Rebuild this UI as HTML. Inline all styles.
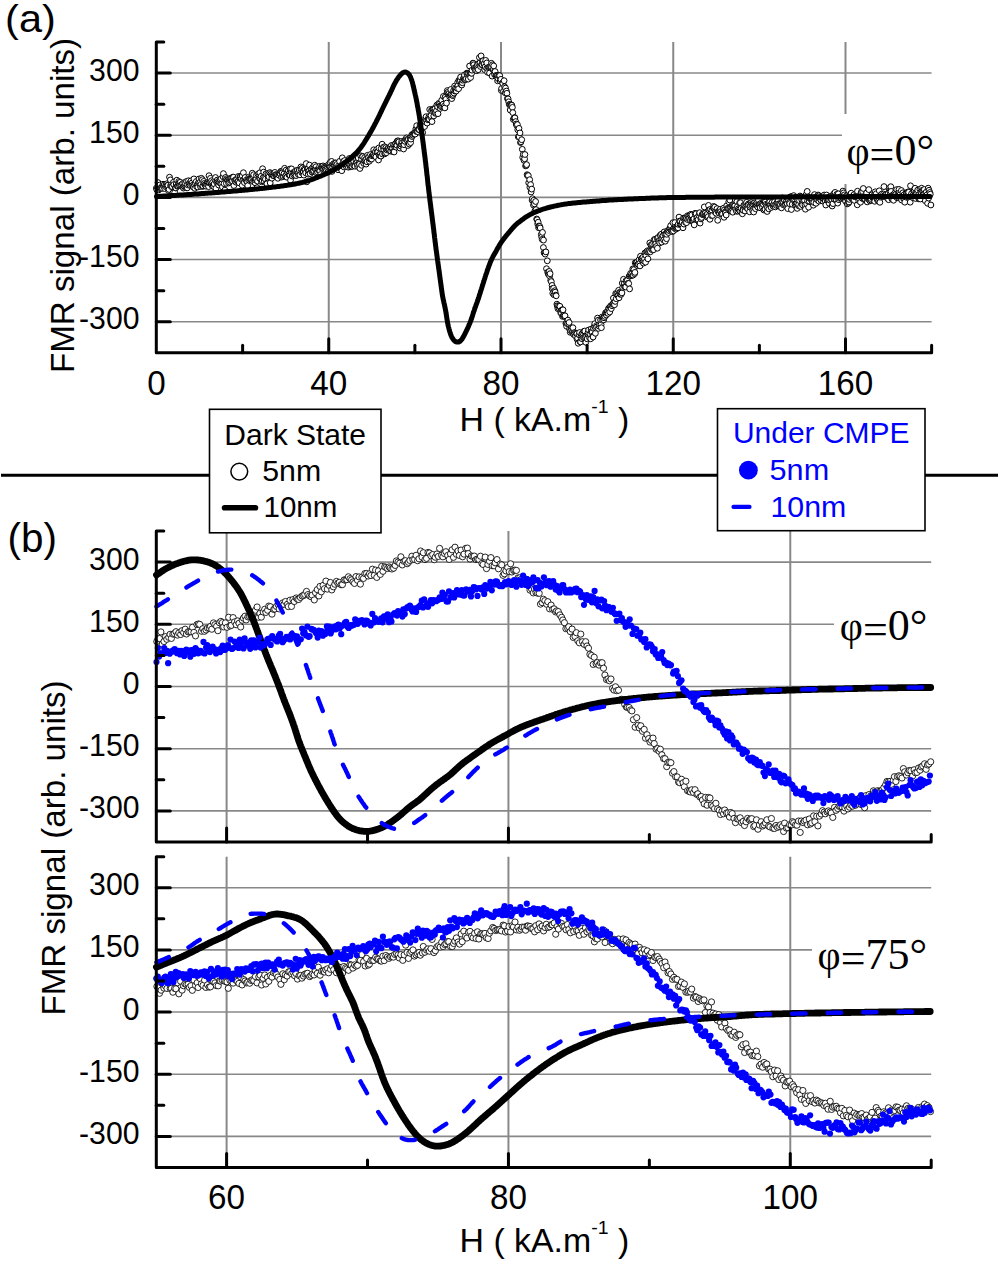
<!DOCTYPE html><html><head><meta charset="utf-8"><style>html,body{margin:0;padding:0;background:#fff;}svg{display:block;}</style></head><body>
<svg width="1000" height="1261" viewBox="0 0 1000 1261">
<rect width="1000" height="1261" fill="#fff"/>
<g stroke="#888888"><line x1="328.75" y1="42.0" x2="328.75" y2="352.8" stroke-width="2"/><line x1="501.00" y1="42.0" x2="501.00" y2="352.8" stroke-width="2"/><line x1="673.25" y1="42.0" x2="673.25" y2="352.8" stroke-width="2"/><line x1="845.50" y1="42.0" x2="845.50" y2="352.8" stroke-width="2"/><line x1="156.3" y1="73.05" x2="931.6" y2="73.05" stroke-width="1.6"/><line x1="156.3" y1="135.23" x2="931.6" y2="135.23" stroke-width="1.6"/><line x1="156.3" y1="197.40" x2="931.6" y2="197.40" stroke-width="1.6"/><line x1="156.3" y1="259.57" x2="931.6" y2="259.57" stroke-width="1.6"/><line x1="156.3" y1="321.75" x2="931.6" y2="321.75" stroke-width="1.6"/></g>
<rect x="842" y="114" width="92" height="70" fill="#fff"/>
<g fill="#fff" stroke="#000" stroke-width="1.0"><circle cx="156.4" cy="188.1" r="2.9"/><circle cx="156.8" cy="189.7" r="2.9"/><circle cx="157.8" cy="188.0" r="2.9"/><circle cx="158.0" cy="182.6" r="2.9"/><circle cx="158.7" cy="189.9" r="2.9"/><circle cx="159.2" cy="188.3" r="2.9"/><circle cx="159.8" cy="185.0" r="2.9"/><circle cx="160.3" cy="188.7" r="2.9"/><circle cx="160.9" cy="187.9" r="2.9"/><circle cx="161.5" cy="187.7" r="2.9"/><circle cx="162.1" cy="186.8" r="2.9"/><circle cx="162.5" cy="188.4" r="2.9"/><circle cx="163.0" cy="184.2" r="2.9"/><circle cx="163.5" cy="186.0" r="2.9"/><circle cx="164.3" cy="184.9" r="2.9"/><circle cx="164.7" cy="188.5" r="2.9"/><circle cx="165.4" cy="186.6" r="2.9"/><circle cx="165.9" cy="185.4" r="2.9"/><circle cx="166.7" cy="183.8" r="2.9"/><circle cx="167.0" cy="185.5" r="2.9"/><circle cx="167.6" cy="186.3" r="2.9"/><circle cx="167.9" cy="185.3" r="2.9"/><circle cx="168.4" cy="190.5" r="2.9"/><circle cx="169.1" cy="189.5" r="2.9"/><circle cx="169.5" cy="177.2" r="2.9"/><circle cx="170.4" cy="179.9" r="2.9"/><circle cx="170.6" cy="185.5" r="2.9"/><circle cx="171.4" cy="184.6" r="2.9"/><circle cx="171.5" cy="186.7" r="2.9"/><circle cx="172.3" cy="186.7" r="2.9"/><circle cx="172.9" cy="192.9" r="2.9"/><circle cx="173.5" cy="182.2" r="2.9"/><circle cx="173.8" cy="184.6" r="2.9"/><circle cx="174.7" cy="192.5" r="2.9"/><circle cx="175.3" cy="187.9" r="2.9"/><circle cx="175.8" cy="187.9" r="2.9"/><circle cx="176.2" cy="184.0" r="2.9"/><circle cx="176.8" cy="180.2" r="2.9"/><circle cx="177.2" cy="186.2" r="2.9"/><circle cx="178.0" cy="185.9" r="2.9"/><circle cx="178.7" cy="181.5" r="2.9"/><circle cx="179.0" cy="183.2" r="2.9"/><circle cx="179.3" cy="185.2" r="2.9"/><circle cx="180.2" cy="182.3" r="2.9"/><circle cx="180.8" cy="185.0" r="2.9"/><circle cx="180.8" cy="185.6" r="2.9"/><circle cx="181.8" cy="185.4" r="2.9"/><circle cx="182.7" cy="183.6" r="2.9"/><circle cx="183.0" cy="187.2" r="2.9"/><circle cx="183.5" cy="188.1" r="2.9"/><circle cx="184.1" cy="186.2" r="2.9"/><circle cx="184.7" cy="182.4" r="2.9"/><circle cx="185.0" cy="187.4" r="2.9"/><circle cx="185.5" cy="183.3" r="2.9"/><circle cx="186.3" cy="187.8" r="2.9"/><circle cx="186.6" cy="181.4" r="2.9"/><circle cx="187.3" cy="187.9" r="2.9"/><circle cx="187.6" cy="184.8" r="2.9"/><circle cx="188.5" cy="180.7" r="2.9"/><circle cx="189.1" cy="183.7" r="2.9"/><circle cx="189.5" cy="184.9" r="2.9"/><circle cx="190.1" cy="185.5" r="2.9"/><circle cx="190.8" cy="181.4" r="2.9"/><circle cx="191.0" cy="180.9" r="2.9"/><circle cx="191.6" cy="185.2" r="2.9"/><circle cx="192.1" cy="182.9" r="2.9"/><circle cx="192.7" cy="185.2" r="2.9"/><circle cx="193.2" cy="186.9" r="2.9"/><circle cx="193.9" cy="178.9" r="2.9"/><circle cx="194.4" cy="185.1" r="2.9"/><circle cx="194.8" cy="188.3" r="2.9"/><circle cx="195.3" cy="183.2" r="2.9"/><circle cx="196.3" cy="181.5" r="2.9"/><circle cx="196.6" cy="186.6" r="2.9"/><circle cx="197.2" cy="184.9" r="2.9"/><circle cx="197.8" cy="187.0" r="2.9"/><circle cx="198.3" cy="182.8" r="2.9"/><circle cx="199.0" cy="179.0" r="2.9"/><circle cx="199.5" cy="183.5" r="2.9"/><circle cx="199.9" cy="182.4" r="2.9"/><circle cx="200.4" cy="186.4" r="2.9"/><circle cx="200.9" cy="184.4" r="2.9"/><circle cx="201.4" cy="178.3" r="2.9"/><circle cx="202.4" cy="179.7" r="2.9"/><circle cx="202.6" cy="186.5" r="2.9"/><circle cx="202.9" cy="185.8" r="2.9"/><circle cx="203.7" cy="181.4" r="2.9"/><circle cx="204.2" cy="183.5" r="2.9"/><circle cx="204.9" cy="184.9" r="2.9"/><circle cx="205.3" cy="184.9" r="2.9"/><circle cx="206.1" cy="186.2" r="2.9"/><circle cx="206.6" cy="184.1" r="2.9"/><circle cx="207.3" cy="182.9" r="2.9"/><circle cx="208.0" cy="182.3" r="2.9"/><circle cx="208.6" cy="186.6" r="2.9"/><circle cx="209.0" cy="175.7" r="2.9"/><circle cx="209.1" cy="182.6" r="2.9"/><circle cx="209.8" cy="183.1" r="2.9"/><circle cx="210.4" cy="178.3" r="2.9"/><circle cx="211.3" cy="184.0" r="2.9"/><circle cx="211.6" cy="180.7" r="2.9"/><circle cx="212.2" cy="185.7" r="2.9"/><circle cx="212.6" cy="182.4" r="2.9"/><circle cx="213.2" cy="184.9" r="2.9"/><circle cx="213.8" cy="186.7" r="2.9"/><circle cx="214.2" cy="183.9" r="2.9"/><circle cx="214.9" cy="179.7" r="2.9"/><circle cx="215.5" cy="177.5" r="2.9"/><circle cx="215.9" cy="188.3" r="2.9"/><circle cx="216.6" cy="182.1" r="2.9"/><circle cx="217.2" cy="180.1" r="2.9"/><circle cx="217.6" cy="182.8" r="2.9"/><circle cx="218.1" cy="181.6" r="2.9"/><circle cx="218.6" cy="185.0" r="2.9"/><circle cx="219.1" cy="182.3" r="2.9"/><circle cx="219.8" cy="182.2" r="2.9"/><circle cx="220.2" cy="179.7" r="2.9"/><circle cx="220.8" cy="183.6" r="2.9"/><circle cx="221.3" cy="178.6" r="2.9"/><circle cx="221.7" cy="184.1" r="2.9"/><circle cx="222.4" cy="186.9" r="2.9"/><circle cx="223.1" cy="176.8" r="2.9"/><circle cx="223.4" cy="173.6" r="2.9"/><circle cx="224.1" cy="183.7" r="2.9"/><circle cx="224.9" cy="190.1" r="2.9"/><circle cx="225.4" cy="178.3" r="2.9"/><circle cx="225.7" cy="177.4" r="2.9"/><circle cx="226.4" cy="183.4" r="2.9"/><circle cx="226.8" cy="178.7" r="2.9"/><circle cx="227.7" cy="179.7" r="2.9"/><circle cx="227.9" cy="180.2" r="2.9"/><circle cx="228.6" cy="183.0" r="2.9"/><circle cx="229.3" cy="179.9" r="2.9"/><circle cx="229.5" cy="182.1" r="2.9"/><circle cx="230.4" cy="180.5" r="2.9"/><circle cx="230.6" cy="178.3" r="2.9"/><circle cx="231.3" cy="179.9" r="2.9"/><circle cx="231.8" cy="177.8" r="2.9"/><circle cx="232.4" cy="180.9" r="2.9"/><circle cx="233.0" cy="177.1" r="2.9"/><circle cx="233.5" cy="177.2" r="2.9"/><circle cx="233.9" cy="185.5" r="2.9"/><circle cx="234.7" cy="180.5" r="2.9"/><circle cx="235.3" cy="180.4" r="2.9"/><circle cx="235.9" cy="182.2" r="2.9"/><circle cx="236.5" cy="179.1" r="2.9"/><circle cx="236.6" cy="179.7" r="2.9"/><circle cx="237.5" cy="181.8" r="2.9"/><circle cx="238.1" cy="181.2" r="2.9"/><circle cx="238.4" cy="176.4" r="2.9"/><circle cx="239.2" cy="182.9" r="2.9"/><circle cx="239.8" cy="178.2" r="2.9"/><circle cx="240.0" cy="176.6" r="2.9"/><circle cx="240.4" cy="177.0" r="2.9"/><circle cx="241.1" cy="178.7" r="2.9"/><circle cx="242.2" cy="185.3" r="2.9"/><circle cx="242.3" cy="176.0" r="2.9"/><circle cx="242.7" cy="180.3" r="2.9"/><circle cx="243.4" cy="172.7" r="2.9"/><circle cx="243.8" cy="179.7" r="2.9"/><circle cx="244.4" cy="182.6" r="2.9"/><circle cx="245.1" cy="178.8" r="2.9"/><circle cx="245.2" cy="177.4" r="2.9"/><circle cx="246.2" cy="180.2" r="2.9"/><circle cx="246.9" cy="181.7" r="2.9"/><circle cx="247.2" cy="181.5" r="2.9"/><circle cx="247.7" cy="185.7" r="2.9"/><circle cx="248.5" cy="179.9" r="2.9"/><circle cx="248.7" cy="177.2" r="2.9"/><circle cx="249.3" cy="178.6" r="2.9"/><circle cx="249.8" cy="178.8" r="2.9"/><circle cx="250.5" cy="179.3" r="2.9"/><circle cx="251.2" cy="178.8" r="2.9"/><circle cx="251.6" cy="179.4" r="2.9"/><circle cx="252.3" cy="173.2" r="2.9"/><circle cx="252.9" cy="181.4" r="2.9"/><circle cx="253.4" cy="176.7" r="2.9"/><circle cx="253.7" cy="174.7" r="2.9"/><circle cx="254.4" cy="180.6" r="2.9"/><circle cx="255.1" cy="182.8" r="2.9"/><circle cx="255.3" cy="180.0" r="2.9"/><circle cx="256.0" cy="178.9" r="2.9"/><circle cx="256.5" cy="175.2" r="2.9"/><circle cx="257.1" cy="187.7" r="2.9"/><circle cx="257.5" cy="181.1" r="2.9"/><circle cx="258.0" cy="174.3" r="2.9"/><circle cx="259.2" cy="175.5" r="2.9"/><circle cx="259.5" cy="178.3" r="2.9"/><circle cx="259.8" cy="172.8" r="2.9"/><circle cx="260.4" cy="178.4" r="2.9"/><circle cx="261.1" cy="176.3" r="2.9"/><circle cx="261.5" cy="181.8" r="2.9"/><circle cx="262.2" cy="180.8" r="2.9"/><circle cx="262.6" cy="168.7" r="2.9"/><circle cx="263.1" cy="177.7" r="2.9"/><circle cx="263.7" cy="172.1" r="2.9"/><circle cx="264.2" cy="181.1" r="2.9"/><circle cx="264.5" cy="177.9" r="2.9"/><circle cx="265.4" cy="179.1" r="2.9"/><circle cx="266.0" cy="173.7" r="2.9"/><circle cx="266.6" cy="183.2" r="2.9"/><circle cx="266.9" cy="183.8" r="2.9"/><circle cx="267.7" cy="173.5" r="2.9"/><circle cx="268.2" cy="178.2" r="2.9"/><circle cx="268.4" cy="174.7" r="2.9"/><circle cx="268.9" cy="176.8" r="2.9"/><circle cx="269.9" cy="172.6" r="2.9"/><circle cx="270.2" cy="182.9" r="2.9"/><circle cx="271.1" cy="173.5" r="2.9"/><circle cx="271.8" cy="175.6" r="2.9"/><circle cx="271.9" cy="178.2" r="2.9"/><circle cx="272.4" cy="174.3" r="2.9"/><circle cx="273.1" cy="175.6" r="2.9"/><circle cx="273.8" cy="174.5" r="2.9"/><circle cx="274.0" cy="175.8" r="2.9"/><circle cx="274.9" cy="172.4" r="2.9"/><circle cx="275.4" cy="174.7" r="2.9"/><circle cx="275.9" cy="175.4" r="2.9"/><circle cx="276.3" cy="174.9" r="2.9"/><circle cx="277.1" cy="176.1" r="2.9"/><circle cx="277.6" cy="174.9" r="2.9"/><circle cx="277.9" cy="178.3" r="2.9"/><circle cx="278.9" cy="174.7" r="2.9"/><circle cx="279.1" cy="175.2" r="2.9"/><circle cx="279.8" cy="173.4" r="2.9"/><circle cx="280.2" cy="173.8" r="2.9"/><circle cx="280.9" cy="171.3" r="2.9"/><circle cx="281.5" cy="177.1" r="2.9"/><circle cx="281.8" cy="171.6" r="2.9"/><circle cx="282.2" cy="172.8" r="2.9"/><circle cx="282.9" cy="176.4" r="2.9"/><circle cx="283.4" cy="176.5" r="2.9"/><circle cx="284.0" cy="173.7" r="2.9"/><circle cx="284.6" cy="168.3" r="2.9"/><circle cx="285.2" cy="176.3" r="2.9"/><circle cx="285.9" cy="175.7" r="2.9"/><circle cx="286.1" cy="170.1" r="2.9"/><circle cx="286.9" cy="177.2" r="2.9"/><circle cx="287.3" cy="172.3" r="2.9"/><circle cx="288.2" cy="170.8" r="2.9"/><circle cx="288.9" cy="174.8" r="2.9"/><circle cx="289.1" cy="173.8" r="2.9"/><circle cx="289.9" cy="175.0" r="2.9"/><circle cx="290.1" cy="169.0" r="2.9"/><circle cx="290.5" cy="180.2" r="2.9"/><circle cx="291.1" cy="172.1" r="2.9"/><circle cx="291.6" cy="168.9" r="2.9"/><circle cx="292.2" cy="176.0" r="2.9"/><circle cx="292.9" cy="172.7" r="2.9"/><circle cx="293.6" cy="174.9" r="2.9"/><circle cx="294.1" cy="172.6" r="2.9"/><circle cx="294.6" cy="173.4" r="2.9"/><circle cx="295.0" cy="174.4" r="2.9"/><circle cx="295.5" cy="171.0" r="2.9"/><circle cx="296.2" cy="175.6" r="2.9"/><circle cx="296.8" cy="171.7" r="2.9"/><circle cx="297.3" cy="170.3" r="2.9"/><circle cx="297.9" cy="173.4" r="2.9"/><circle cx="298.4" cy="174.5" r="2.9"/><circle cx="298.7" cy="172.2" r="2.9"/><circle cx="299.3" cy="170.0" r="2.9"/><circle cx="299.9" cy="174.8" r="2.9"/><circle cx="300.9" cy="166.9" r="2.9"/><circle cx="301.1" cy="169.2" r="2.9"/><circle cx="301.8" cy="172.6" r="2.9"/><circle cx="302.5" cy="167.9" r="2.9"/><circle cx="302.9" cy="172.4" r="2.9"/><circle cx="303.3" cy="172.0" r="2.9"/><circle cx="303.9" cy="175.1" r="2.9"/><circle cx="304.3" cy="169.0" r="2.9"/><circle cx="305.0" cy="169.8" r="2.9"/><circle cx="305.7" cy="172.9" r="2.9"/><circle cx="306.2" cy="163.6" r="2.9"/><circle cx="306.8" cy="181.8" r="2.9"/><circle cx="307.3" cy="169.1" r="2.9"/><circle cx="308.1" cy="168.9" r="2.9"/><circle cx="308.2" cy="174.1" r="2.9"/><circle cx="308.9" cy="171.0" r="2.9"/><circle cx="309.5" cy="165.1" r="2.9"/><circle cx="310.1" cy="172.9" r="2.9"/><circle cx="310.1" cy="173.6" r="2.9"/><circle cx="311.0" cy="169.2" r="2.9"/><circle cx="311.6" cy="169.6" r="2.9"/><circle cx="312.0" cy="172.0" r="2.9"/><circle cx="312.8" cy="167.3" r="2.9"/><circle cx="313.3" cy="171.6" r="2.9"/><circle cx="313.7" cy="170.7" r="2.9"/><circle cx="314.1" cy="167.7" r="2.9"/><circle cx="314.7" cy="165.2" r="2.9"/><circle cx="315.3" cy="169.0" r="2.9"/><circle cx="316.1" cy="166.7" r="2.9"/><circle cx="316.4" cy="172.8" r="2.9"/><circle cx="316.8" cy="169.8" r="2.9"/><circle cx="317.4" cy="171.8" r="2.9"/><circle cx="318.1" cy="169.6" r="2.9"/><circle cx="319.0" cy="169.9" r="2.9"/><circle cx="319.7" cy="166.3" r="2.9"/><circle cx="319.8" cy="171.0" r="2.9"/><circle cx="320.5" cy="174.6" r="2.9"/><circle cx="321.2" cy="167.6" r="2.9"/><circle cx="321.7" cy="166.5" r="2.9"/><circle cx="322.0" cy="167.8" r="2.9"/><circle cx="322.4" cy="166.7" r="2.9"/><circle cx="323.1" cy="165.9" r="2.9"/><circle cx="323.4" cy="168.5" r="2.9"/><circle cx="324.3" cy="167.0" r="2.9"/><circle cx="324.9" cy="172.6" r="2.9"/><circle cx="325.1" cy="167.8" r="2.9"/><circle cx="325.9" cy="168.8" r="2.9"/><circle cx="326.5" cy="170.8" r="2.9"/><circle cx="327.2" cy="166.5" r="2.9"/><circle cx="327.8" cy="172.2" r="2.9"/><circle cx="328.2" cy="165.3" r="2.9"/><circle cx="328.5" cy="164.6" r="2.9"/><circle cx="329.1" cy="166.0" r="2.9"/><circle cx="329.9" cy="166.7" r="2.9"/><circle cx="330.2" cy="162.4" r="2.9"/><circle cx="330.8" cy="166.8" r="2.9"/><circle cx="331.6" cy="161.4" r="2.9"/><circle cx="332.0" cy="171.4" r="2.9"/><circle cx="332.3" cy="166.5" r="2.9"/><circle cx="333.0" cy="164.5" r="2.9"/><circle cx="333.7" cy="163.6" r="2.9"/><circle cx="334.1" cy="165.2" r="2.9"/><circle cx="334.9" cy="165.7" r="2.9"/><circle cx="335.4" cy="162.9" r="2.9"/><circle cx="335.7" cy="163.2" r="2.9"/><circle cx="336.3" cy="165.6" r="2.9"/><circle cx="336.9" cy="164.4" r="2.9"/><circle cx="337.3" cy="169.1" r="2.9"/><circle cx="338.1" cy="169.7" r="2.9"/><circle cx="338.5" cy="165.9" r="2.9"/><circle cx="339.2" cy="167.4" r="2.9"/><circle cx="339.6" cy="161.3" r="2.9"/><circle cx="340.1" cy="167.8" r="2.9"/><circle cx="341.0" cy="165.5" r="2.9"/><circle cx="341.2" cy="167.1" r="2.9"/><circle cx="341.8" cy="170.7" r="2.9"/><circle cx="342.3" cy="157.8" r="2.9"/><circle cx="342.9" cy="166.1" r="2.9"/><circle cx="343.4" cy="161.5" r="2.9"/><circle cx="344.0" cy="167.0" r="2.9"/><circle cx="344.5" cy="160.6" r="2.9"/><circle cx="345.1" cy="163.3" r="2.9"/><circle cx="345.8" cy="165.5" r="2.9"/><circle cx="346.4" cy="166.7" r="2.9"/><circle cx="346.9" cy="164.8" r="2.9"/><circle cx="347.2" cy="161.9" r="2.9"/><circle cx="348.0" cy="162.6" r="2.9"/><circle cx="348.4" cy="167.2" r="2.9"/><circle cx="349.0" cy="164.2" r="2.9"/><circle cx="349.3" cy="158.5" r="2.9"/><circle cx="350.2" cy="166.8" r="2.9"/><circle cx="350.6" cy="165.2" r="2.9"/><circle cx="351.5" cy="166.6" r="2.9"/><circle cx="351.8" cy="162.5" r="2.9"/><circle cx="352.1" cy="166.3" r="2.9"/><circle cx="352.6" cy="159.9" r="2.9"/><circle cx="353.6" cy="165.2" r="2.9"/><circle cx="353.8" cy="161.5" r="2.9"/><circle cx="354.6" cy="165.3" r="2.9"/><circle cx="355.0" cy="166.2" r="2.9"/><circle cx="355.9" cy="160.3" r="2.9"/><circle cx="356.2" cy="162.5" r="2.9"/><circle cx="356.9" cy="162.6" r="2.9"/><circle cx="357.5" cy="166.3" r="2.9"/><circle cx="357.7" cy="164.5" r="2.9"/><circle cx="358.3" cy="158.0" r="2.9"/><circle cx="359.1" cy="163.4" r="2.9"/><circle cx="359.5" cy="164.2" r="2.9"/><circle cx="359.9" cy="168.5" r="2.9"/><circle cx="360.7" cy="155.8" r="2.9"/><circle cx="361.5" cy="159.4" r="2.9"/><circle cx="361.6" cy="165.3" r="2.9"/><circle cx="362.4" cy="156.3" r="2.9"/><circle cx="362.7" cy="156.6" r="2.9"/><circle cx="363.5" cy="162.0" r="2.9"/><circle cx="363.8" cy="163.4" r="2.9"/><circle cx="364.6" cy="157.6" r="2.9"/><circle cx="365.0" cy="161.4" r="2.9"/><circle cx="365.5" cy="159.7" r="2.9"/><circle cx="366.1" cy="164.1" r="2.9"/><circle cx="366.5" cy="158.8" r="2.9"/><circle cx="367.0" cy="161.8" r="2.9"/><circle cx="367.5" cy="155.3" r="2.9"/><circle cx="368.2" cy="157.4" r="2.9"/><circle cx="368.6" cy="157.4" r="2.9"/><circle cx="369.4" cy="161.2" r="2.9"/><circle cx="370.0" cy="159.1" r="2.9"/><circle cx="370.5" cy="154.5" r="2.9"/><circle cx="370.9" cy="158.9" r="2.9"/><circle cx="371.6" cy="159.0" r="2.9"/><circle cx="372.1" cy="155.8" r="2.9"/><circle cx="372.9" cy="155.1" r="2.9"/><circle cx="373.1" cy="155.0" r="2.9"/><circle cx="373.7" cy="149.8" r="2.9"/><circle cx="374.3" cy="155.8" r="2.9"/><circle cx="374.8" cy="155.7" r="2.9"/><circle cx="375.3" cy="151.8" r="2.9"/><circle cx="375.9" cy="156.9" r="2.9"/><circle cx="376.7" cy="149.6" r="2.9"/><circle cx="377.0" cy="152.1" r="2.9"/><circle cx="377.7" cy="152.1" r="2.9"/><circle cx="378.5" cy="160.0" r="2.9"/><circle cx="378.9" cy="147.9" r="2.9"/><circle cx="379.0" cy="154.8" r="2.9"/><circle cx="379.9" cy="155.8" r="2.9"/><circle cx="380.4" cy="153.7" r="2.9"/><circle cx="381.0" cy="156.1" r="2.9"/><circle cx="381.2" cy="148.6" r="2.9"/><circle cx="382.1" cy="144.2" r="2.9"/><circle cx="382.4" cy="154.0" r="2.9"/><circle cx="383.3" cy="147.3" r="2.9"/><circle cx="383.8" cy="149.9" r="2.9"/><circle cx="384.6" cy="146.8" r="2.9"/><circle cx="384.7" cy="153.9" r="2.9"/><circle cx="385.1" cy="153.1" r="2.9"/><circle cx="386.0" cy="147.6" r="2.9"/><circle cx="386.5" cy="152.7" r="2.9"/><circle cx="386.9" cy="149.9" r="2.9"/><circle cx="387.7" cy="148.8" r="2.9"/><circle cx="388.2" cy="149.2" r="2.9"/><circle cx="388.4" cy="148.1" r="2.9"/><circle cx="389.1" cy="150.5" r="2.9"/><circle cx="389.6" cy="149.3" r="2.9"/><circle cx="390.2" cy="146.9" r="2.9"/><circle cx="390.8" cy="151.1" r="2.9"/><circle cx="391.3" cy="145.5" r="2.9"/><circle cx="391.9" cy="148.2" r="2.9"/><circle cx="392.5" cy="148.4" r="2.9"/><circle cx="393.0" cy="151.7" r="2.9"/><circle cx="393.5" cy="144.9" r="2.9"/><circle cx="394.1" cy="152.0" r="2.9"/><circle cx="394.6" cy="146.6" r="2.9"/><circle cx="394.9" cy="145.1" r="2.9"/><circle cx="395.8" cy="143.3" r="2.9"/><circle cx="396.2" cy="147.2" r="2.9"/><circle cx="396.9" cy="145.2" r="2.9"/><circle cx="397.2" cy="141.1" r="2.9"/><circle cx="398.1" cy="140.8" r="2.9"/><circle cx="398.5" cy="142.5" r="2.9"/><circle cx="398.9" cy="141.8" r="2.9"/><circle cx="399.6" cy="147.4" r="2.9"/><circle cx="400.0" cy="148.1" r="2.9"/><circle cx="401.0" cy="146.2" r="2.9"/><circle cx="401.3" cy="144.2" r="2.9"/><circle cx="401.7" cy="141.4" r="2.9"/><circle cx="402.4" cy="142.7" r="2.9"/><circle cx="402.9" cy="145.2" r="2.9"/><circle cx="403.6" cy="149.0" r="2.9"/><circle cx="404.1" cy="144.7" r="2.9"/><circle cx="404.6" cy="140.5" r="2.9"/><circle cx="404.9" cy="141.3" r="2.9"/><circle cx="405.8" cy="139.2" r="2.9"/><circle cx="406.5" cy="137.9" r="2.9"/><circle cx="406.9" cy="139.6" r="2.9"/><circle cx="407.3" cy="140.5" r="2.9"/><circle cx="407.9" cy="145.5" r="2.9"/><circle cx="408.3" cy="139.2" r="2.9"/><circle cx="409.0" cy="143.1" r="2.9"/><circle cx="409.3" cy="144.0" r="2.9"/><circle cx="410.1" cy="138.0" r="2.9"/><circle cx="410.6" cy="142.6" r="2.9"/><circle cx="411.0" cy="139.1" r="2.9"/><circle cx="411.8" cy="134.8" r="2.9"/><circle cx="412.0" cy="136.5" r="2.9"/><circle cx="412.8" cy="135.2" r="2.9"/><circle cx="413.2" cy="133.7" r="2.9"/><circle cx="414.2" cy="133.2" r="2.9"/><circle cx="414.8" cy="133.8" r="2.9"/><circle cx="415.1" cy="134.1" r="2.9"/><circle cx="415.8" cy="129.1" r="2.9"/><circle cx="416.2" cy="131.4" r="2.9"/><circle cx="416.7" cy="125.7" r="2.9"/><circle cx="417.1" cy="131.0" r="2.9"/><circle cx="417.6" cy="131.6" r="2.9"/><circle cx="418.3" cy="129.4" r="2.9"/><circle cx="418.8" cy="129.2" r="2.9"/><circle cx="419.3" cy="129.6" r="2.9"/><circle cx="420.1" cy="124.9" r="2.9"/><circle cx="420.5" cy="125.7" r="2.9"/><circle cx="420.8" cy="127.6" r="2.9"/><circle cx="421.6" cy="128.6" r="2.9"/><circle cx="422.0" cy="126.0" r="2.9"/><circle cx="422.7" cy="132.6" r="2.9"/><circle cx="423.1" cy="123.2" r="2.9"/><circle cx="424.0" cy="126.3" r="2.9"/><circle cx="424.6" cy="126.5" r="2.9"/><circle cx="424.7" cy="121.3" r="2.9"/><circle cx="425.6" cy="118.5" r="2.9"/><circle cx="426.1" cy="116.7" r="2.9"/><circle cx="426.4" cy="120.6" r="2.9"/><circle cx="427.1" cy="123.1" r="2.9"/><circle cx="427.9" cy="119.8" r="2.9"/><circle cx="428.3" cy="118.9" r="2.9"/><circle cx="429.0" cy="116.5" r="2.9"/><circle cx="429.1" cy="119.0" r="2.9"/><circle cx="429.7" cy="109.5" r="2.9"/><circle cx="430.5" cy="116.8" r="2.9"/><circle cx="431.0" cy="115.6" r="2.9"/><circle cx="431.5" cy="110.4" r="2.9"/><circle cx="432.0" cy="121.6" r="2.9"/><circle cx="432.5" cy="109.3" r="2.9"/><circle cx="433.1" cy="109.7" r="2.9"/><circle cx="433.8" cy="108.8" r="2.9"/><circle cx="433.8" cy="115.9" r="2.9"/><circle cx="435.0" cy="108.7" r="2.9"/><circle cx="435.3" cy="113.3" r="2.9"/><circle cx="435.7" cy="112.5" r="2.9"/><circle cx="436.5" cy="110.8" r="2.9"/><circle cx="436.8" cy="105.1" r="2.9"/><circle cx="437.6" cy="106.8" r="2.9"/><circle cx="438.0" cy="113.7" r="2.9"/><circle cx="438.7" cy="103.4" r="2.9"/><circle cx="439.3" cy="104.2" r="2.9"/><circle cx="440.0" cy="105.8" r="2.9"/><circle cx="440.2" cy="108.4" r="2.9"/><circle cx="440.8" cy="105.9" r="2.9"/><circle cx="441.4" cy="106.8" r="2.9"/><circle cx="441.7" cy="100.2" r="2.9"/><circle cx="442.6" cy="106.2" r="2.9"/><circle cx="443.1" cy="104.2" r="2.9"/><circle cx="443.4" cy="96.4" r="2.9"/><circle cx="444.3" cy="106.1" r="2.9"/><circle cx="444.9" cy="107.9" r="2.9"/><circle cx="445.1" cy="97.2" r="2.9"/><circle cx="445.9" cy="99.3" r="2.9"/><circle cx="446.5" cy="103.1" r="2.9"/><circle cx="447.0" cy="92.9" r="2.9"/><circle cx="447.3" cy="90.6" r="2.9"/><circle cx="447.8" cy="92.3" r="2.9"/><circle cx="448.5" cy="94.1" r="2.9"/><circle cx="449.0" cy="93.5" r="2.9"/><circle cx="449.7" cy="96.8" r="2.9"/><circle cx="450.2" cy="95.1" r="2.9"/><circle cx="450.8" cy="89.5" r="2.9"/><circle cx="451.2" cy="94.9" r="2.9"/><circle cx="451.8" cy="98.6" r="2.9"/><circle cx="452.8" cy="95.7" r="2.9"/><circle cx="452.9" cy="94.4" r="2.9"/><circle cx="453.6" cy="90.6" r="2.9"/><circle cx="454.1" cy="93.1" r="2.9"/><circle cx="454.6" cy="86.1" r="2.9"/><circle cx="455.0" cy="91.1" r="2.9"/><circle cx="455.8" cy="87.7" r="2.9"/><circle cx="456.2" cy="91.0" r="2.9"/><circle cx="456.9" cy="88.2" r="2.9"/><circle cx="457.7" cy="82.4" r="2.9"/><circle cx="457.9" cy="85.7" r="2.9"/><circle cx="458.6" cy="88.7" r="2.9"/><circle cx="458.9" cy="80.3" r="2.9"/><circle cx="459.6" cy="81.5" r="2.9"/><circle cx="460.3" cy="80.1" r="2.9"/><circle cx="460.6" cy="77.1" r="2.9"/><circle cx="461.1" cy="84.5" r="2.9"/><circle cx="461.8" cy="85.0" r="2.9"/><circle cx="462.3" cy="82.7" r="2.9"/><circle cx="462.8" cy="80.2" r="2.9"/><circle cx="463.3" cy="78.6" r="2.9"/><circle cx="464.3" cy="78.9" r="2.9"/><circle cx="464.4" cy="75.0" r="2.9"/><circle cx="465.0" cy="79.7" r="2.9"/><circle cx="465.5" cy="79.6" r="2.9"/><circle cx="466.3" cy="78.6" r="2.9"/><circle cx="466.7" cy="73.2" r="2.9"/><circle cx="467.4" cy="74.6" r="2.9"/><circle cx="467.8" cy="73.2" r="2.9"/><circle cx="468.3" cy="79.1" r="2.9"/><circle cx="468.7" cy="73.3" r="2.9"/><circle cx="469.6" cy="66.0" r="2.9"/><circle cx="470.1" cy="73.0" r="2.9"/><circle cx="470.6" cy="77.5" r="2.9"/><circle cx="471.1" cy="73.1" r="2.9"/><circle cx="471.6" cy="73.3" r="2.9"/><circle cx="472.0" cy="70.2" r="2.9"/><circle cx="472.9" cy="63.2" r="2.9"/><circle cx="473.3" cy="63.3" r="2.9"/><circle cx="473.8" cy="64.8" r="2.9"/><circle cx="474.3" cy="68.2" r="2.9"/><circle cx="475.0" cy="69.3" r="2.9"/><circle cx="475.5" cy="70.3" r="2.9"/><circle cx="476.3" cy="66.6" r="2.9"/><circle cx="476.7" cy="70.7" r="2.9"/><circle cx="477.1" cy="66.3" r="2.9"/><circle cx="477.5" cy="64.7" r="2.9"/><circle cx="478.2" cy="69.7" r="2.9"/><circle cx="478.7" cy="63.6" r="2.9"/><circle cx="479.4" cy="57.5" r="2.9"/><circle cx="480.0" cy="62.8" r="2.9"/><circle cx="480.5" cy="66.5" r="2.9"/><circle cx="481.1" cy="55.9" r="2.9"/><circle cx="481.5" cy="64.7" r="2.9"/><circle cx="482.2" cy="64.7" r="2.9"/><circle cx="482.5" cy="61.0" r="2.9"/><circle cx="483.2" cy="60.7" r="2.9"/><circle cx="483.9" cy="64.0" r="2.9"/><circle cx="484.3" cy="63.7" r="2.9"/><circle cx="484.7" cy="69.7" r="2.9"/><circle cx="485.2" cy="66.8" r="2.9"/><circle cx="485.7" cy="60.4" r="2.9"/><circle cx="486.8" cy="62.9" r="2.9"/><circle cx="486.8" cy="68.2" r="2.9"/><circle cx="487.6" cy="72.3" r="2.9"/><circle cx="488.4" cy="67.5" r="2.9"/><circle cx="488.9" cy="67.5" r="2.9"/><circle cx="489.5" cy="73.0" r="2.9"/><circle cx="489.7" cy="67.1" r="2.9"/><circle cx="490.5" cy="66.5" r="2.9"/><circle cx="491.4" cy="63.3" r="2.9"/><circle cx="491.4" cy="66.8" r="2.9"/><circle cx="492.1" cy="76.1" r="2.9"/><circle cx="492.5" cy="64.8" r="2.9"/><circle cx="493.1" cy="70.0" r="2.9"/><circle cx="493.7" cy="65.9" r="2.9"/><circle cx="494.4" cy="71.5" r="2.9"/><circle cx="494.6" cy="74.6" r="2.9"/><circle cx="495.1" cy="71.5" r="2.9"/><circle cx="495.9" cy="75.4" r="2.9"/><circle cx="496.4" cy="76.0" r="2.9"/><circle cx="497.2" cy="75.9" r="2.9"/><circle cx="497.6" cy="80.8" r="2.9"/><circle cx="498.0" cy="78.5" r="2.9"/><circle cx="498.7" cy="75.8" r="2.9"/><circle cx="499.3" cy="75.4" r="2.9"/><circle cx="499.7" cy="75.7" r="2.9"/><circle cx="500.2" cy="81.0" r="2.9"/><circle cx="500.9" cy="79.3" r="2.9"/><circle cx="501.3" cy="90.4" r="2.9"/><circle cx="501.6" cy="88.5" r="2.9"/><circle cx="502.7" cy="82.7" r="2.9"/><circle cx="502.8" cy="83.5" r="2.9"/><circle cx="503.5" cy="91.3" r="2.9"/><circle cx="504.1" cy="80.7" r="2.9"/><circle cx="504.6" cy="86.8" r="2.9"/><circle cx="505.2" cy="92.8" r="2.9"/><circle cx="505.5" cy="88.1" r="2.9"/><circle cx="506.4" cy="91.1" r="2.9"/><circle cx="506.9" cy="93.3" r="2.9"/><circle cx="507.4" cy="98.5" r="2.9"/><circle cx="508.1" cy="98.9" r="2.9"/><circle cx="508.7" cy="101.8" r="2.9"/><circle cx="509.3" cy="104.5" r="2.9"/><circle cx="509.9" cy="104.6" r="2.9"/><circle cx="510.2" cy="110.0" r="2.9"/><circle cx="510.5" cy="105.6" r="2.9"/><circle cx="511.3" cy="104.9" r="2.9"/><circle cx="511.8" cy="105.3" r="2.9"/><circle cx="512.4" cy="107.4" r="2.9"/><circle cx="512.8" cy="112.6" r="2.9"/><circle cx="513.3" cy="119.4" r="2.9"/><circle cx="514.1" cy="118.3" r="2.9"/><circle cx="514.7" cy="117.6" r="2.9"/><circle cx="514.9" cy="117.9" r="2.9"/><circle cx="515.7" cy="121.6" r="2.9"/><circle cx="516.2" cy="124.0" r="2.9"/><circle cx="516.7" cy="125.5" r="2.9"/><circle cx="517.4" cy="124.6" r="2.9"/><circle cx="517.8" cy="129.8" r="2.9"/><circle cx="518.3" cy="136.8" r="2.9"/><circle cx="519.0" cy="128.4" r="2.9"/><circle cx="519.2" cy="136.9" r="2.9"/><circle cx="520.0" cy="132.9" r="2.9"/><circle cx="520.5" cy="142.6" r="2.9"/><circle cx="520.9" cy="141.8" r="2.9"/><circle cx="521.7" cy="139.7" r="2.9"/><circle cx="522.3" cy="149.3" r="2.9"/><circle cx="522.7" cy="157.4" r="2.9"/><circle cx="523.3" cy="154.3" r="2.9"/><circle cx="524.0" cy="160.3" r="2.9"/><circle cx="524.6" cy="158.8" r="2.9"/><circle cx="524.9" cy="154.5" r="2.9"/><circle cx="525.6" cy="165.9" r="2.9"/><circle cx="526.3" cy="165.5" r="2.9"/><circle cx="526.6" cy="164.6" r="2.9"/><circle cx="527.1" cy="174.7" r="2.9"/><circle cx="527.6" cy="175.7" r="2.9"/><circle cx="528.3" cy="175.6" r="2.9"/><circle cx="528.7" cy="182.8" r="2.9"/><circle cx="529.7" cy="179.7" r="2.9"/><circle cx="529.9" cy="187.3" r="2.9"/><circle cx="530.6" cy="184.6" r="2.9"/><circle cx="531.1" cy="192.0" r="2.9"/><circle cx="531.7" cy="189.1" r="2.9"/><circle cx="532.1" cy="200.2" r="2.9"/><circle cx="532.5" cy="198.7" r="2.9"/><circle cx="533.5" cy="205.1" r="2.9"/><circle cx="533.8" cy="200.2" r="2.9"/><circle cx="534.4" cy="203.9" r="2.9"/><circle cx="534.9" cy="210.8" r="2.9"/><circle cx="535.6" cy="201.5" r="2.9"/><circle cx="536.1" cy="209.6" r="2.9"/><circle cx="536.7" cy="219.0" r="2.9"/><circle cx="537.2" cy="219.7" r="2.9"/><circle cx="537.7" cy="223.9" r="2.9"/><circle cx="538.2" cy="222.2" r="2.9"/><circle cx="538.6" cy="227.7" r="2.9"/><circle cx="539.0" cy="226.0" r="2.9"/><circle cx="539.8" cy="226.4" r="2.9"/><circle cx="540.2" cy="228.0" r="2.9"/><circle cx="541.3" cy="234.4" r="2.9"/><circle cx="541.7" cy="237.0" r="2.9"/><circle cx="542.2" cy="239.4" r="2.9"/><circle cx="542.5" cy="232.4" r="2.9"/><circle cx="543.5" cy="240.1" r="2.9"/><circle cx="543.4" cy="247.5" r="2.9"/><circle cx="544.1" cy="252.8" r="2.9"/><circle cx="544.7" cy="252.6" r="2.9"/><circle cx="545.2" cy="254.1" r="2.9"/><circle cx="545.9" cy="251.9" r="2.9"/><circle cx="546.5" cy="268.7" r="2.9"/><circle cx="547.3" cy="260.8" r="2.9"/><circle cx="547.7" cy="272.3" r="2.9"/><circle cx="548.3" cy="274.1" r="2.9"/><circle cx="548.7" cy="272.1" r="2.9"/><circle cx="549.2" cy="271.4" r="2.9"/><circle cx="549.6" cy="275.9" r="2.9"/><circle cx="550.1" cy="273.7" r="2.9"/><circle cx="550.7" cy="280.4" r="2.9"/><circle cx="551.3" cy="281.6" r="2.9"/><circle cx="552.1" cy="285.4" r="2.9"/><circle cx="552.2" cy="288.7" r="2.9"/><circle cx="552.8" cy="293.3" r="2.9"/><circle cx="553.6" cy="288.2" r="2.9"/><circle cx="554.0" cy="294.8" r="2.9"/><circle cx="554.8" cy="290.7" r="2.9"/><circle cx="555.2" cy="292.2" r="2.9"/><circle cx="555.7" cy="295.1" r="2.9"/><circle cx="556.2" cy="295.8" r="2.9"/><circle cx="556.9" cy="304.2" r="2.9"/><circle cx="557.3" cy="305.8" r="2.9"/><circle cx="557.9" cy="308.7" r="2.9"/><circle cx="558.5" cy="306.0" r="2.9"/><circle cx="559.1" cy="308.4" r="2.9"/><circle cx="559.7" cy="306.9" r="2.9"/><circle cx="559.9" cy="306.3" r="2.9"/><circle cx="560.7" cy="312.7" r="2.9"/><circle cx="561.4" cy="313.3" r="2.9"/><circle cx="562.0" cy="309.8" r="2.9"/><circle cx="562.5" cy="316.4" r="2.9"/><circle cx="563.0" cy="309.8" r="2.9"/><circle cx="563.3" cy="315.9" r="2.9"/><circle cx="563.9" cy="315.4" r="2.9"/><circle cx="564.7" cy="316.7" r="2.9"/><circle cx="565.0" cy="315.8" r="2.9"/><circle cx="565.9" cy="323.5" r="2.9"/><circle cx="566.4" cy="323.2" r="2.9"/><circle cx="566.6" cy="326.3" r="2.9"/><circle cx="567.4" cy="323.8" r="2.9"/><circle cx="567.9" cy="320.1" r="2.9"/><circle cx="568.8" cy="324.2" r="2.9"/><circle cx="569.1" cy="322.5" r="2.9"/><circle cx="569.5" cy="328.9" r="2.9"/><circle cx="570.2" cy="332.3" r="2.9"/><circle cx="570.5" cy="330.4" r="2.9"/><circle cx="571.2" cy="328.2" r="2.9"/><circle cx="571.8" cy="329.8" r="2.9"/><circle cx="572.3" cy="332.4" r="2.9"/><circle cx="572.9" cy="327.7" r="2.9"/><circle cx="573.3" cy="333.6" r="2.9"/><circle cx="573.7" cy="334.4" r="2.9"/><circle cx="574.4" cy="332.6" r="2.9"/><circle cx="574.9" cy="333.6" r="2.9"/><circle cx="575.5" cy="336.0" r="2.9"/><circle cx="576.5" cy="333.3" r="2.9"/><circle cx="576.9" cy="333.8" r="2.9"/><circle cx="577.2" cy="339.5" r="2.9"/><circle cx="577.6" cy="338.1" r="2.9"/><circle cx="578.2" cy="343.3" r="2.9"/><circle cx="579.0" cy="334.8" r="2.9"/><circle cx="579.6" cy="332.5" r="2.9"/><circle cx="580.0" cy="341.7" r="2.9"/><circle cx="580.6" cy="341.9" r="2.9"/><circle cx="581.1" cy="336.4" r="2.9"/><circle cx="581.8" cy="334.0" r="2.9"/><circle cx="581.9" cy="338.7" r="2.9"/><circle cx="582.8" cy="333.0" r="2.9"/><circle cx="583.4" cy="337.6" r="2.9"/><circle cx="584.0" cy="331.3" r="2.9"/><circle cx="584.5" cy="337.5" r="2.9"/><circle cx="584.8" cy="331.0" r="2.9"/><circle cx="585.4" cy="336.9" r="2.9"/><circle cx="585.8" cy="342.3" r="2.9"/><circle cx="586.6" cy="336.0" r="2.9"/><circle cx="587.2" cy="338.9" r="2.9"/><circle cx="587.8" cy="333.8" r="2.9"/><circle cx="588.1" cy="332.5" r="2.9"/><circle cx="588.6" cy="330.0" r="2.9"/><circle cx="589.6" cy="337.9" r="2.9"/><circle cx="589.9" cy="333.8" r="2.9"/><circle cx="590.7" cy="338.8" r="2.9"/><circle cx="591.1" cy="329.1" r="2.9"/><circle cx="591.3" cy="331.7" r="2.9"/><circle cx="592.2" cy="332.2" r="2.9"/><circle cx="592.8" cy="336.1" r="2.9"/><circle cx="593.1" cy="337.0" r="2.9"/><circle cx="593.5" cy="328.3" r="2.9"/><circle cx="594.4" cy="326.2" r="2.9"/><circle cx="594.8" cy="323.7" r="2.9"/><circle cx="595.4" cy="333.3" r="2.9"/><circle cx="595.5" cy="328.0" r="2.9"/><circle cx="596.6" cy="325.6" r="2.9"/><circle cx="596.6" cy="327.0" r="2.9"/><circle cx="597.5" cy="318.1" r="2.9"/><circle cx="598.3" cy="320.2" r="2.9"/><circle cx="598.4" cy="328.4" r="2.9"/><circle cx="599.0" cy="326.0" r="2.9"/><circle cx="599.7" cy="324.5" r="2.9"/><circle cx="600.6" cy="320.0" r="2.9"/><circle cx="601.1" cy="324.5" r="2.9"/><circle cx="601.4" cy="327.7" r="2.9"/><circle cx="602.1" cy="317.0" r="2.9"/><circle cx="602.6" cy="320.3" r="2.9"/><circle cx="603.1" cy="318.0" r="2.9"/><circle cx="603.7" cy="319.8" r="2.9"/><circle cx="604.1" cy="317.8" r="2.9"/><circle cx="604.9" cy="316.4" r="2.9"/><circle cx="605.5" cy="313.0" r="2.9"/><circle cx="606.3" cy="315.0" r="2.9"/><circle cx="606.5" cy="312.1" r="2.9"/><circle cx="606.6" cy="312.7" r="2.9"/><circle cx="607.3" cy="312.0" r="2.9"/><circle cx="608.1" cy="313.4" r="2.9"/><circle cx="608.6" cy="308.4" r="2.9"/><circle cx="608.9" cy="308.3" r="2.9"/><circle cx="609.7" cy="312.0" r="2.9"/><circle cx="610.2" cy="306.8" r="2.9"/><circle cx="610.8" cy="305.8" r="2.9"/><circle cx="611.3" cy="308.6" r="2.9"/><circle cx="612.0" cy="305.7" r="2.9"/><circle cx="612.7" cy="304.2" r="2.9"/><circle cx="613.1" cy="303.8" r="2.9"/><circle cx="613.4" cy="298.1" r="2.9"/><circle cx="614.0" cy="302.8" r="2.9"/><circle cx="614.5" cy="304.8" r="2.9"/><circle cx="615.2" cy="301.4" r="2.9"/><circle cx="615.7" cy="293.5" r="2.9"/><circle cx="616.2" cy="298.7" r="2.9"/><circle cx="616.7" cy="293.9" r="2.9"/><circle cx="617.5" cy="295.3" r="2.9"/><circle cx="618.1" cy="295.6" r="2.9"/><circle cx="618.6" cy="290.3" r="2.9"/><circle cx="619.0" cy="297.8" r="2.9"/><circle cx="619.7" cy="292.3" r="2.9"/><circle cx="620.0" cy="294.2" r="2.9"/><circle cx="620.5" cy="292.8" r="2.9"/><circle cx="621.2" cy="294.3" r="2.9"/><circle cx="621.9" cy="292.9" r="2.9"/><circle cx="622.3" cy="283.2" r="2.9"/><circle cx="622.7" cy="287.4" r="2.9"/><circle cx="623.5" cy="279.3" r="2.9"/><circle cx="624.1" cy="284.0" r="2.9"/><circle cx="624.6" cy="286.9" r="2.9"/><circle cx="625.0" cy="286.7" r="2.9"/><circle cx="625.7" cy="287.0" r="2.9"/><circle cx="626.1" cy="280.6" r="2.9"/><circle cx="626.7" cy="282.0" r="2.9"/><circle cx="627.3" cy="280.4" r="2.9"/><circle cx="628.0" cy="283.3" r="2.9"/><circle cx="628.7" cy="283.5" r="2.9"/><circle cx="629.2" cy="276.1" r="2.9"/><circle cx="629.6" cy="288.9" r="2.9"/><circle cx="630.0" cy="275.5" r="2.9"/><circle cx="630.6" cy="273.4" r="2.9"/><circle cx="631.1" cy="275.7" r="2.9"/><circle cx="631.9" cy="275.3" r="2.9"/><circle cx="631.8" cy="273.7" r="2.9"/><circle cx="632.8" cy="268.9" r="2.9"/><circle cx="633.1" cy="275.1" r="2.9"/><circle cx="633.9" cy="269.6" r="2.9"/><circle cx="634.6" cy="273.7" r="2.9"/><circle cx="634.9" cy="272.4" r="2.9"/><circle cx="635.2" cy="262.8" r="2.9"/><circle cx="636.3" cy="263.0" r="2.9"/><circle cx="636.9" cy="262.2" r="2.9"/><circle cx="637.3" cy="265.6" r="2.9"/><circle cx="637.9" cy="264.2" r="2.9"/><circle cx="638.2" cy="264.2" r="2.9"/><circle cx="639.0" cy="259.9" r="2.9"/><circle cx="639.7" cy="263.3" r="2.9"/><circle cx="640.0" cy="265.9" r="2.9"/><circle cx="640.5" cy="256.2" r="2.9"/><circle cx="641.2" cy="259.2" r="2.9"/><circle cx="641.8" cy="260.0" r="2.9"/><circle cx="642.0" cy="258.1" r="2.9"/><circle cx="642.9" cy="257.3" r="2.9"/><circle cx="643.4" cy="263.1" r="2.9"/><circle cx="643.8" cy="260.9" r="2.9"/><circle cx="644.5" cy="258.8" r="2.9"/><circle cx="645.0" cy="252.9" r="2.9"/><circle cx="645.6" cy="262.2" r="2.9"/><circle cx="645.9" cy="255.4" r="2.9"/><circle cx="646.7" cy="251.7" r="2.9"/><circle cx="646.9" cy="251.8" r="2.9"/><circle cx="647.6" cy="250.7" r="2.9"/><circle cx="647.9" cy="258.8" r="2.9"/><circle cx="648.5" cy="251.8" r="2.9"/><circle cx="649.4" cy="250.8" r="2.9"/><circle cx="649.8" cy="242.9" r="2.9"/><circle cx="650.4" cy="251.8" r="2.9"/><circle cx="651.0" cy="245.3" r="2.9"/><circle cx="651.6" cy="244.5" r="2.9"/><circle cx="651.9" cy="249.7" r="2.9"/><circle cx="652.6" cy="244.3" r="2.9"/><circle cx="653.1" cy="249.4" r="2.9"/><circle cx="653.6" cy="249.7" r="2.9"/><circle cx="654.2" cy="239.6" r="2.9"/><circle cx="654.7" cy="244.5" r="2.9"/><circle cx="655.3" cy="239.2" r="2.9"/><circle cx="655.8" cy="243.7" r="2.9"/><circle cx="656.5" cy="246.4" r="2.9"/><circle cx="657.3" cy="238.3" r="2.9"/><circle cx="657.4" cy="248.2" r="2.9"/><circle cx="658.2" cy="240.7" r="2.9"/><circle cx="658.4" cy="237.3" r="2.9"/><circle cx="659.4" cy="240.3" r="2.9"/><circle cx="659.7" cy="242.8" r="2.9"/><circle cx="660.3" cy="235.1" r="2.9"/><circle cx="661.0" cy="239.2" r="2.9"/><circle cx="661.5" cy="234.1" r="2.9"/><circle cx="661.7" cy="242.1" r="2.9"/><circle cx="662.6" cy="238.2" r="2.9"/><circle cx="663.0" cy="235.7" r="2.9"/><circle cx="663.7" cy="240.1" r="2.9"/><circle cx="664.2" cy="231.9" r="2.9"/><circle cx="664.8" cy="234.3" r="2.9"/><circle cx="665.3" cy="241.2" r="2.9"/><circle cx="665.8" cy="234.3" r="2.9"/><circle cx="666.5" cy="238.7" r="2.9"/><circle cx="666.7" cy="234.3" r="2.9"/><circle cx="667.4" cy="230.9" r="2.9"/><circle cx="667.9" cy="231.9" r="2.9"/><circle cx="668.5" cy="232.5" r="2.9"/><circle cx="669.0" cy="230.5" r="2.9"/><circle cx="669.6" cy="228.6" r="2.9"/><circle cx="670.1" cy="228.3" r="2.9"/><circle cx="670.7" cy="225.6" r="2.9"/><circle cx="671.1" cy="230.4" r="2.9"/><circle cx="671.8" cy="230.9" r="2.9"/><circle cx="672.4" cy="231.6" r="2.9"/><circle cx="672.9" cy="222.7" r="2.9"/><circle cx="673.4" cy="230.9" r="2.9"/><circle cx="674.0" cy="227.7" r="2.9"/><circle cx="674.9" cy="222.6" r="2.9"/><circle cx="675.2" cy="227.2" r="2.9"/><circle cx="675.8" cy="229.2" r="2.9"/><circle cx="676.2" cy="227.8" r="2.9"/><circle cx="676.7" cy="228.0" r="2.9"/><circle cx="677.2" cy="228.3" r="2.9"/><circle cx="678.1" cy="227.8" r="2.9"/><circle cx="678.2" cy="224.3" r="2.9"/><circle cx="679.0" cy="217.1" r="2.9"/><circle cx="679.5" cy="221.1" r="2.9"/><circle cx="680.1" cy="224.4" r="2.9"/><circle cx="680.4" cy="221.3" r="2.9"/><circle cx="681.0" cy="224.8" r="2.9"/><circle cx="681.9" cy="224.9" r="2.9"/><circle cx="682.2" cy="222.1" r="2.9"/><circle cx="683.0" cy="227.8" r="2.9"/><circle cx="683.5" cy="218.1" r="2.9"/><circle cx="684.0" cy="224.1" r="2.9"/><circle cx="684.6" cy="219.3" r="2.9"/><circle cx="684.9" cy="218.0" r="2.9"/><circle cx="685.5" cy="222.3" r="2.9"/><circle cx="686.3" cy="218.1" r="2.9"/><circle cx="686.5" cy="222.7" r="2.9"/><circle cx="687.5" cy="215.8" r="2.9"/><circle cx="687.7" cy="219.6" r="2.9"/><circle cx="688.3" cy="216.5" r="2.9"/><circle cx="688.7" cy="218.3" r="2.9"/><circle cx="689.5" cy="217.7" r="2.9"/><circle cx="689.9" cy="215.0" r="2.9"/><circle cx="690.5" cy="220.7" r="2.9"/><circle cx="690.9" cy="214.3" r="2.9"/><circle cx="691.8" cy="215.0" r="2.9"/><circle cx="692.0" cy="221.0" r="2.9"/><circle cx="692.8" cy="221.1" r="2.9"/><circle cx="693.3" cy="219.9" r="2.9"/><circle cx="693.9" cy="218.7" r="2.9"/><circle cx="694.2" cy="224.9" r="2.9"/><circle cx="695.1" cy="213.3" r="2.9"/><circle cx="695.6" cy="214.7" r="2.9"/><circle cx="696.1" cy="213.7" r="2.9"/><circle cx="696.6" cy="219.8" r="2.9"/><circle cx="697.1" cy="217.6" r="2.9"/><circle cx="697.8" cy="220.2" r="2.9"/><circle cx="698.1" cy="219.6" r="2.9"/><circle cx="698.9" cy="215.5" r="2.9"/><circle cx="699.4" cy="213.4" r="2.9"/><circle cx="699.7" cy="212.7" r="2.9"/><circle cx="700.1" cy="223.1" r="2.9"/><circle cx="701.0" cy="218.9" r="2.9"/><circle cx="701.5" cy="217.5" r="2.9"/><circle cx="702.3" cy="214.3" r="2.9"/><circle cx="702.7" cy="214.6" r="2.9"/><circle cx="703.1" cy="214.0" r="2.9"/><circle cx="703.5" cy="213.9" r="2.9"/><circle cx="704.3" cy="206.9" r="2.9"/><circle cx="704.8" cy="214.5" r="2.9"/><circle cx="705.2" cy="213.3" r="2.9"/><circle cx="705.9" cy="215.4" r="2.9"/><circle cx="706.7" cy="215.0" r="2.9"/><circle cx="707.1" cy="217.0" r="2.9"/><circle cx="707.4" cy="214.0" r="2.9"/><circle cx="708.2" cy="216.6" r="2.9"/><circle cx="708.5" cy="205.4" r="2.9"/><circle cx="709.0" cy="210.1" r="2.9"/><circle cx="709.9" cy="219.3" r="2.9"/><circle cx="710.3" cy="209.4" r="2.9"/><circle cx="711.1" cy="212.4" r="2.9"/><circle cx="711.5" cy="215.6" r="2.9"/><circle cx="711.9" cy="210.2" r="2.9"/><circle cx="712.6" cy="215.4" r="2.9"/><circle cx="713.3" cy="208.1" r="2.9"/><circle cx="713.6" cy="206.4" r="2.9"/><circle cx="714.0" cy="208.2" r="2.9"/><circle cx="714.7" cy="207.1" r="2.9"/><circle cx="715.2" cy="212.3" r="2.9"/><circle cx="715.7" cy="211.2" r="2.9"/><circle cx="716.2" cy="213.3" r="2.9"/><circle cx="717.0" cy="208.6" r="2.9"/><circle cx="717.7" cy="220.3" r="2.9"/><circle cx="718.0" cy="211.5" r="2.9"/><circle cx="718.7" cy="211.6" r="2.9"/><circle cx="719.3" cy="213.1" r="2.9"/><circle cx="720.0" cy="210.7" r="2.9"/><circle cx="720.2" cy="209.3" r="2.9"/><circle cx="720.7" cy="211.6" r="2.9"/><circle cx="721.4" cy="214.2" r="2.9"/><circle cx="721.9" cy="213.3" r="2.9"/><circle cx="722.5" cy="214.1" r="2.9"/><circle cx="723.2" cy="209.0" r="2.9"/><circle cx="723.5" cy="208.2" r="2.9"/><circle cx="724.1" cy="217.3" r="2.9"/><circle cx="724.5" cy="209.8" r="2.9"/><circle cx="725.2" cy="212.0" r="2.9"/><circle cx="725.6" cy="212.8" r="2.9"/><circle cx="726.2" cy="215.0" r="2.9"/><circle cx="726.8" cy="205.7" r="2.9"/><circle cx="727.3" cy="208.5" r="2.9"/><circle cx="728.0" cy="208.5" r="2.9"/><circle cx="728.6" cy="208.9" r="2.9"/><circle cx="728.8" cy="201.8" r="2.9"/><circle cx="729.8" cy="209.3" r="2.9"/><circle cx="729.8" cy="200.0" r="2.9"/><circle cx="730.7" cy="210.4" r="2.9"/><circle cx="731.4" cy="211.1" r="2.9"/><circle cx="731.7" cy="211.2" r="2.9"/><circle cx="732.3" cy="205.2" r="2.9"/><circle cx="732.8" cy="212.2" r="2.9"/><circle cx="733.6" cy="206.1" r="2.9"/><circle cx="733.5" cy="204.8" r="2.9"/><circle cx="734.4" cy="205.6" r="2.9"/><circle cx="734.8" cy="205.9" r="2.9"/><circle cx="735.7" cy="209.2" r="2.9"/><circle cx="736.4" cy="211.2" r="2.9"/><circle cx="736.9" cy="201.5" r="2.9"/><circle cx="737.4" cy="206.6" r="2.9"/><circle cx="737.9" cy="211.2" r="2.9"/><circle cx="738.3" cy="208.8" r="2.9"/><circle cx="739.1" cy="209.8" r="2.9"/><circle cx="739.6" cy="203.0" r="2.9"/><circle cx="739.9" cy="211.1" r="2.9"/><circle cx="740.4" cy="202.7" r="2.9"/><circle cx="741.1" cy="208.4" r="2.9"/><circle cx="741.9" cy="212.2" r="2.9"/><circle cx="742.4" cy="213.8" r="2.9"/><circle cx="743.0" cy="209.2" r="2.9"/><circle cx="743.2" cy="210.3" r="2.9"/><circle cx="743.8" cy="205.3" r="2.9"/><circle cx="744.7" cy="205.7" r="2.9"/><circle cx="745.0" cy="211.0" r="2.9"/><circle cx="745.7" cy="207.1" r="2.9"/><circle cx="745.9" cy="206.6" r="2.9"/><circle cx="746.6" cy="202.3" r="2.9"/><circle cx="747.2" cy="207.4" r="2.9"/><circle cx="747.7" cy="208.9" r="2.9"/><circle cx="748.2" cy="204.1" r="2.9"/><circle cx="748.6" cy="205.0" r="2.9"/><circle cx="749.6" cy="211.8" r="2.9"/><circle cx="750.0" cy="207.1" r="2.9"/><circle cx="750.3" cy="205.5" r="2.9"/><circle cx="751.2" cy="202.6" r="2.9"/><circle cx="751.6" cy="204.3" r="2.9"/><circle cx="752.3" cy="205.4" r="2.9"/><circle cx="752.7" cy="210.7" r="2.9"/><circle cx="753.1" cy="204.1" r="2.9"/><circle cx="753.7" cy="212.0" r="2.9"/><circle cx="754.4" cy="202.9" r="2.9"/><circle cx="755.0" cy="204.8" r="2.9"/><circle cx="755.5" cy="208.7" r="2.9"/><circle cx="756.1" cy="205.0" r="2.9"/><circle cx="756.7" cy="203.0" r="2.9"/><circle cx="757.1" cy="205.3" r="2.9"/><circle cx="757.8" cy="207.1" r="2.9"/><circle cx="758.4" cy="199.9" r="2.9"/><circle cx="758.8" cy="204.7" r="2.9"/><circle cx="759.3" cy="205.1" r="2.9"/><circle cx="759.8" cy="204.1" r="2.9"/><circle cx="760.2" cy="207.8" r="2.9"/><circle cx="760.7" cy="203.4" r="2.9"/><circle cx="761.7" cy="204.0" r="2.9"/><circle cx="762.1" cy="205.3" r="2.9"/><circle cx="762.5" cy="207.5" r="2.9"/><circle cx="763.4" cy="204.4" r="2.9"/><circle cx="763.9" cy="210.0" r="2.9"/><circle cx="764.3" cy="202.0" r="2.9"/><circle cx="765.0" cy="209.2" r="2.9"/><circle cx="765.3" cy="202.0" r="2.9"/><circle cx="766.0" cy="204.3" r="2.9"/><circle cx="766.7" cy="206.0" r="2.9"/><circle cx="767.2" cy="211.5" r="2.9"/><circle cx="767.5" cy="207.6" r="2.9"/><circle cx="768.2" cy="203.3" r="2.9"/><circle cx="768.8" cy="208.9" r="2.9"/><circle cx="769.2" cy="203.8" r="2.9"/><circle cx="769.7" cy="201.9" r="2.9"/><circle cx="770.6" cy="205.9" r="2.9"/><circle cx="770.8" cy="204.7" r="2.9"/><circle cx="771.2" cy="207.5" r="2.9"/><circle cx="772.0" cy="202.5" r="2.9"/><circle cx="772.9" cy="205.5" r="2.9"/><circle cx="773.2" cy="206.3" r="2.9"/><circle cx="773.8" cy="205.0" r="2.9"/><circle cx="773.8" cy="204.0" r="2.9"/><circle cx="774.6" cy="201.7" r="2.9"/><circle cx="775.4" cy="206.9" r="2.9"/><circle cx="775.8" cy="204.4" r="2.9"/><circle cx="776.6" cy="205.5" r="2.9"/><circle cx="777.0" cy="202.6" r="2.9"/><circle cx="777.5" cy="203.8" r="2.9"/><circle cx="778.3" cy="200.3" r="2.9"/><circle cx="778.5" cy="203.9" r="2.9"/><circle cx="779.0" cy="206.1" r="2.9"/><circle cx="779.7" cy="203.8" r="2.9"/><circle cx="780.3" cy="206.3" r="2.9"/><circle cx="780.5" cy="204.5" r="2.9"/><circle cx="781.5" cy="207.9" r="2.9"/><circle cx="781.9" cy="202.7" r="2.9"/><circle cx="782.4" cy="197.9" r="2.9"/><circle cx="783.1" cy="204.6" r="2.9"/><circle cx="783.5" cy="202.6" r="2.9"/><circle cx="784.3" cy="199.9" r="2.9"/><circle cx="784.6" cy="205.2" r="2.9"/><circle cx="785.3" cy="203.9" r="2.9"/><circle cx="785.6" cy="204.4" r="2.9"/><circle cx="786.2" cy="201.8" r="2.9"/><circle cx="786.9" cy="203.5" r="2.9"/><circle cx="787.2" cy="203.6" r="2.9"/><circle cx="787.8" cy="208.6" r="2.9"/><circle cx="788.5" cy="200.4" r="2.9"/><circle cx="789.2" cy="202.6" r="2.9"/><circle cx="789.7" cy="203.7" r="2.9"/><circle cx="790.3" cy="196.8" r="2.9"/><circle cx="790.7" cy="197.1" r="2.9"/><circle cx="791.4" cy="209.5" r="2.9"/><circle cx="792.0" cy="196.5" r="2.9"/><circle cx="792.3" cy="204.2" r="2.9"/><circle cx="792.9" cy="199.4" r="2.9"/><circle cx="793.5" cy="199.6" r="2.9"/><circle cx="793.7" cy="195.6" r="2.9"/><circle cx="794.5" cy="199.1" r="2.9"/><circle cx="795.1" cy="204.6" r="2.9"/><circle cx="795.7" cy="197.4" r="2.9"/><circle cx="796.1" cy="203.8" r="2.9"/><circle cx="796.9" cy="202.9" r="2.9"/><circle cx="797.2" cy="208.4" r="2.9"/><circle cx="797.8" cy="200.2" r="2.9"/><circle cx="798.6" cy="205.8" r="2.9"/><circle cx="798.7" cy="204.5" r="2.9"/><circle cx="799.5" cy="200.6" r="2.9"/><circle cx="800.0" cy="196.0" r="2.9"/><circle cx="800.6" cy="206.4" r="2.9"/><circle cx="801.0" cy="196.9" r="2.9"/><circle cx="801.8" cy="199.8" r="2.9"/><circle cx="802.1" cy="204.2" r="2.9"/><circle cx="802.6" cy="204.9" r="2.9"/><circle cx="803.4" cy="198.4" r="2.9"/><circle cx="803.7" cy="201.0" r="2.9"/><circle cx="804.5" cy="200.2" r="2.9"/><circle cx="805.0" cy="204.9" r="2.9"/><circle cx="805.4" cy="209.2" r="2.9"/><circle cx="806.0" cy="194.9" r="2.9"/><circle cx="806.6" cy="203.9" r="2.9"/><circle cx="807.2" cy="191.4" r="2.9"/><circle cx="807.6" cy="200.8" r="2.9"/><circle cx="808.2" cy="197.0" r="2.9"/><circle cx="808.6" cy="207.2" r="2.9"/><circle cx="809.3" cy="201.1" r="2.9"/><circle cx="809.6" cy="198.1" r="2.9"/><circle cx="810.5" cy="198.8" r="2.9"/><circle cx="810.9" cy="198.5" r="2.9"/><circle cx="811.9" cy="201.0" r="2.9"/><circle cx="812.3" cy="199.8" r="2.9"/><circle cx="812.6" cy="202.4" r="2.9"/><circle cx="813.4" cy="205.2" r="2.9"/><circle cx="813.8" cy="202.4" r="2.9"/><circle cx="814.1" cy="196.0" r="2.9"/><circle cx="814.5" cy="194.6" r="2.9"/><circle cx="815.6" cy="197.4" r="2.9"/><circle cx="816.0" cy="203.3" r="2.9"/><circle cx="816.2" cy="198.7" r="2.9"/><circle cx="817.2" cy="197.5" r="2.9"/><circle cx="817.7" cy="200.1" r="2.9"/><circle cx="818.1" cy="195.0" r="2.9"/><circle cx="818.8" cy="195.8" r="2.9"/><circle cx="819.0" cy="201.2" r="2.9"/><circle cx="819.8" cy="198.4" r="2.9"/><circle cx="820.4" cy="197.9" r="2.9"/><circle cx="821.0" cy="200.4" r="2.9"/><circle cx="821.5" cy="197.3" r="2.9"/><circle cx="822.0" cy="196.9" r="2.9"/><circle cx="822.6" cy="197.6" r="2.9"/><circle cx="823.0" cy="201.1" r="2.9"/><circle cx="823.9" cy="199.2" r="2.9"/><circle cx="824.2" cy="195.0" r="2.9"/><circle cx="824.9" cy="197.9" r="2.9"/><circle cx="825.3" cy="201.0" r="2.9"/><circle cx="825.8" cy="205.0" r="2.9"/><circle cx="826.5" cy="195.0" r="2.9"/><circle cx="827.0" cy="199.8" r="2.9"/><circle cx="827.7" cy="197.8" r="2.9"/><circle cx="828.2" cy="201.3" r="2.9"/><circle cx="828.5" cy="200.0" r="2.9"/><circle cx="829.2" cy="203.3" r="2.9"/><circle cx="829.7" cy="200.1" r="2.9"/><circle cx="830.1" cy="196.5" r="2.9"/><circle cx="830.6" cy="196.5" r="2.9"/><circle cx="831.4" cy="199.6" r="2.9"/><circle cx="831.8" cy="199.5" r="2.9"/><circle cx="832.2" cy="206.0" r="2.9"/><circle cx="833.0" cy="203.6" r="2.9"/><circle cx="833.6" cy="194.1" r="2.9"/><circle cx="834.1" cy="199.1" r="2.9"/><circle cx="834.5" cy="193.5" r="2.9"/><circle cx="835.1" cy="192.4" r="2.9"/><circle cx="836.0" cy="200.3" r="2.9"/><circle cx="836.2" cy="199.6" r="2.9"/><circle cx="836.8" cy="194.3" r="2.9"/><circle cx="837.7" cy="203.1" r="2.9"/><circle cx="838.0" cy="194.4" r="2.9"/><circle cx="838.4" cy="193.8" r="2.9"/><circle cx="838.8" cy="199.7" r="2.9"/><circle cx="839.6" cy="198.3" r="2.9"/><circle cx="839.9" cy="197.0" r="2.9"/><circle cx="840.7" cy="197.2" r="2.9"/><circle cx="841.1" cy="198.2" r="2.9"/><circle cx="841.6" cy="196.9" r="2.9"/><circle cx="842.6" cy="196.8" r="2.9"/><circle cx="842.9" cy="191.1" r="2.9"/><circle cx="843.6" cy="192.9" r="2.9"/><circle cx="844.1" cy="199.3" r="2.9"/><circle cx="844.4" cy="194.9" r="2.9"/><circle cx="845.1" cy="199.0" r="2.9"/><circle cx="845.6" cy="201.2" r="2.9"/><circle cx="846.3" cy="196.0" r="2.9"/><circle cx="846.8" cy="198.0" r="2.9"/><circle cx="847.2" cy="203.9" r="2.9"/><circle cx="848.1" cy="199.3" r="2.9"/><circle cx="848.5" cy="203.1" r="2.9"/><circle cx="849.0" cy="202.0" r="2.9"/><circle cx="849.4" cy="199.4" r="2.9"/><circle cx="850.1" cy="196.6" r="2.9"/><circle cx="850.4" cy="194.1" r="2.9"/><circle cx="851.2" cy="193.2" r="2.9"/><circle cx="851.6" cy="198.5" r="2.9"/><circle cx="852.3" cy="198.4" r="2.9"/><circle cx="852.8" cy="196.2" r="2.9"/><circle cx="853.4" cy="199.6" r="2.9"/><circle cx="854.0" cy="194.7" r="2.9"/><circle cx="854.4" cy="200.4" r="2.9"/><circle cx="855.0" cy="196.8" r="2.9"/><circle cx="855.3" cy="196.5" r="2.9"/><circle cx="855.8" cy="196.6" r="2.9"/><circle cx="856.8" cy="196.3" r="2.9"/><circle cx="857.3" cy="204.8" r="2.9"/><circle cx="857.5" cy="191.2" r="2.9"/><circle cx="858.6" cy="197.1" r="2.9"/><circle cx="858.7" cy="200.6" r="2.9"/><circle cx="859.5" cy="198.9" r="2.9"/><circle cx="860.0" cy="195.5" r="2.9"/><circle cx="860.5" cy="202.2" r="2.9"/><circle cx="861.1" cy="192.9" r="2.9"/><circle cx="861.4" cy="192.1" r="2.9"/><circle cx="862.1" cy="198.2" r="2.9"/><circle cx="862.7" cy="191.5" r="2.9"/><circle cx="863.3" cy="188.5" r="2.9"/><circle cx="863.8" cy="199.2" r="2.9"/><circle cx="864.3" cy="198.8" r="2.9"/><circle cx="864.8" cy="198.7" r="2.9"/><circle cx="865.6" cy="194.6" r="2.9"/><circle cx="865.9" cy="196.8" r="2.9"/><circle cx="866.6" cy="193.0" r="2.9"/><circle cx="867.2" cy="201.9" r="2.9"/><circle cx="867.6" cy="198.7" r="2.9"/><circle cx="868.3" cy="198.5" r="2.9"/><circle cx="868.8" cy="189.6" r="2.9"/><circle cx="869.2" cy="198.7" r="2.9"/><circle cx="869.9" cy="200.9" r="2.9"/><circle cx="870.7" cy="200.0" r="2.9"/><circle cx="870.8" cy="198.5" r="2.9"/><circle cx="871.5" cy="195.9" r="2.9"/><circle cx="871.9" cy="194.8" r="2.9"/><circle cx="872.9" cy="197.8" r="2.9"/><circle cx="872.9" cy="197.1" r="2.9"/><circle cx="873.7" cy="196.6" r="2.9"/><circle cx="874.4" cy="194.7" r="2.9"/><circle cx="874.7" cy="201.3" r="2.9"/><circle cx="875.3" cy="191.8" r="2.9"/><circle cx="875.8" cy="195.6" r="2.9"/><circle cx="876.2" cy="193.7" r="2.9"/><circle cx="877.0" cy="199.0" r="2.9"/><circle cx="877.6" cy="200.3" r="2.9"/><circle cx="878.0" cy="199.6" r="2.9"/><circle cx="878.7" cy="198.0" r="2.9"/><circle cx="879.3" cy="190.8" r="2.9"/><circle cx="879.9" cy="202.3" r="2.9"/><circle cx="880.1" cy="197.1" r="2.9"/><circle cx="880.9" cy="195.0" r="2.9"/><circle cx="881.3" cy="195.4" r="2.9"/><circle cx="881.7" cy="194.1" r="2.9"/><circle cx="882.4" cy="196.6" r="2.9"/><circle cx="883.1" cy="196.2" r="2.9"/><circle cx="883.6" cy="194.0" r="2.9"/><circle cx="884.0" cy="186.6" r="2.9"/><circle cx="884.9" cy="195.0" r="2.9"/><circle cx="885.3" cy="196.6" r="2.9"/><circle cx="885.8" cy="196.8" r="2.9"/><circle cx="886.3" cy="194.5" r="2.9"/><circle cx="887.0" cy="196.5" r="2.9"/><circle cx="887.4" cy="198.3" r="2.9"/><circle cx="888.2" cy="193.3" r="2.9"/><circle cx="888.6" cy="199.7" r="2.9"/><circle cx="889.2" cy="188.4" r="2.9"/><circle cx="889.6" cy="190.6" r="2.9"/><circle cx="890.0" cy="191.8" r="2.9"/><circle cx="890.8" cy="186.7" r="2.9"/><circle cx="891.1" cy="191.4" r="2.9"/><circle cx="891.8" cy="198.8" r="2.9"/><circle cx="892.4" cy="198.8" r="2.9"/><circle cx="892.8" cy="195.0" r="2.9"/><circle cx="893.6" cy="200.3" r="2.9"/><circle cx="893.8" cy="195.4" r="2.9"/><circle cx="894.8" cy="193.0" r="2.9"/><circle cx="895.1" cy="195.4" r="2.9"/><circle cx="895.8" cy="194.1" r="2.9"/><circle cx="896.4" cy="197.0" r="2.9"/><circle cx="896.7" cy="189.6" r="2.9"/><circle cx="897.2" cy="197.8" r="2.9"/><circle cx="898.0" cy="193.0" r="2.9"/><circle cx="898.5" cy="197.3" r="2.9"/><circle cx="899.0" cy="189.4" r="2.9"/><circle cx="899.3" cy="193.1" r="2.9"/><circle cx="899.9" cy="194.8" r="2.9"/><circle cx="900.7" cy="197.5" r="2.9"/><circle cx="901.4" cy="190.5" r="2.9"/><circle cx="901.6" cy="200.0" r="2.9"/><circle cx="902.2" cy="196.1" r="2.9"/><circle cx="902.9" cy="192.8" r="2.9"/><circle cx="903.5" cy="198.5" r="2.9"/><circle cx="904.0" cy="194.8" r="2.9"/><circle cx="904.4" cy="198.3" r="2.9"/><circle cx="904.8" cy="202.2" r="2.9"/><circle cx="905.8" cy="197.0" r="2.9"/><circle cx="906.1" cy="192.8" r="2.9"/><circle cx="906.9" cy="193.1" r="2.9"/><circle cx="907.0" cy="196.4" r="2.9"/><circle cx="907.9" cy="195.5" r="2.9"/><circle cx="908.3" cy="191.8" r="2.9"/><circle cx="908.7" cy="192.3" r="2.9"/><circle cx="909.6" cy="196.7" r="2.9"/><circle cx="910.2" cy="202.2" r="2.9"/><circle cx="910.5" cy="185.8" r="2.9"/><circle cx="911.2" cy="196.9" r="2.9"/><circle cx="911.5" cy="193.8" r="2.9"/><circle cx="912.1" cy="197.1" r="2.9"/><circle cx="912.7" cy="197.4" r="2.9"/><circle cx="913.2" cy="194.7" r="2.9"/><circle cx="913.9" cy="191.1" r="2.9"/><circle cx="914.2" cy="189.9" r="2.9"/><circle cx="915.1" cy="188.3" r="2.9"/><circle cx="915.6" cy="198.5" r="2.9"/><circle cx="916.0" cy="193.8" r="2.9"/><circle cx="916.4" cy="192.7" r="2.9"/><circle cx="916.8" cy="193.6" r="2.9"/><circle cx="917.7" cy="190.1" r="2.9"/><circle cx="918.1" cy="195.5" r="2.9"/><circle cx="918.8" cy="198.9" r="2.9"/><circle cx="919.2" cy="198.3" r="2.9"/><circle cx="919.9" cy="189.3" r="2.9"/><circle cx="920.4" cy="199.0" r="2.9"/><circle cx="921.0" cy="192.0" r="2.9"/><circle cx="921.6" cy="188.2" r="2.9"/><circle cx="922.1" cy="190.4" r="2.9"/><circle cx="922.8" cy="191.3" r="2.9"/><circle cx="923.1" cy="194.5" r="2.9"/><circle cx="923.9" cy="191.1" r="2.9"/><circle cx="924.3" cy="189.5" r="2.9"/><circle cx="924.8" cy="193.6" r="2.9"/><circle cx="925.3" cy="200.8" r="2.9"/><circle cx="926.2" cy="192.2" r="2.9"/><circle cx="926.5" cy="196.0" r="2.9"/><circle cx="927.0" cy="194.8" r="2.9"/><circle cx="927.6" cy="203.3" r="2.9"/><circle cx="928.2" cy="188.2" r="2.9"/><circle cx="928.6" cy="198.1" r="2.9"/><circle cx="929.0" cy="190.3" r="2.9"/><circle cx="929.8" cy="192.5" r="2.9"/><circle cx="930.3" cy="194.2" r="2.9"/><circle cx="930.9" cy="205.0" r="2.9"/></g>
<path d="M156.5,196.5 L157.5,196.4 L158.5,196.4 L159.5,196.3 L160.5,196.3 L161.5,196.2 L162.5,196.2 L163.5,196.1 L164.5,196.1 L165.5,196.0 L166.5,195.9 L167.5,195.9 L168.5,195.8 L169.5,195.8 L170.5,195.7 L171.5,195.6 L172.5,195.6 L173.5,195.5 L174.5,195.5 L175.5,195.4 L176.5,195.3 L177.5,195.3 L178.5,195.2 L179.5,195.1 L180.5,195.1 L181.5,195.0 L182.5,195.0 L183.5,194.9 L184.4,194.8 L185.4,194.8 L186.4,194.7 L187.4,194.6 L188.4,194.6 L189.4,194.5 L190.4,194.4 L191.4,194.4 L192.4,194.3 L193.4,194.2 L194.4,194.1 L195.4,194.1 L196.4,194.0 L197.4,193.9 L198.4,193.9 L199.4,193.8 L200.4,193.7 L201.4,193.6 L202.4,193.6 L203.4,193.5 L204.4,193.4 L205.4,193.3 L206.4,193.3 L207.4,193.2 L208.4,193.1 L209.4,193.0 L210.4,193.0 L211.4,192.9 L212.4,192.8 L213.4,192.7 L214.4,192.7 L215.4,192.6 L216.4,192.5 L217.4,192.4 L218.4,192.4 L219.4,192.3 L220.4,192.2 L221.4,192.1 L222.3,192.0 L223.3,192.0 L224.3,191.9 L225.3,191.8 L226.3,191.7 L227.3,191.6 L228.3,191.6 L229.3,191.5 L230.3,191.4 L231.3,191.3 L232.3,191.2 L233.3,191.1 L234.3,191.1 L235.3,191.0 L236.3,190.9 L237.3,190.8 L238.3,190.7 L239.3,190.6 L240.3,190.5 L241.3,190.4 L242.3,190.3 L243.3,190.3 L244.3,190.2 L245.3,190.1 L246.3,190.0 L247.3,189.9 L248.2,189.8 L249.2,189.7 L250.2,189.6 L251.2,189.5 L252.2,189.4 L253.2,189.3 L254.2,189.2 L255.2,189.1 L256.2,189.0 L257.2,188.9 L258.2,188.8 L259.2,188.7 L260.2,188.6 L261.2,188.5 L262.2,188.4 L263.2,188.3 L264.2,188.2 L265.2,188.0 L266.2,187.9 L267.1,187.8 L268.1,187.7 L269.1,187.6 L270.1,187.5 L271.1,187.4 L272.1,187.2 L273.1,187.1 L274.1,187.0 L275.1,186.9 L276.1,186.8 L277.1,186.6 L278.1,186.5 L279.1,186.4 L280.1,186.3 L281.0,186.1 L282.0,186.0 L283.0,185.9 L284.0,185.7 L285.0,185.6 L286.0,185.4 L287.0,185.3 L288.0,185.1 L289.0,185.0 L289.9,184.8 L290.9,184.7 L291.9,184.5 L292.9,184.3 L293.9,184.2 L294.9,184.0 L295.9,183.8 L296.8,183.6 L297.8,183.4 L298.8,183.2 L299.8,183.0 L300.8,182.8 L301.7,182.6 L302.7,182.3 L303.7,182.1 L304.6,181.8 L305.6,181.5 L306.5,181.2 L307.5,180.9 L308.4,180.6 L309.4,180.3 L310.3,180.0 L311.3,179.6 L312.2,179.3 L313.2,179.0 L314.1,178.6 L315.0,178.3 L316.0,177.9 L316.9,177.6 L317.8,177.2 L318.8,176.8 L319.7,176.4 L320.6,176.1 L321.5,175.7 L322.5,175.3 L323.4,174.9 L324.3,174.5 L325.2,174.0 L326.1,173.6 L327.0,173.2 L327.9,172.8 L328.8,172.4 L329.7,171.9 L330.6,171.5 L331.5,171.0 L332.4,170.6 L333.3,170.1 L334.2,169.6 L335.0,169.1 L335.9,168.6 L336.7,168.1 L337.6,167.6 L338.5,167.1 L339.3,166.5 L340.1,166.0 L341.0,165.4 L341.8,164.8 L342.6,164.3 L343.4,163.7 L344.2,163.1 L345.0,162.5 L345.8,161.9 L346.6,161.3 L347.4,160.7 L348.2,160.0 L348.9,159.4 L349.7,158.8 L350.5,158.1 L351.2,157.5 L352.0,156.8 L352.7,156.2 L353.5,155.5 L354.2,154.8 L354.9,154.1 L355.7,153.4 L356.4,152.7 L357.1,152.0 L357.7,151.3 L358.4,150.5 L359.1,149.8 L359.7,149.0 L360.3,148.2 L361.0,147.5 L361.5,146.6 L362.1,145.8 L362.7,145.0 L363.2,144.2 L363.8,143.3 L364.3,142.5 L364.8,141.6 L365.4,140.8 L365.9,139.9 L366.4,139.1 L367.0,138.2 L367.5,137.4 L368.0,136.5 L368.5,135.7 L369.0,134.8 L369.5,133.9 L370.0,133.1 L370.5,132.2 L371.0,131.3 L371.5,130.5 L372.0,129.6 L372.5,128.7 L373.0,127.9 L373.4,127.0 L373.9,126.1 L374.4,125.2 L374.8,124.3 L375.3,123.4 L375.8,122.6 L376.2,121.7 L376.7,120.8 L377.1,119.9 L377.6,119.0 L378.0,118.1 L378.5,117.2 L378.9,116.3 L379.4,115.4 L379.8,114.5 L380.2,113.6 L380.6,112.7 L381.1,111.8 L381.5,110.9 L381.9,110.0 L382.3,109.1 L382.8,108.2 L383.2,107.3 L383.6,106.4 L384.1,105.5 L384.5,104.6 L385.0,103.7 L385.4,102.8 L385.9,101.9 L386.3,101.0 L386.7,100.1 L387.2,99.2 L387.6,98.3 L388.1,97.4 L388.5,96.5 L389.0,95.6 L389.4,94.7 L389.9,93.8 L390.3,92.9 L390.7,92.0 L391.1,91.1 L391.6,90.2 L392.0,89.3 L392.4,88.4 L392.8,87.5 L393.2,86.6 L393.6,85.7 L394.1,84.8 L394.5,83.9 L395.0,83.0 L395.5,82.1 L396.0,81.2 L396.5,80.4 L397.0,79.5 L397.6,78.7 L398.1,77.9 L398.7,77.1 L399.3,76.3 L400.0,75.5 L400.6,74.8 L401.3,74.1 L402.0,73.4 L402.7,72.9 L403.5,72.4 L404.3,72.2 L405.2,72.1 L406.0,72.2 L406.9,72.5 L407.6,73.0 L408.3,73.6 L408.9,74.3 L409.5,75.1 L409.9,75.9 L410.4,76.8 L410.8,77.7 L411.1,78.6 L411.5,79.6 L411.8,80.5 L412.1,81.5 L412.4,82.4 L412.6,83.4 L412.9,84.4 L413.1,85.4 L413.3,86.3 L413.6,87.3 L413.8,88.3 L414.0,89.2 L414.2,90.2 L414.5,91.2 L414.7,92.2 L414.9,93.1 L415.1,94.1 L415.3,95.1 L415.6,96.1 L415.8,97.1 L416.0,98.0 L416.2,99.0 L416.4,100.0 L416.6,101.0 L416.8,102.0 L417.0,102.9 L417.2,103.9 L417.3,104.9 L417.5,105.9 L417.7,106.9 L417.9,107.8 L418.1,108.8 L418.2,109.8 L418.4,110.8 L418.6,111.8 L418.8,112.8 L418.9,113.8 L419.1,114.7 L419.3,115.7 L419.4,116.7 L419.6,117.7 L419.7,118.7 L419.9,119.7 L420.0,120.7 L420.2,121.7 L420.3,122.6 L420.5,123.6 L420.6,124.6 L420.8,125.6 L420.9,126.6 L421.0,127.6 L421.2,128.6 L421.3,129.6 L421.5,130.6 L421.6,131.6 L421.7,132.5 L421.9,133.5 L422.0,134.5 L422.1,135.5 L422.3,136.5 L422.4,137.5 L422.5,138.5 L422.7,139.5 L422.8,140.5 L422.9,141.5 L423.1,142.5 L423.2,143.4 L423.3,144.4 L423.5,145.4 L423.6,146.4 L423.7,147.4 L423.8,148.4 L424.0,149.4 L424.1,150.4 L424.2,151.4 L424.3,152.4 L424.5,153.4 L424.6,154.4 L424.7,155.4 L424.8,156.3 L425.0,157.3 L425.1,158.3 L425.2,159.3 L425.3,160.3 L425.4,161.3 L425.6,162.3 L425.7,163.3 L425.8,164.3 L425.9,165.3 L426.0,166.3 L426.1,167.3 L426.3,168.3 L426.4,169.3 L426.5,170.2 L426.6,171.2 L426.7,172.2 L426.8,173.2 L426.9,174.2 L427.0,175.2 L427.2,176.2 L427.3,177.2 L427.4,178.2 L427.5,179.2 L427.6,180.2 L427.7,181.2 L427.8,182.2 L427.9,183.2 L428.0,184.2 L428.1,185.2 L428.3,186.1 L428.4,187.1 L428.5,188.1 L428.6,189.1 L428.7,190.1 L428.8,191.1 L428.9,192.1 L429.1,193.1 L429.2,194.1 L429.3,195.1 L429.4,196.1 L429.6,197.1 L429.7,198.1 L429.8,199.1 L429.9,200.0 L430.0,201.0 L430.2,202.0 L430.3,203.0 L430.4,204.0 L430.6,205.0 L430.7,206.0 L430.8,207.0 L430.9,208.0 L431.1,209.0 L431.2,210.0 L431.3,211.0 L431.4,212.0 L431.6,212.9 L431.7,213.9 L431.8,214.9 L432.0,215.9 L432.1,216.9 L432.2,217.9 L432.3,218.9 L432.5,219.9 L432.6,220.9 L432.7,221.9 L432.8,222.9 L433.0,223.9 L433.1,224.8 L433.2,225.8 L433.3,226.8 L433.4,227.8 L433.6,228.8 L433.7,229.8 L433.8,230.8 L433.9,231.8 L434.0,232.8 L434.2,233.8 L434.3,234.8 L434.4,235.8 L434.5,236.8 L434.6,237.8 L434.8,238.7 L434.9,239.7 L435.0,240.7 L435.1,241.7 L435.3,242.7 L435.4,243.7 L435.5,244.7 L435.6,245.7 L435.8,246.7 L435.9,247.7 L436.0,248.7 L436.1,249.7 L436.3,250.7 L436.4,251.6 L436.5,252.6 L436.7,253.6 L436.8,254.6 L436.9,255.6 L437.1,256.6 L437.2,257.6 L437.3,258.6 L437.5,259.6 L437.6,260.6 L437.8,261.5 L437.9,262.5 L438.0,263.5 L438.2,264.5 L438.3,265.5 L438.5,266.5 L438.6,267.5 L438.7,268.5 L438.9,269.5 L439.0,270.5 L439.2,271.5 L439.3,272.4 L439.4,273.4 L439.6,274.4 L439.7,275.4 L439.8,276.4 L440.0,277.4 L440.1,278.4 L440.2,279.4 L440.4,280.4 L440.5,281.4 L440.6,282.4 L440.8,283.3 L440.9,284.3 L441.0,285.3 L441.2,286.3 L441.3,287.3 L441.4,288.3 L441.6,289.3 L441.7,290.3 L441.8,291.3 L442.0,292.3 L442.1,293.2 L442.3,294.2 L442.4,295.2 L442.6,296.2 L442.8,297.2 L443.0,298.2 L443.2,299.2 L443.4,300.1 L443.6,301.1 L443.8,302.1 L444.0,303.1 L444.3,304.0 L444.5,305.0 L444.7,306.0 L444.9,307.0 L445.1,307.9 L445.3,308.9 L445.5,309.9 L445.7,310.9 L445.9,311.9 L446.0,312.9 L446.2,313.8 L446.3,314.8 L446.5,315.8 L446.6,316.8 L446.8,317.8 L446.9,318.8 L447.1,319.8 L447.3,320.8 L447.4,321.7 L447.6,322.7 L447.8,323.7 L448.0,324.7 L448.2,325.7 L448.4,326.6 L448.7,327.6 L448.9,328.6 L449.2,329.5 L449.4,330.5 L449.7,331.5 L450.0,332.4 L450.3,333.4 L450.6,334.3 L451.0,335.2 L451.4,336.2 L451.8,337.1 L452.3,337.9 L452.8,338.8 L453.4,339.6 L454.0,340.3 L454.7,340.9 L455.4,341.5 L456.2,341.9 L457.0,342.1 L457.9,342.1 L458.7,342.0 L459.5,341.6 L460.2,341.1 L460.9,340.4 L461.5,339.7 L462.1,338.9 L462.6,338.1 L463.1,337.2 L463.6,336.3 L464.1,335.5 L464.5,334.6 L465.0,333.7 L465.4,332.8 L465.9,331.9 L466.3,331.0 L466.7,330.1 L467.2,329.2 L467.6,328.3 L468.0,327.4 L468.4,326.5 L468.8,325.5 L469.2,324.6 L469.6,323.7 L470.0,322.8 L470.3,321.8 L470.7,320.9 L471.0,320.0 L471.4,319.0 L471.7,318.1 L472.0,317.1 L472.3,316.2 L472.6,315.2 L472.9,314.3 L473.2,313.3 L473.5,312.4 L473.8,311.4 L474.2,310.5 L474.5,309.5 L474.8,308.6 L475.1,307.6 L475.5,306.7 L475.8,305.8 L476.1,304.8 L476.5,303.9 L476.8,302.9 L477.2,302.0 L477.5,301.0 L477.8,300.1 L478.1,299.2 L478.5,298.2 L478.8,297.3 L479.1,296.3 L479.4,295.4 L479.7,294.4 L480.0,293.5 L480.3,292.5 L480.6,291.6 L480.9,290.6 L481.2,289.6 L481.5,288.7 L481.8,287.7 L482.1,286.8 L482.4,285.8 L482.7,284.9 L483.0,283.9 L483.3,283.0 L483.6,282.0 L483.9,281.1 L484.2,280.1 L484.5,279.1 L484.8,278.2 L485.1,277.2 L485.4,276.3 L485.7,275.3 L486.0,274.4 L486.4,273.4 L486.7,272.5 L487.0,271.5 L487.3,270.6 L487.6,269.6 L488.0,268.7 L488.3,267.8 L488.6,266.8 L489.0,265.9 L489.3,264.9 L489.7,264.0 L490.0,263.1 L490.4,262.1 L490.8,261.2 L491.2,260.3 L491.6,259.4 L492.0,258.5 L492.5,257.6 L492.9,256.7 L493.4,255.8 L493.9,254.9 L494.4,254.1 L494.9,253.2 L495.4,252.3 L495.9,251.5 L496.4,250.6 L496.8,249.7 L497.3,248.9 L497.8,248.0 L498.3,247.1 L498.8,246.3 L499.3,245.4 L499.8,244.5 L500.4,243.7 L500.9,242.8 L501.4,242.0 L502.0,241.2 L502.6,240.4 L503.2,239.5 L503.8,238.8 L504.4,238.0 L505.0,237.2 L505.6,236.4 L506.3,235.6 L506.9,234.9 L507.6,234.1 L508.2,233.3 L508.8,232.6 L509.5,231.8 L510.1,231.0 L510.8,230.3 L511.4,229.5 L512.1,228.8 L512.7,228.0 L513.4,227.3 L514.1,226.5 L514.8,225.8 L515.5,225.1 L516.2,224.4 L517.0,223.8 L517.7,223.1 L518.5,222.5 L519.3,221.9 L520.1,221.3 L520.9,220.7 L521.7,220.1 L522.5,219.5 L523.3,218.9 L524.1,218.3 L524.9,217.7 L525.7,217.2 L526.6,216.6 L527.4,216.1 L528.3,215.6 L529.1,215.1 L530.0,214.6 L530.9,214.1 L531.8,213.7 L532.7,213.2 L533.6,212.8 L534.5,212.4 L535.4,212.0 L536.4,211.7 L537.3,211.3 L538.2,210.9 L539.2,210.6 L540.1,210.2 L541.0,209.9 L542.0,209.5 L542.9,209.2 L543.9,208.9 L544.8,208.6 L545.8,208.3 L546.7,208.0 L547.7,207.8 L548.7,207.5 L549.6,207.3 L550.6,207.0 L551.6,206.8 L552.6,206.6 L553.5,206.3 L554.5,206.1 L555.5,205.9 L556.5,205.7 L557.4,205.5 L558.4,205.3 L559.4,205.1 L560.4,204.9 L561.4,204.7 L562.3,204.6 L563.3,204.4 L564.3,204.2 L565.3,204.1 L566.3,203.9 L567.3,203.8 L568.3,203.6 L569.3,203.5 L570.3,203.4 L571.3,203.3 L572.2,203.2 L573.2,203.1 L574.2,203.0 L575.2,202.9 L576.2,202.8 L577.2,202.7 L578.2,202.6 L579.2,202.5 L580.2,202.4 L581.2,202.3 L582.2,202.2 L583.2,202.1 L584.2,202.1 L585.2,202.0 L586.2,201.9 L587.2,201.8 L588.2,201.7 L589.2,201.7 L590.2,201.6 L591.2,201.5 L592.2,201.4 L593.2,201.3 L594.2,201.3 L595.2,201.2 L596.2,201.1 L597.2,201.0 L598.2,201.0 L599.1,200.9 L600.1,200.8 L601.1,200.7 L602.1,200.6 L603.1,200.6 L604.1,200.5 L605.1,200.4 L606.1,200.4 L607.1,200.3 L608.1,200.2 L609.1,200.1 L610.1,200.1 L611.1,200.0 L612.1,200.0 L613.1,199.9 L614.1,199.8 L615.1,199.8 L616.1,199.7 L617.1,199.7 L618.1,199.6 L619.1,199.5 L620.1,199.5 L621.1,199.4 L622.1,199.4 L623.1,199.4 L624.1,199.3 L625.1,199.3 L626.1,199.2 L627.1,199.2 L628.1,199.1 L629.1,199.1 L630.1,199.0 L631.1,199.0 L632.1,198.9 L633.1,198.9 L634.1,198.8 L635.1,198.8 L636.1,198.7 L637.1,198.7 L638.1,198.7 L639.1,198.6 L640.1,198.6 L641.1,198.5 L642.1,198.5 L643.1,198.4 L644.1,198.4 L645.1,198.4 L646.1,198.3 L647.1,198.3 L648.1,198.2 L649.1,198.2 L650.1,198.2 L651.1,198.1 L652.1,198.1 L653.1,198.1 L654.1,198.0 L655.1,198.0 L656.1,197.9 L657.1,197.9 L658.1,197.9 L659.1,197.8 L660.1,197.8 L661.1,197.8 L662.1,197.8 L663.1,197.7 L664.1,197.7 L665.1,197.7 L666.1,197.7 L667.1,197.6 L668.1,197.6 L669.1,197.6 L670.1,197.6 L671.1,197.5 L672.1,197.5 L673.1,197.5 L674.1,197.5 L675.1,197.5 L676.1,197.5 L677.1,197.4 L678.1,197.4 L679.1,197.4 L680.1,197.4 L681.1,197.4 L682.1,197.4 L683.1,197.4 L684.1,197.4 L685.1,197.4 L686.1,197.3 L687.1,197.3 L688.1,197.3 L689.1,197.3 L690.1,197.3 L691.1,197.3 L692.1,197.3 L693.1,197.3 L694.1,197.3 L695.1,197.3 L696.1,197.3 L697.1,197.3 L698.1,197.2 L699.1,197.2 L700.1,197.2 L701.1,197.2 L702.1,197.2 L703.1,197.2 L704.1,197.2 L705.1,197.2 L706.1,197.2 L707.1,197.2 L708.1,197.2 L709.1,197.2 L710.1,197.2 L711.1,197.2 L712.1,197.2 L713.1,197.2 L714.1,197.2 L715.1,197.1 L716.1,197.1 L717.1,197.1 L718.1,197.1 L719.1,197.1 L720.1,197.1 L721.1,197.1 L722.1,197.1 L723.1,197.1 L724.1,197.1 L725.1,197.1 L726.1,197.1 L727.1,197.1 L728.1,197.1 L729.1,197.1 L730.1,197.1 L731.1,197.1 L732.1,197.1 L733.1,197.1 L734.1,197.1 L735.1,197.1 L736.1,197.1 L737.1,197.1 L738.1,197.0 L739.1,197.0 L740.1,197.0 L741.1,197.0 L742.1,197.0 L743.1,197.0 L744.1,197.0 L745.1,197.0 L746.1,197.0 L747.1,197.0 L748.1,197.0 L749.1,197.0 L750.1,197.0 L751.1,197.0 L752.1,197.0 L753.1,197.0 L754.1,197.0 L755.1,197.0 L756.1,197.0 L757.1,197.0 L758.1,197.0 L759.1,197.0 L760.1,197.0 L761.1,197.0 L762.1,197.0 L763.1,196.9 L764.1,196.9 L765.1,196.9 L766.1,196.9 L767.1,196.9 L768.1,196.9 L769.1,196.9 L770.1,196.9 L771.1,196.9 L772.1,196.9 L773.1,196.9 L774.1,196.9 L775.1,196.9 L776.1,196.9 L777.1,196.9 L778.1,196.9 L779.1,196.9 L780.1,196.9 L781.1,196.9 L782.1,196.9 L783.1,196.9 L784.1,196.9 L785.1,196.9 L786.1,196.9 L787.1,196.9 L788.1,196.9 L789.1,196.9 L790.1,196.8 L791.1,196.8 L792.1,196.8 L793.1,196.8 L794.1,196.8 L795.1,196.8 L796.1,196.8 L797.1,196.8 L798.1,196.8 L799.1,196.8 L800.1,196.8 L801.1,196.8 L802.1,196.8 L803.1,196.8 L804.1,196.8 L805.1,196.8 L806.1,196.8 L807.1,196.8 L808.1,196.8 L809.1,196.8 L810.1,196.8 L811.1,196.8 L812.1,196.8 L813.1,196.8 L814.1,196.8 L815.1,196.8 L816.1,196.8 L817.1,196.8 L818.1,196.7 L819.1,196.7 L820.1,196.7 L821.1,196.7 L822.1,196.7 L823.1,196.7 L824.1,196.7 L825.1,196.7 L826.1,196.7 L827.1,196.7 L828.1,196.7 L829.1,196.7 L830.1,196.7 L831.1,196.7 L832.1,196.7 L833.1,196.7 L834.1,196.7 L835.1,196.7 L836.1,196.7 L837.1,196.7 L838.1,196.7 L839.1,196.7 L840.1,196.7 L841.1,196.7 L842.1,196.7 L843.1,196.7 L844.1,196.7 L845.1,196.7 L846.1,196.7 L847.1,196.7 L848.1,196.7 L849.1,196.7 L850.1,196.6 L851.1,196.6 L852.1,196.6 L853.1,196.6 L854.1,196.6 L855.1,196.6 L856.1,196.6 L857.1,196.6 L858.1,196.6 L859.1,196.6 L860.1,196.6 L861.1,196.6 L862.1,196.6 L863.1,196.6 L864.1,196.6 L865.1,196.6 L866.1,196.6 L867.1,196.6 L868.1,196.6 L869.1,196.6 L870.1,196.6 L871.1,196.6 L872.1,196.6 L873.1,196.6 L874.1,196.6 L875.1,196.6 L876.1,196.6 L877.1,196.6 L878.1,196.6 L879.1,196.6 L880.1,196.6 L881.1,196.6 L882.1,196.6 L883.1,196.6 L884.1,196.6 L885.1,196.6 L886.1,196.6 L887.1,196.6 L888.1,196.6 L889.1,196.6 L890.1,196.6 L891.1,196.6 L892.1,196.5 L893.1,196.5 L894.1,196.5 L895.1,196.5 L896.1,196.5 L897.1,196.5 L898.1,196.5 L899.1,196.5 L900.1,196.5 L901.1,196.5 L902.1,196.5 L903.1,196.5 L904.1,196.5 L905.1,196.5 L906.1,196.5 L907.1,196.5 L908.1,196.5 L909.1,196.5 L910.1,196.5 L911.1,196.5 L912.1,196.5 L913.1,196.5 L914.1,196.5 L915.1,196.5 L916.1,196.5 L917.1,196.5 L918.1,196.5 L919.1,196.5 L920.1,196.5 L921.1,196.5 L922.1,196.5 L923.1,196.5 L924.1,196.5 L925.1,196.5 L926.1,196.5 L927.1,196.5 L928.1,196.5 L929.1,196.5 L930.1,196.5" fill="none" stroke="#000" stroke-width="5.0" stroke-linejoin="round" stroke-linecap="round" />
<g stroke="#000" stroke-width="3" stroke-linecap="round"><path d="M163.8,41.96 L156.3,41.96 L156.3,352.84 L931.63,352.84 L931.63,345.34" fill="none" stroke-linejoin="round"/><line x1="156.3" y1="73.05" x2="170.3" y2="73.05"/><line x1="156.3" y1="135.23" x2="170.3" y2="135.23"/><line x1="156.3" y1="197.40" x2="170.3" y2="197.40"/><line x1="156.3" y1="259.57" x2="170.3" y2="259.57"/><line x1="156.3" y1="321.75" x2="170.3" y2="321.75"/><line x1="156.3" y1="104.14" x2="163.8" y2="104.14"/><line x1="156.3" y1="166.31" x2="163.8" y2="166.31"/><line x1="156.3" y1="228.49" x2="163.8" y2="228.49"/><line x1="156.3" y1="290.66" x2="163.8" y2="290.66"/><line x1="328.75" y1="352.84" x2="328.75" y2="338.84"/><line x1="501.00" y1="352.84" x2="501.00" y2="338.84"/><line x1="673.25" y1="352.84" x2="673.25" y2="338.84"/><line x1="845.50" y1="352.84" x2="845.50" y2="338.84"/><line x1="242.62" y1="352.84" x2="242.62" y2="345.34"/><line x1="414.88" y1="352.84" x2="414.88" y2="345.34"/><line x1="587.12" y1="352.84" x2="587.12" y2="345.34"/><line x1="759.38" y1="352.84" x2="759.38" y2="345.34"/></g>
<text transform="translate(139.5,80.55000000000001) scale(0.975,1.0)" font-family="'Liberation Sans', sans-serif" font-size="31" text-anchor="end" fill="#000" >300</text>
<text transform="translate(139.5,142.72500000000002) scale(0.975,1.0)" font-family="'Liberation Sans', sans-serif" font-size="31" text-anchor="end" fill="#000" >150</text>
<text transform="translate(139.5,204.9) scale(0.975,1.0)" font-family="'Liberation Sans', sans-serif" font-size="31" text-anchor="end" fill="#000" >0</text>
<text transform="translate(139.5,267.075) scale(0.975,1.0)" font-family="'Liberation Sans', sans-serif" font-size="31" text-anchor="end" fill="#000" >-150</text>
<text transform="translate(139.5,329.25) scale(0.975,1.0)" font-family="'Liberation Sans', sans-serif" font-size="31" text-anchor="end" fill="#000" >-300</text>
<text transform="translate(156.5,394.8) scale(0.95,1.0)" font-family="'Liberation Sans', sans-serif" font-size="35" text-anchor="middle" fill="#000" >0</text>
<text transform="translate(328.8,394.8) scale(0.95,1.0)" font-family="'Liberation Sans', sans-serif" font-size="35" text-anchor="middle" fill="#000" >40</text>
<text transform="translate(501.0,394.8) scale(0.95,1.0)" font-family="'Liberation Sans', sans-serif" font-size="35" text-anchor="middle" fill="#000" >80</text>
<text transform="translate(673.2,394.8) scale(0.95,1.0)" font-family="'Liberation Sans', sans-serif" font-size="35" text-anchor="middle" fill="#000" >120</text>
<text transform="translate(845.5,394.8) scale(0.95,1.0)" font-family="'Liberation Sans', sans-serif" font-size="35" text-anchor="middle" fill="#000" >160</text>
<text x="846.5" y="165.1" font-family="'Liberation Serif', serif" font-size="40">φ<tspan font-size="44" dy="3.8">=</tspan><tspan font-size="44" dy="-3.8">0°</tspan></text>
<g stroke="#888888"><line x1="226.60" y1="531.0" x2="226.60" y2="842.0" stroke-width="2"/><line x1="508.44" y1="531.0" x2="508.44" y2="842.0" stroke-width="2"/><line x1="790.28" y1="531.0" x2="790.28" y2="842.0" stroke-width="2"/><line x1="156.3" y1="562.09" x2="931.2" y2="562.09" stroke-width="1.6"/><line x1="156.3" y1="624.29" x2="931.2" y2="624.29" stroke-width="1.6"/><line x1="156.3" y1="686.50" x2="931.2" y2="686.50" stroke-width="1.6"/><line x1="156.3" y1="748.71" x2="931.2" y2="748.71" stroke-width="1.6"/><line x1="156.3" y1="810.91" x2="931.2" y2="810.91" stroke-width="1.6"/></g>
<g stroke="#888888"><line x1="226.60" y1="856.7" x2="226.60" y2="1167.5" stroke-width="2"/><line x1="508.44" y1="856.7" x2="508.44" y2="1167.5" stroke-width="2"/><line x1="790.28" y1="856.7" x2="790.28" y2="1167.5" stroke-width="2"/><line x1="156.3" y1="887.74" x2="931.2" y2="887.74" stroke-width="1.6"/><line x1="156.3" y1="949.91" x2="931.2" y2="949.91" stroke-width="1.6"/><line x1="156.3" y1="1012.07" x2="931.2" y2="1012.07" stroke-width="1.6"/><line x1="156.3" y1="1074.23" x2="931.2" y2="1074.23" stroke-width="1.6"/><line x1="156.3" y1="1136.40" x2="931.2" y2="1136.40" stroke-width="1.6"/></g>
<rect x="834" y="598" width="100" height="60" fill="#fff"/>
<rect x="812" y="925" width="122" height="60" fill="#fff"/>
<g fill="#fff" stroke="#000" stroke-width="0.85"><circle cx="156.8" cy="641.6" r="3.1"/><circle cx="158.1" cy="638.8" r="3.1"/><circle cx="159.5" cy="638.6" r="3.1"/><circle cx="160.9" cy="631.9" r="3.1"/><circle cx="162.3" cy="644.1" r="3.1"/><circle cx="164.0" cy="641.5" r="3.1"/><circle cx="165.5" cy="636.6" r="3.1"/><circle cx="166.8" cy="639.3" r="3.1"/><circle cx="168.7" cy="637.3" r="3.1"/><circle cx="170.1" cy="634.3" r="3.1"/><circle cx="171.4" cy="638.4" r="3.1"/><circle cx="172.9" cy="634.1" r="3.1"/><circle cx="174.4" cy="633.6" r="3.1"/><circle cx="176.0" cy="631.7" r="3.1"/><circle cx="177.5" cy="635.1" r="3.1"/><circle cx="178.8" cy="633.0" r="3.1"/><circle cx="180.7" cy="634.5" r="3.1"/><circle cx="182.0" cy="630.7" r="3.1"/><circle cx="183.7" cy="632.6" r="3.1"/><circle cx="185.2" cy="629.2" r="3.1"/><circle cx="186.5" cy="634.0" r="3.1"/><circle cx="188.1" cy="631.8" r="3.1"/><circle cx="189.6" cy="631.9" r="3.1"/><circle cx="191.1" cy="631.8" r="3.1"/><circle cx="192.5" cy="627.3" r="3.1"/><circle cx="193.9" cy="632.4" r="3.1"/><circle cx="195.5" cy="635.9" r="3.1"/><circle cx="196.9" cy="624.6" r="3.1"/><circle cx="198.4" cy="624.0" r="3.1"/><circle cx="199.7" cy="624.4" r="3.1"/><circle cx="201.5" cy="631.2" r="3.1"/><circle cx="202.8" cy="628.8" r="3.1"/><circle cx="204.4" cy="631.3" r="3.1"/><circle cx="206.0" cy="630.0" r="3.1"/><circle cx="207.5" cy="628.1" r="3.1"/><circle cx="209.3" cy="628.1" r="3.1"/><circle cx="210.5" cy="626.4" r="3.1"/><circle cx="211.8" cy="629.2" r="3.1"/><circle cx="213.5" cy="622.9" r="3.1"/><circle cx="214.9" cy="624.7" r="3.1"/><circle cx="216.6" cy="626.3" r="3.1"/><circle cx="217.9" cy="630.7" r="3.1"/><circle cx="219.4" cy="622.7" r="3.1"/><circle cx="220.9" cy="621.4" r="3.1"/><circle cx="222.4" cy="622.6" r="3.1"/><circle cx="223.7" cy="626.9" r="3.1"/><circle cx="225.4" cy="622.9" r="3.1"/><circle cx="227.0" cy="627.3" r="3.1"/><circle cx="228.7" cy="617.3" r="3.1"/><circle cx="230.0" cy="626.0" r="3.1"/><circle cx="231.4" cy="625.3" r="3.1"/><circle cx="233.1" cy="617.6" r="3.1"/><circle cx="234.6" cy="621.9" r="3.1"/><circle cx="236.2" cy="624.7" r="3.1"/><circle cx="237.6" cy="620.9" r="3.1"/><circle cx="239.0" cy="623.3" r="3.1"/><circle cx="240.7" cy="627.0" r="3.1"/><circle cx="242.2" cy="620.2" r="3.1"/><circle cx="243.4" cy="618.1" r="3.1"/><circle cx="245.0" cy="616.2" r="3.1"/><circle cx="246.2" cy="619.9" r="3.1"/><circle cx="247.9" cy="616.9" r="3.1"/><circle cx="249.4" cy="616.4" r="3.1"/><circle cx="251.0" cy="616.1" r="3.1"/><circle cx="252.4" cy="617.9" r="3.1"/><circle cx="254.0" cy="612.2" r="3.1"/><circle cx="255.5" cy="610.2" r="3.1"/><circle cx="257.1" cy="607.0" r="3.1"/><circle cx="258.5" cy="617.3" r="3.1"/><circle cx="259.9" cy="613.4" r="3.1"/><circle cx="261.3" cy="617.1" r="3.1"/><circle cx="263.2" cy="612.0" r="3.1"/><circle cx="264.7" cy="609.3" r="3.1"/><circle cx="265.9" cy="612.4" r="3.1"/><circle cx="267.6" cy="610.2" r="3.1"/><circle cx="268.8" cy="606.1" r="3.1"/><circle cx="270.3" cy="606.7" r="3.1"/><circle cx="272.0" cy="614.1" r="3.1"/><circle cx="273.7" cy="609.4" r="3.1"/><circle cx="274.8" cy="609.0" r="3.1"/><circle cx="276.4" cy="606.4" r="3.1"/><circle cx="278.2" cy="604.7" r="3.1"/><circle cx="279.2" cy="608.9" r="3.1"/><circle cx="281.1" cy="605.4" r="3.1"/><circle cx="282.6" cy="603.0" r="3.1"/><circle cx="284.0" cy="604.3" r="3.1"/><circle cx="285.5" cy="601.5" r="3.1"/><circle cx="287.4" cy="604.3" r="3.1"/><circle cx="288.3" cy="606.6" r="3.1"/><circle cx="290.0" cy="600.2" r="3.1"/><circle cx="291.5" cy="606.4" r="3.1"/><circle cx="292.9" cy="599.6" r="3.1"/><circle cx="294.3" cy="601.5" r="3.1"/><circle cx="296.2" cy="598.0" r="3.1"/><circle cx="297.5" cy="599.3" r="3.1"/><circle cx="298.7" cy="599.5" r="3.1"/><circle cx="300.4" cy="597.5" r="3.1"/><circle cx="302.1" cy="596.0" r="3.1"/><circle cx="303.6" cy="595.5" r="3.1"/><circle cx="304.8" cy="594.4" r="3.1"/><circle cx="306.5" cy="591.4" r="3.1"/><circle cx="308.0" cy="594.6" r="3.1"/><circle cx="309.6" cy="595.9" r="3.1"/><circle cx="311.1" cy="596.7" r="3.1"/><circle cx="312.2" cy="595.2" r="3.1"/><circle cx="314.3" cy="599.9" r="3.1"/><circle cx="315.5" cy="592.7" r="3.1"/><circle cx="317.3" cy="589.6" r="3.1"/><circle cx="318.9" cy="595.9" r="3.1"/><circle cx="320.0" cy="586.4" r="3.1"/><circle cx="321.3" cy="591.8" r="3.1"/><circle cx="323.1" cy="585.4" r="3.1"/><circle cx="324.5" cy="588.7" r="3.1"/><circle cx="325.9" cy="581.1" r="3.1"/><circle cx="327.3" cy="589.1" r="3.1"/><circle cx="329.3" cy="585.4" r="3.1"/><circle cx="330.4" cy="582.5" r="3.1"/><circle cx="331.8" cy="589.9" r="3.1"/><circle cx="333.4" cy="586.8" r="3.1"/><circle cx="334.8" cy="584.2" r="3.1"/><circle cx="336.5" cy="581.4" r="3.1"/><circle cx="337.9" cy="583.1" r="3.1"/><circle cx="339.3" cy="582.4" r="3.1"/><circle cx="341.1" cy="584.7" r="3.1"/><circle cx="342.4" cy="584.6" r="3.1"/><circle cx="344.1" cy="579.9" r="3.1"/><circle cx="345.7" cy="579.9" r="3.1"/><circle cx="346.9" cy="579.6" r="3.1"/><circle cx="348.4" cy="576.8" r="3.1"/><circle cx="350.0" cy="578.7" r="3.1"/><circle cx="351.6" cy="579.9" r="3.1"/><circle cx="353.0" cy="581.9" r="3.1"/><circle cx="354.5" cy="583.4" r="3.1"/><circle cx="356.0" cy="576.6" r="3.1"/><circle cx="357.5" cy="580.3" r="3.1"/><circle cx="359.1" cy="576.9" r="3.1"/><circle cx="360.4" cy="584.1" r="3.1"/><circle cx="361.9" cy="577.2" r="3.1"/><circle cx="363.5" cy="578.4" r="3.1"/><circle cx="364.9" cy="573.6" r="3.1"/><circle cx="366.5" cy="573.5" r="3.1"/><circle cx="368.1" cy="576.0" r="3.1"/><circle cx="369.5" cy="573.8" r="3.1"/><circle cx="370.9" cy="575.5" r="3.1"/><circle cx="372.4" cy="569.2" r="3.1"/><circle cx="374.3" cy="575.3" r="3.1"/><circle cx="375.6" cy="570.1" r="3.1"/><circle cx="376.8" cy="577.4" r="3.1"/><circle cx="378.4" cy="570.8" r="3.1"/><circle cx="380.3" cy="574.4" r="3.1"/><circle cx="381.7" cy="566.4" r="3.1"/><circle cx="383.0" cy="571.3" r="3.1"/><circle cx="384.7" cy="566.8" r="3.1"/><circle cx="385.8" cy="567.5" r="3.1"/><circle cx="387.5" cy="568.5" r="3.1"/><circle cx="389.1" cy="566.9" r="3.1"/><circle cx="390.2" cy="568.1" r="3.1"/><circle cx="391.9" cy="569.0" r="3.1"/><circle cx="393.6" cy="568.2" r="3.1"/><circle cx="395.2" cy="565.4" r="3.1"/><circle cx="396.4" cy="560.9" r="3.1"/><circle cx="398.0" cy="562.0" r="3.1"/><circle cx="399.7" cy="563.2" r="3.1"/><circle cx="400.9" cy="556.8" r="3.1"/><circle cx="402.3" cy="564.9" r="3.1"/><circle cx="404.0" cy="561.3" r="3.1"/><circle cx="405.4" cy="560.7" r="3.1"/><circle cx="407.2" cy="563.7" r="3.1"/><circle cx="408.5" cy="562.3" r="3.1"/><circle cx="409.9" cy="560.4" r="3.1"/><circle cx="411.9" cy="556.2" r="3.1"/><circle cx="412.9" cy="559.7" r="3.1"/><circle cx="414.6" cy="559.4" r="3.1"/><circle cx="416.1" cy="555.3" r="3.1"/><circle cx="417.6" cy="560.7" r="3.1"/><circle cx="419.0" cy="558.8" r="3.1"/><circle cx="420.6" cy="551.0" r="3.1"/><circle cx="422.0" cy="557.1" r="3.1"/><circle cx="423.3" cy="552.7" r="3.1"/><circle cx="425.0" cy="559.6" r="3.1"/><circle cx="426.5" cy="558.4" r="3.1"/><circle cx="428.0" cy="552.5" r="3.1"/><circle cx="429.5" cy="553.0" r="3.1"/><circle cx="430.9" cy="555.8" r="3.1"/><circle cx="432.7" cy="554.6" r="3.1"/><circle cx="434.2" cy="559.7" r="3.1"/><circle cx="435.2" cy="557.2" r="3.1"/><circle cx="437.0" cy="554.0" r="3.1"/><circle cx="438.4" cy="556.4" r="3.1"/><circle cx="439.6" cy="548.4" r="3.1"/><circle cx="441.6" cy="555.3" r="3.1"/><circle cx="442.9" cy="556.8" r="3.1"/><circle cx="444.4" cy="553.5" r="3.1"/><circle cx="445.9" cy="551.7" r="3.1"/><circle cx="447.7" cy="555.4" r="3.1"/><circle cx="449.2" cy="559.4" r="3.1"/><circle cx="450.5" cy="553.9" r="3.1"/><circle cx="452.1" cy="549.8" r="3.1"/><circle cx="453.5" cy="557.3" r="3.1"/><circle cx="455.0" cy="547.2" r="3.1"/><circle cx="456.4" cy="554.2" r="3.1"/><circle cx="458.0" cy="550.9" r="3.1"/><circle cx="459.4" cy="555.4" r="3.1"/><circle cx="461.1" cy="550.1" r="3.1"/><circle cx="462.6" cy="556.8" r="3.1"/><circle cx="464.0" cy="554.1" r="3.1"/><circle cx="465.7" cy="548.4" r="3.1"/><circle cx="467.4" cy="548.1" r="3.1"/><circle cx="468.2" cy="553.6" r="3.1"/><circle cx="470.0" cy="559.0" r="3.1"/><circle cx="471.4" cy="556.0" r="3.1"/><circle cx="472.9" cy="556.4" r="3.1"/><circle cx="474.3" cy="556.1" r="3.1"/><circle cx="476.0" cy="559.6" r="3.1"/><circle cx="477.5" cy="559.1" r="3.1"/><circle cx="478.9" cy="559.4" r="3.1"/><circle cx="480.5" cy="556.2" r="3.1"/><circle cx="481.9" cy="563.4" r="3.1"/><circle cx="483.1" cy="564.5" r="3.1"/><circle cx="485.2" cy="557.1" r="3.1"/><circle cx="486.5" cy="568.6" r="3.1"/><circle cx="487.9" cy="564.4" r="3.1"/><circle cx="489.5" cy="561.3" r="3.1"/><circle cx="490.9" cy="557.6" r="3.1"/><circle cx="492.2" cy="565.7" r="3.1"/><circle cx="494.1" cy="565.8" r="3.1"/><circle cx="495.2" cy="562.8" r="3.1"/><circle cx="497.0" cy="559.6" r="3.1"/><circle cx="498.5" cy="568.8" r="3.1"/><circle cx="500.2" cy="564.1" r="3.1"/><circle cx="501.7" cy="564.9" r="3.1"/><circle cx="503.0" cy="575.3" r="3.1"/><circle cx="504.4" cy="573.8" r="3.1"/><circle cx="505.9" cy="570.9" r="3.1"/><circle cx="507.7" cy="567.5" r="3.1"/><circle cx="509.3" cy="571.6" r="3.1"/><circle cx="510.6" cy="563.8" r="3.1"/><circle cx="511.9" cy="572.0" r="3.1"/><circle cx="513.7" cy="570.5" r="3.1"/><circle cx="514.9" cy="570.1" r="3.1"/><circle cx="516.4" cy="570.4" r="3.1"/><circle cx="518.0" cy="577.9" r="3.1"/><circle cx="519.6" cy="577.9" r="3.1"/><circle cx="521.0" cy="579.4" r="3.1"/><circle cx="522.6" cy="582.8" r="3.1"/><circle cx="524.2" cy="579.1" r="3.1"/><circle cx="525.6" cy="579.4" r="3.1"/><circle cx="526.7" cy="579.3" r="3.1"/><circle cx="528.2" cy="585.2" r="3.1"/><circle cx="530.0" cy="590.1" r="3.1"/><circle cx="531.5" cy="588.9" r="3.1"/><circle cx="533.3" cy="592.9" r="3.1"/><circle cx="534.5" cy="588.9" r="3.1"/><circle cx="536.0" cy="592.6" r="3.1"/><circle cx="537.6" cy="593.2" r="3.1"/><circle cx="539.2" cy="593.3" r="3.1"/><circle cx="540.5" cy="604.1" r="3.1"/><circle cx="542.1" cy="602.6" r="3.1"/><circle cx="543.3" cy="599.2" r="3.1"/><circle cx="544.9" cy="600.7" r="3.1"/><circle cx="546.7" cy="604.3" r="3.1"/><circle cx="547.8" cy="601.7" r="3.1"/><circle cx="549.6" cy="608.8" r="3.1"/><circle cx="551.1" cy="605.1" r="3.1"/><circle cx="552.6" cy="609.3" r="3.1"/><circle cx="554.1" cy="608.9" r="3.1"/><circle cx="555.6" cy="611.9" r="3.1"/><circle cx="556.7" cy="610.9" r="3.1"/><circle cx="558.3" cy="611.6" r="3.1"/><circle cx="559.9" cy="614.9" r="3.1"/><circle cx="561.6" cy="617.3" r="3.1"/><circle cx="562.8" cy="620.0" r="3.1"/><circle cx="564.4" cy="622.7" r="3.1"/><circle cx="565.9" cy="628.7" r="3.1"/><circle cx="567.7" cy="628.3" r="3.1"/><circle cx="568.8" cy="626.8" r="3.1"/><circle cx="570.3" cy="631.6" r="3.1"/><circle cx="572.1" cy="629.1" r="3.1"/><circle cx="573.2" cy="637.4" r="3.1"/><circle cx="575.0" cy="636.5" r="3.1"/><circle cx="576.4" cy="632.7" r="3.1"/><circle cx="577.8" cy="640.8" r="3.1"/><circle cx="579.4" cy="642.8" r="3.1"/><circle cx="580.8" cy="634.1" r="3.1"/><circle cx="582.5" cy="641.7" r="3.1"/><circle cx="584.1" cy="644.3" r="3.1"/><circle cx="585.7" cy="641.7" r="3.1"/><circle cx="587.0" cy="646.0" r="3.1"/><circle cx="588.5" cy="648.2" r="3.1"/><circle cx="589.9" cy="654.3" r="3.1"/><circle cx="591.5" cy="655.5" r="3.1"/><circle cx="593.2" cy="664.4" r="3.1"/><circle cx="594.2" cy="657.2" r="3.1"/><circle cx="596.1" cy="663.8" r="3.1"/><circle cx="597.4" cy="662.5" r="3.1"/><circle cx="599.0" cy="665.1" r="3.1"/><circle cx="600.5" cy="662.9" r="3.1"/><circle cx="602.1" cy="662.7" r="3.1"/><circle cx="603.5" cy="668.2" r="3.1"/><circle cx="604.9" cy="675.0" r="3.1"/><circle cx="606.5" cy="679.6" r="3.1"/><circle cx="608.0" cy="678.9" r="3.1"/><circle cx="609.5" cy="680.8" r="3.1"/><circle cx="611.0" cy="679.0" r="3.1"/><circle cx="612.6" cy="688.4" r="3.1"/><circle cx="614.0" cy="690.1" r="3.1"/><circle cx="615.5" cy="686.8" r="3.1"/><circle cx="616.8" cy="690.7" r="3.1"/><circle cx="618.5" cy="690.2" r="3.1"/><circle cx="619.7" cy="700.0" r="3.1"/><circle cx="621.6" cy="699.3" r="3.1"/><circle cx="622.9" cy="700.3" r="3.1"/><circle cx="624.7" cy="704.4" r="3.1"/><circle cx="626.4" cy="707.1" r="3.1"/><circle cx="627.4" cy="707.3" r="3.1"/><circle cx="629.2" cy="707.5" r="3.1"/><circle cx="630.6" cy="709.9" r="3.1"/><circle cx="631.9" cy="710.9" r="3.1"/><circle cx="633.4" cy="719.7" r="3.1"/><circle cx="635.1" cy="727.2" r="3.1"/><circle cx="636.7" cy="717.6" r="3.1"/><circle cx="638.1" cy="725.2" r="3.1"/><circle cx="639.3" cy="728.0" r="3.1"/><circle cx="640.8" cy="725.8" r="3.1"/><circle cx="642.5" cy="731.3" r="3.1"/><circle cx="644.2" cy="729.4" r="3.1"/><circle cx="645.5" cy="738.2" r="3.1"/><circle cx="647.0" cy="734.7" r="3.1"/><circle cx="648.7" cy="738.6" r="3.1"/><circle cx="650.0" cy="742.1" r="3.1"/><circle cx="651.5" cy="740.5" r="3.1"/><circle cx="653.0" cy="738.1" r="3.1"/><circle cx="654.2" cy="743.6" r="3.1"/><circle cx="656.1" cy="749.2" r="3.1"/><circle cx="657.6" cy="748.5" r="3.1"/><circle cx="659.1" cy="751.2" r="3.1"/><circle cx="660.3" cy="749.2" r="3.1"/><circle cx="661.9" cy="754.8" r="3.1"/><circle cx="663.6" cy="758.6" r="3.1"/><circle cx="665.0" cy="758.7" r="3.1"/><circle cx="666.7" cy="766.6" r="3.1"/><circle cx="667.9" cy="762.5" r="3.1"/><circle cx="669.5" cy="762.2" r="3.1"/><circle cx="670.9" cy="762.7" r="3.1"/><circle cx="672.5" cy="773.2" r="3.1"/><circle cx="673.9" cy="771.6" r="3.1"/><circle cx="675.6" cy="776.8" r="3.1"/><circle cx="677.2" cy="776.9" r="3.1"/><circle cx="678.6" cy="782.1" r="3.1"/><circle cx="679.7" cy="782.7" r="3.1"/><circle cx="681.6" cy="779.3" r="3.1"/><circle cx="683.1" cy="782.8" r="3.1"/><circle cx="684.3" cy="786.7" r="3.1"/><circle cx="685.9" cy="781.2" r="3.1"/><circle cx="687.5" cy="790.7" r="3.1"/><circle cx="689.1" cy="791.3" r="3.1"/><circle cx="690.4" cy="792.0" r="3.1"/><circle cx="691.8" cy="789.8" r="3.1"/><circle cx="693.5" cy="792.6" r="3.1"/><circle cx="695.0" cy="789.7" r="3.1"/><circle cx="696.9" cy="794.5" r="3.1"/><circle cx="697.8" cy="793.8" r="3.1"/><circle cx="699.9" cy="797.0" r="3.1"/><circle cx="701.3" cy="796.5" r="3.1"/><circle cx="702.5" cy="800.0" r="3.1"/><circle cx="704.2" cy="803.8" r="3.1"/><circle cx="705.5" cy="797.4" r="3.1"/><circle cx="707.1" cy="805.2" r="3.1"/><circle cx="708.4" cy="797.5" r="3.1"/><circle cx="710.0" cy="798.0" r="3.1"/><circle cx="711.3" cy="805.1" r="3.1"/><circle cx="712.8" cy="806.4" r="3.1"/><circle cx="714.5" cy="808.6" r="3.1"/><circle cx="715.9" cy="803.3" r="3.1"/><circle cx="717.6" cy="808.9" r="3.1"/><circle cx="719.2" cy="810.3" r="3.1"/><circle cx="720.5" cy="814.5" r="3.1"/><circle cx="722.0" cy="811.2" r="3.1"/><circle cx="723.5" cy="813.8" r="3.1"/><circle cx="724.7" cy="810.0" r="3.1"/><circle cx="726.5" cy="813.0" r="3.1"/><circle cx="728.0" cy="812.9" r="3.1"/><circle cx="729.5" cy="817.0" r="3.1"/><circle cx="730.8" cy="812.5" r="3.1"/><circle cx="732.2" cy="813.6" r="3.1"/><circle cx="734.0" cy="818.4" r="3.1"/><circle cx="735.5" cy="822.6" r="3.1"/><circle cx="737.2" cy="818.9" r="3.1"/><circle cx="738.7" cy="819.2" r="3.1"/><circle cx="740.2" cy="817.8" r="3.1"/><circle cx="741.6" cy="822.6" r="3.1"/><circle cx="743.2" cy="821.4" r="3.1"/><circle cx="744.5" cy="825.5" r="3.1"/><circle cx="746.1" cy="821.8" r="3.1"/><circle cx="747.6" cy="818.4" r="3.1"/><circle cx="749.4" cy="820.0" r="3.1"/><circle cx="750.5" cy="819.1" r="3.1"/><circle cx="751.8" cy="818.7" r="3.1"/><circle cx="753.7" cy="826.6" r="3.1"/><circle cx="754.9" cy="825.6" r="3.1"/><circle cx="756.5" cy="819.8" r="3.1"/><circle cx="758.0" cy="829.2" r="3.1"/><circle cx="759.4" cy="825.0" r="3.1"/><circle cx="761.2" cy="821.7" r="3.1"/><circle cx="762.6" cy="826.0" r="3.1"/><circle cx="763.9" cy="824.9" r="3.1"/><circle cx="765.5" cy="823.0" r="3.1"/><circle cx="766.9" cy="819.8" r="3.1"/><circle cx="768.6" cy="826.0" r="3.1"/><circle cx="769.9" cy="826.9" r="3.1"/><circle cx="771.4" cy="818.5" r="3.1"/><circle cx="772.9" cy="828.2" r="3.1"/><circle cx="774.4" cy="828.5" r="3.1"/><circle cx="776.0" cy="825.5" r="3.1"/><circle cx="777.4" cy="827.4" r="3.1"/><circle cx="779.0" cy="826.4" r="3.1"/><circle cx="780.6" cy="824.8" r="3.1"/><circle cx="782.4" cy="826.4" r="3.1"/><circle cx="783.6" cy="831.5" r="3.1"/><circle cx="784.6" cy="823.1" r="3.1"/><circle cx="786.4" cy="828.1" r="3.1"/><circle cx="787.9" cy="827.7" r="3.1"/><circle cx="789.5" cy="824.7" r="3.1"/><circle cx="791.2" cy="825.1" r="3.1"/><circle cx="792.6" cy="821.7" r="3.1"/><circle cx="793.7" cy="822.8" r="3.1"/><circle cx="795.5" cy="824.9" r="3.1"/><circle cx="797.0" cy="825.2" r="3.1"/><circle cx="798.6" cy="821.0" r="3.1"/><circle cx="800.2" cy="832.4" r="3.1"/><circle cx="801.3" cy="821.0" r="3.1"/><circle cx="803.2" cy="822.6" r="3.1"/><circle cx="804.3" cy="821.1" r="3.1"/><circle cx="806.0" cy="820.1" r="3.1"/><circle cx="807.6" cy="824.8" r="3.1"/><circle cx="809.3" cy="819.0" r="3.1"/><circle cx="810.4" cy="824.0" r="3.1"/><circle cx="811.7" cy="822.9" r="3.1"/><circle cx="813.6" cy="815.9" r="3.1"/><circle cx="814.9" cy="821.7" r="3.1"/><circle cx="816.7" cy="816.2" r="3.1"/><circle cx="817.9" cy="825.9" r="3.1"/><circle cx="819.4" cy="816.1" r="3.1"/><circle cx="821.2" cy="814.0" r="3.1"/><circle cx="822.5" cy="810.7" r="3.1"/><circle cx="824.2" cy="812.1" r="3.1"/><circle cx="825.3" cy="813.8" r="3.1"/><circle cx="827.2" cy="812.0" r="3.1"/><circle cx="828.4" cy="810.9" r="3.1"/><circle cx="830.1" cy="812.0" r="3.1"/><circle cx="831.3" cy="813.0" r="3.1"/><circle cx="832.8" cy="817.4" r="3.1"/><circle cx="834.5" cy="807.4" r="3.1"/><circle cx="836.0" cy="810.3" r="3.1"/><circle cx="837.7" cy="808.5" r="3.1"/><circle cx="839.1" cy="806.3" r="3.1"/><circle cx="840.6" cy="806.4" r="3.1"/><circle cx="842.1" cy="806.9" r="3.1"/><circle cx="844.0" cy="811.1" r="3.1"/><circle cx="844.9" cy="807.8" r="3.1"/><circle cx="846.7" cy="806.1" r="3.1"/><circle cx="848.0" cy="808.9" r="3.1"/><circle cx="849.5" cy="807.2" r="3.1"/><circle cx="850.9" cy="805.0" r="3.1"/><circle cx="852.7" cy="806.1" r="3.1"/><circle cx="853.8" cy="801.7" r="3.1"/><circle cx="855.3" cy="805.3" r="3.1"/><circle cx="857.0" cy="804.0" r="3.1"/><circle cx="858.3" cy="800.6" r="3.1"/><circle cx="860.1" cy="797.4" r="3.1"/><circle cx="861.6" cy="804.8" r="3.1"/><circle cx="862.9" cy="799.7" r="3.1"/><circle cx="864.6" cy="807.7" r="3.1"/><circle cx="865.9" cy="795.7" r="3.1"/><circle cx="867.5" cy="799.4" r="3.1"/><circle cx="869.0" cy="794.6" r="3.1"/><circle cx="870.8" cy="795.8" r="3.1"/><circle cx="872.0" cy="796.6" r="3.1"/><circle cx="873.4" cy="790.8" r="3.1"/><circle cx="874.9" cy="791.9" r="3.1"/><circle cx="876.7" cy="791.8" r="3.1"/><circle cx="877.7" cy="790.7" r="3.1"/><circle cx="879.4" cy="791.3" r="3.1"/><circle cx="880.9" cy="791.6" r="3.1"/><circle cx="882.1" cy="790.1" r="3.1"/><circle cx="883.9" cy="787.5" r="3.1"/><circle cx="885.7" cy="784.7" r="3.1"/><circle cx="887.0" cy="781.4" r="3.1"/><circle cx="888.4" cy="781.7" r="3.1"/><circle cx="890.1" cy="781.4" r="3.1"/><circle cx="891.6" cy="784.2" r="3.1"/><circle cx="893.3" cy="780.2" r="3.1"/><circle cx="894.4" cy="776.7" r="3.1"/><circle cx="895.9" cy="781.5" r="3.1"/><circle cx="897.5" cy="776.5" r="3.1"/><circle cx="899.0" cy="775.8" r="3.1"/><circle cx="900.5" cy="776.6" r="3.1"/><circle cx="902.0" cy="778.0" r="3.1"/><circle cx="903.4" cy="768.6" r="3.1"/><circle cx="904.8" cy="771.8" r="3.1"/><circle cx="906.4" cy="775.0" r="3.1"/><circle cx="907.8" cy="772.7" r="3.1"/><circle cx="909.3" cy="770.5" r="3.1"/><circle cx="910.9" cy="770.8" r="3.1"/><circle cx="912.6" cy="776.0" r="3.1"/><circle cx="914.1" cy="769.8" r="3.1"/><circle cx="915.3" cy="772.7" r="3.1"/><circle cx="917.0" cy="772.4" r="3.1"/><circle cx="918.6" cy="768.0" r="3.1"/><circle cx="920.0" cy="770.2" r="3.1"/><circle cx="921.3" cy="766.9" r="3.1"/><circle cx="922.7" cy="765.9" r="3.1"/><circle cx="924.6" cy="763.8" r="3.1"/><circle cx="926.1" cy="769.3" r="3.1"/><circle cx="927.5" cy="764.9" r="3.1"/><circle cx="928.8" cy="764.0" r="3.1"/><circle cx="930.7" cy="761.8" r="3.1"/></g>
<path d="M156.5,575.0 L157.3,574.4 L158.1,573.8 L158.9,573.3 L159.8,572.7 L160.6,572.1 L161.4,571.6 L162.2,571.0 L163.1,570.5 L163.9,569.9 L164.8,569.4 L165.6,568.9 L166.5,568.4 L167.4,567.9 L168.3,567.5 L169.2,567.0 L170.0,566.6 L170.9,566.1 L171.8,565.7 L172.8,565.3 L173.7,564.9 L174.6,564.5 L175.5,564.1 L176.4,563.7 L177.4,563.4 L178.3,563.1 L179.3,562.7 L180.2,562.4 L181.2,562.1 L182.1,561.8 L183.1,561.6 L184.0,561.3 L185.0,561.0 L186.0,560.8 L186.9,560.6 L187.9,560.4 L188.9,560.2 L189.9,560.1 L190.9,559.9 L191.9,559.9 L192.8,559.8 L193.8,559.8 L194.8,559.8 L195.8,559.8 L196.8,559.9 L197.8,560.0 L198.8,560.1 L199.8,560.2 L200.8,560.4 L201.7,560.5 L202.7,560.7 L203.7,560.9 L204.7,561.2 L205.6,561.4 L206.6,561.7 L207.6,561.9 L208.5,562.2 L209.5,562.6 L210.4,562.9 L211.3,563.3 L212.2,563.7 L213.1,564.1 L214.0,564.6 L214.9,565.0 L215.7,565.5 L216.5,566.1 L217.4,566.6 L218.2,567.2 L219.0,567.8 L219.8,568.4 L220.6,569.0 L221.3,569.6 L222.1,570.3 L222.9,570.9 L223.6,571.6 L224.3,572.3 L225.0,573.0 L225.7,573.7 L226.4,574.4 L227.1,575.2 L227.8,575.9 L228.4,576.7 L229.1,577.4 L229.7,578.2 L230.4,578.9 L231.0,579.7 L231.6,580.5 L232.3,581.3 L232.9,582.0 L233.5,582.8 L234.1,583.6 L234.7,584.4 L235.3,585.2 L235.9,586.0 L236.5,586.8 L237.1,587.7 L237.6,588.5 L238.2,589.3 L238.7,590.2 L239.3,591.0 L239.8,591.8 L240.3,592.7 L240.8,593.6 L241.3,594.4 L241.8,595.3 L242.2,596.2 L242.7,597.1 L243.2,598.0 L243.6,598.9 L244.0,599.8 L244.5,600.7 L244.9,601.6 L245.4,602.5 L245.8,603.4 L246.2,604.3 L246.6,605.2 L247.1,606.1 L247.5,607.0 L247.9,607.9 L248.3,608.8 L248.7,609.7 L249.2,610.6 L249.6,611.5 L250.0,612.4 L250.4,613.3 L250.8,614.3 L251.2,615.2 L251.6,616.1 L252.0,617.0 L252.3,617.9 L252.7,618.9 L253.1,619.8 L253.5,620.7 L253.8,621.7 L254.2,622.6 L254.6,623.5 L254.9,624.5 L255.3,625.4 L255.6,626.3 L256.0,627.3 L256.3,628.2 L256.7,629.1 L257.0,630.1 L257.4,631.0 L257.7,632.0 L258.1,632.9 L258.4,633.8 L258.7,634.8 L259.1,635.7 L259.4,636.6 L259.8,637.6 L260.1,638.5 L260.5,639.5 L260.8,640.4 L261.2,641.3 L261.5,642.3 L261.9,643.2 L262.2,644.1 L262.6,645.1 L262.9,646.0 L263.3,647.0 L263.6,647.9 L264.0,648.8 L264.3,649.8 L264.7,650.7 L265.1,651.6 L265.4,652.6 L265.8,653.5 L266.1,654.4 L266.5,655.4 L266.9,656.3 L267.2,657.2 L267.6,658.2 L268.0,659.1 L268.3,660.0 L268.7,660.9 L269.1,661.9 L269.5,662.8 L269.9,663.7 L270.2,664.6 L270.6,665.6 L271.0,666.5 L271.4,667.4 L271.8,668.3 L272.2,669.2 L272.6,670.2 L273.0,671.1 L273.3,672.0 L273.7,672.9 L274.1,673.9 L274.5,674.8 L274.9,675.7 L275.2,676.6 L275.6,677.6 L276.0,678.5 L276.3,679.4 L276.7,680.3 L277.1,681.3 L277.4,682.2 L277.8,683.1 L278.2,684.1 L278.5,685.0 L278.9,685.9 L279.2,686.9 L279.6,687.8 L279.9,688.8 L280.3,689.7 L280.6,690.6 L281.0,691.6 L281.3,692.5 L281.6,693.4 L282.0,694.4 L282.3,695.3 L282.7,696.3 L283.0,697.2 L283.4,698.1 L283.7,699.1 L284.1,700.0 L284.4,701.0 L284.8,701.9 L285.2,702.8 L285.5,703.7 L285.9,704.7 L286.3,705.6 L286.6,706.5 L287.0,707.5 L287.4,708.4 L287.8,709.3 L288.1,710.2 L288.5,711.2 L288.9,712.1 L289.2,713.0 L289.6,714.0 L290.0,714.9 L290.3,715.8 L290.7,716.8 L291.0,717.7 L291.4,718.6 L291.7,719.6 L292.1,720.5 L292.4,721.4 L292.8,722.4 L293.1,723.3 L293.4,724.3 L293.7,725.2 L294.1,726.2 L294.4,727.1 L294.7,728.1 L295.0,729.0 L295.3,730.0 L295.6,730.9 L295.9,731.9 L296.2,732.8 L296.5,733.8 L296.8,734.7 L297.1,735.7 L297.4,736.7 L297.7,737.6 L298.0,738.6 L298.3,739.5 L298.6,740.4 L299.0,741.4 L299.3,742.3 L299.7,743.3 L300.0,744.2 L300.4,745.1 L300.7,746.1 L301.1,747.0 L301.5,747.9 L301.9,748.8 L302.2,749.8 L302.6,750.7 L303.0,751.6 L303.4,752.5 L303.8,753.5 L304.1,754.4 L304.5,755.3 L304.9,756.2 L305.3,757.2 L305.7,758.1 L306.0,759.0 L306.4,759.9 L306.8,760.9 L307.2,761.8 L307.6,762.7 L307.9,763.6 L308.3,764.6 L308.7,765.5 L309.1,766.4 L309.5,767.3 L309.9,768.2 L310.3,769.2 L310.7,770.1 L311.1,771.0 L311.5,771.9 L312.0,772.8 L312.4,773.7 L312.8,774.6 L313.3,775.5 L313.7,776.4 L314.2,777.3 L314.6,778.2 L315.1,779.1 L315.5,780.0 L316.0,780.9 L316.4,781.7 L316.9,782.6 L317.3,783.5 L317.8,784.4 L318.3,785.3 L318.7,786.2 L319.2,787.1 L319.7,787.9 L320.2,788.8 L320.7,789.7 L321.1,790.6 L321.6,791.4 L322.1,792.3 L322.6,793.2 L323.1,794.1 L323.6,794.9 L324.1,795.8 L324.6,796.6 L325.1,797.5 L325.6,798.4 L326.1,799.2 L326.6,800.1 L327.2,800.9 L327.7,801.8 L328.2,802.6 L328.7,803.5 L329.3,804.3 L329.8,805.2 L330.3,806.0 L330.9,806.9 L331.4,807.7 L332.0,808.5 L332.5,809.4 L333.1,810.2 L333.6,811.0 L334.2,811.9 L334.8,812.7 L335.4,813.5 L335.9,814.3 L336.5,815.1 L337.2,815.9 L337.8,816.7 L338.4,817.4 L339.1,818.2 L339.7,818.9 L340.4,819.6 L341.1,820.3 L341.8,821.0 L342.6,821.7 L343.3,822.4 L344.1,823.0 L344.9,823.6 L345.7,824.2 L346.5,824.8 L347.3,825.4 L348.1,826.0 L348.9,826.5 L349.8,827.0 L350.7,827.5 L351.5,827.9 L352.4,828.4 L353.3,828.8 L354.3,829.1 L355.2,829.5 L356.1,829.8 L357.1,830.1 L358.0,830.3 L359.0,830.6 L360.0,830.8 L361.0,830.9 L361.9,831.1 L362.9,831.2 L363.9,831.3 L364.9,831.4 L365.9,831.4 L366.9,831.4 L367.9,831.3 L368.9,831.3 L369.8,831.2 L370.8,831.0 L371.8,830.8 L372.8,830.6 L373.7,830.4 L374.7,830.1 L375.6,829.9 L376.6,829.6 L377.5,829.2 L378.5,828.9 L379.4,828.5 L380.3,828.2 L381.3,827.8 L382.2,827.4 L383.1,827.0 L384.0,826.5 L384.8,826.1 L385.7,825.6 L386.6,825.1 L387.4,824.6 L388.3,824.0 L389.1,823.5 L389.9,822.9 L390.8,822.4 L391.6,821.8 L392.4,821.2 L393.2,820.6 L394.0,820.0 L394.8,819.4 L395.6,818.8 L396.4,818.2 L397.2,817.6 L398.0,817.0 L398.8,816.4 L399.5,815.7 L400.3,815.1 L401.1,814.5 L401.8,813.8 L402.6,813.1 L403.3,812.5 L404.1,811.8 L404.8,811.1 L405.6,810.5 L406.3,809.8 L407.1,809.2 L407.8,808.5 L408.6,807.9 L409.3,807.2 L410.1,806.6 L410.9,806.0 L411.7,805.4 L412.5,804.8 L413.3,804.2 L414.1,803.6 L414.9,803.1 L415.8,802.5 L416.6,801.9 L417.4,801.3 L418.2,800.7 L419.0,800.1 L419.8,799.5 L420.5,798.8 L421.3,798.2 L422.0,797.5 L422.8,796.9 L423.5,796.2 L424.2,795.5 L425.0,794.8 L425.7,794.1 L426.4,793.5 L427.1,792.8 L427.9,792.1 L428.6,791.4 L429.3,790.7 L430.1,790.1 L430.8,789.4 L431.6,788.7 L432.3,788.1 L433.1,787.5 L433.9,786.8 L434.7,786.2 L435.4,785.6 L436.2,784.9 L437.0,784.3 L437.8,783.7 L438.6,783.1 L439.4,782.5 L440.2,781.9 L441.0,781.3 L441.8,780.8 L442.7,780.2 L443.5,779.6 L444.3,779.0 L445.1,778.5 L445.9,777.9 L446.7,777.3 L447.5,776.7 L448.3,776.1 L449.1,775.5 L449.9,774.9 L450.7,774.2 L451.4,773.6 L452.2,772.9 L452.9,772.2 L453.6,771.6 L454.4,770.9 L455.1,770.2 L455.8,769.5 L456.5,768.8 L457.3,768.1 L458.0,767.5 L458.7,766.8 L459.5,766.1 L460.2,765.5 L461.0,764.8 L461.8,764.2 L462.5,763.6 L463.3,762.9 L464.1,762.3 L464.9,761.7 L465.7,761.1 L466.5,760.5 L467.3,759.9 L468.1,759.4 L469.0,758.8 L469.8,758.2 L470.6,757.6 L471.4,757.0 L472.2,756.4 L473.0,755.9 L473.8,755.3 L474.7,754.7 L475.5,754.1 L476.3,753.6 L477.1,753.0 L477.9,752.4 L478.8,751.9 L479.6,751.3 L480.4,750.7 L481.2,750.1 L482.0,749.5 L482.8,749.0 L483.7,748.4 L484.5,747.8 L485.3,747.2 L486.1,746.7 L486.9,746.1 L487.8,745.6 L488.6,745.0 L489.4,744.5 L490.3,743.9 L491.1,743.4 L492.0,742.9 L492.8,742.4 L493.7,741.9 L494.6,741.4 L495.4,740.9 L496.3,740.4 L497.2,739.9 L498.1,739.4 L498.9,738.9 L499.8,738.5 L500.7,738.0 L501.6,737.5 L502.5,737.0 L503.3,736.5 L504.2,736.0 L505.1,735.6 L506.0,735.1 L506.8,734.6 L507.7,734.1 L508.6,733.6 L509.4,733.1 L510.3,732.6 L511.2,732.1 L512.1,731.6 L512.9,731.2 L513.8,730.7 L514.7,730.2 L515.6,729.8 L516.5,729.3 L517.4,728.9 L518.3,728.5 L519.2,728.0 L520.1,727.6 L521.0,727.2 L521.9,726.8 L522.9,726.5 L523.8,726.1 L524.7,725.7 L525.6,725.3 L526.6,725.0 L527.5,724.6 L528.4,724.3 L529.4,723.9 L530.3,723.5 L531.2,723.2 L532.2,722.9 L533.1,722.5 L534.1,722.2 L535.0,721.8 L535.9,721.5 L536.9,721.2 L537.8,720.8 L538.8,720.5 L539.7,720.2 L540.7,719.8 L541.6,719.5 L542.6,719.2 L543.5,718.9 L544.4,718.5 L545.4,718.2 L546.3,717.9 L547.3,717.5 L548.2,717.2 L549.2,716.9 L550.1,716.5 L551.0,716.2 L552.0,715.9 L552.9,715.5 L553.9,715.2 L554.8,714.9 L555.8,714.5 L556.7,714.2 L557.7,713.9 L558.6,713.6 L559.6,713.3 L560.5,713.0 L561.5,712.7 L562.4,712.4 L563.4,712.1 L564.3,711.8 L565.3,711.5 L566.2,711.2 L567.2,711.0 L568.2,710.7 L569.1,710.4 L570.1,710.1 L571.1,709.8 L572.0,709.6 L573.0,709.3 L573.9,709.0 L574.9,708.8 L575.9,708.5 L576.8,708.2 L577.8,708.0 L578.8,707.7 L579.7,707.5 L580.7,707.2 L581.7,707.0 L582.6,706.7 L583.6,706.5 L584.6,706.3 L585.6,706.0 L586.5,705.8 L587.5,705.6 L588.5,705.4 L589.5,705.2 L590.4,705.0 L591.4,704.7 L592.4,704.5 L593.4,704.3 L594.4,704.2 L595.3,704.0 L596.3,703.8 L597.3,703.6 L598.3,703.4 L599.3,703.2 L600.3,703.1 L601.2,702.9 L602.2,702.7 L603.2,702.6 L604.2,702.4 L605.2,702.3 L606.2,702.1 L607.2,701.9 L608.2,701.8 L609.1,701.6 L610.1,701.5 L611.1,701.3 L612.1,701.2 L613.1,701.1 L614.1,700.9 L615.1,700.8 L616.1,700.6 L617.1,700.5 L618.1,700.4 L619.0,700.3 L620.0,700.1 L621.0,700.0 L622.0,699.9 L623.0,699.8 L624.0,699.6 L625.0,699.5 L626.0,699.4 L627.0,699.3 L628.0,699.2 L629.0,699.0 L630.0,698.9 L631.0,698.8 L632.0,698.7 L632.9,698.6 L633.9,698.5 L634.9,698.4 L635.9,698.3 L636.9,698.2 L637.9,698.1 L638.9,698.0 L639.9,697.9 L640.9,697.8 L641.9,697.7 L642.9,697.6 L643.9,697.5 L644.9,697.4 L645.9,697.3 L646.9,697.2 L647.9,697.1 L648.9,697.0 L649.9,696.9 L650.9,696.9 L651.9,696.8 L652.9,696.7 L653.9,696.6 L654.8,696.5 L655.8,696.4 L656.8,696.4 L657.8,696.3 L658.8,696.2 L659.8,696.1 L660.8,696.1 L661.8,696.0 L662.8,695.9 L663.8,695.8 L664.8,695.8 L665.8,695.7 L666.8,695.6 L667.8,695.6 L668.8,695.5 L669.8,695.4 L670.8,695.4 L671.8,695.3 L672.8,695.2 L673.8,695.2 L674.8,695.1 L675.8,695.0 L676.8,695.0 L677.8,694.9 L678.8,694.9 L679.8,694.8 L680.8,694.7 L681.8,694.7 L682.8,694.6 L683.8,694.6 L684.8,694.5 L685.8,694.5 L686.8,694.4 L687.8,694.4 L688.8,694.3 L689.8,694.2 L690.8,694.2 L691.8,694.1 L692.8,694.1 L693.8,694.0 L694.8,694.0 L695.8,693.9 L696.8,693.9 L697.8,693.9 L698.8,693.8 L699.8,693.8 L700.8,693.7 L701.8,693.7 L702.8,693.6 L703.8,693.6 L704.8,693.5 L705.8,693.5 L706.8,693.4 L707.8,693.4 L708.8,693.4 L709.8,693.3 L710.7,693.3 L711.7,693.2 L712.7,693.2 L713.7,693.1 L714.7,693.1 L715.7,693.0 L716.7,693.0 L717.7,692.9 L718.7,692.9 L719.7,692.9 L720.7,692.8 L721.7,692.8 L722.7,692.7 L723.7,692.7 L724.7,692.6 L725.7,692.6 L726.7,692.5 L727.7,692.5 L728.7,692.4 L729.7,692.4 L730.7,692.3 L731.7,692.3 L732.7,692.2 L733.7,692.2 L734.7,692.1 L735.7,692.1 L736.7,692.0 L737.7,691.9 L738.7,691.9 L739.7,691.8 L740.7,691.8 L741.7,691.7 L742.7,691.7 L743.7,691.6 L744.7,691.6 L745.7,691.6 L746.7,691.5 L747.7,691.5 L748.7,691.4 L749.7,691.4 L750.7,691.3 L751.7,691.3 L752.7,691.3 L753.7,691.2 L754.7,691.2 L755.7,691.1 L756.7,691.1 L757.7,691.1 L758.7,691.0 L759.7,691.0 L760.7,691.0 L761.7,691.0 L762.7,690.9 L763.7,690.9 L764.7,690.9 L765.7,690.8 L766.7,690.8 L767.7,690.8 L768.7,690.8 L769.7,690.7 L770.7,690.7 L771.7,690.7 L772.7,690.6 L773.7,690.6 L774.7,690.6 L775.7,690.6 L776.7,690.5 L777.7,690.5 L778.7,690.5 L779.7,690.5 L780.7,690.4 L781.7,690.4 L782.7,690.4 L783.7,690.3 L784.7,690.3 L785.7,690.3 L786.7,690.2 L787.7,690.2 L788.7,690.2 L789.7,690.1 L790.7,690.1 L791.7,690.1 L792.7,690.0 L793.7,690.0 L794.7,690.0 L795.7,689.9 L796.7,689.9 L797.7,689.9 L798.7,689.8 L799.7,689.8 L800.7,689.8 L801.7,689.7 L802.7,689.7 L803.7,689.7 L804.7,689.6 L805.7,689.6 L806.7,689.6 L807.7,689.5 L808.7,689.5 L809.7,689.5 L810.7,689.5 L811.7,689.4 L812.7,689.4 L813.7,689.4 L814.7,689.3 L815.7,689.3 L816.7,689.3 L817.7,689.3 L818.7,689.2 L819.7,689.2 L820.7,689.2 L821.7,689.2 L822.7,689.2 L823.7,689.1 L824.7,689.1 L825.7,689.1 L826.7,689.1 L827.7,689.1 L828.7,689.0 L829.7,689.0 L830.7,689.0 L831.7,689.0 L832.7,689.0 L833.7,688.9 L834.7,688.9 L835.7,688.9 L836.7,688.9 L837.7,688.9 L838.7,688.9 L839.7,688.8 L840.7,688.8 L841.7,688.8 L842.7,688.8 L843.7,688.8 L844.7,688.7 L845.7,688.7 L846.7,688.7 L847.7,688.7 L848.7,688.7 L849.7,688.6 L850.7,688.6 L851.7,688.6 L852.7,688.6 L853.7,688.5 L854.7,688.5 L855.7,688.5 L856.7,688.5 L857.7,688.4 L858.7,688.4 L859.7,688.4 L860.7,688.4 L861.7,688.3 L862.7,688.3 L863.7,688.3 L864.7,688.3 L865.7,688.2 L866.7,688.2 L867.7,688.2 L868.7,688.2 L869.7,688.2 L870.7,688.1 L871.7,688.1 L872.7,688.1 L873.7,688.1 L874.7,688.1 L875.7,688.0 L876.7,688.0 L877.7,688.0 L878.7,688.0 L879.7,688.0 L880.7,688.0 L881.7,688.0 L882.7,687.9 L883.7,687.9 L884.7,687.9 L885.7,687.9 L886.7,687.9 L887.7,687.9 L888.7,687.9 L889.7,687.8 L890.7,687.8 L891.7,687.8 L892.7,687.8 L893.7,687.8 L894.7,687.8 L895.7,687.8 L896.7,687.8 L897.7,687.7 L898.7,687.7 L899.7,687.7 L900.7,687.7 L901.7,687.7 L902.7,687.7 L903.7,687.7 L904.7,687.7 L905.7,687.7 L906.7,687.6 L907.7,687.6 L908.7,687.6 L909.7,687.6 L910.7,687.6 L911.7,687.6 L912.7,687.6 L913.7,687.6 L914.7,687.6 L915.7,687.6 L916.7,687.6 L917.7,687.6 L918.7,687.5 L919.7,687.5 L920.7,687.5 L921.7,687.5 L922.7,687.5 L923.7,687.5 L924.7,687.5 L925.7,687.5 L926.7,687.5 L927.7,687.5 L928.7,687.5 L929.7,687.5 L930.7,687.5" fill="none" stroke="#000" stroke-width="6.8" stroke-linejoin="round" stroke-linecap="round" />
<g fill="#0000ff"><circle cx="156.5" cy="662.1" r="3.1"/><circle cx="157.8" cy="648.0" r="3.1"/><circle cx="159.1" cy="656.6" r="3.1"/><circle cx="160.6" cy="653.3" r="3.1"/><circle cx="161.7" cy="653.4" r="3.1"/><circle cx="162.9" cy="653.8" r="3.1"/><circle cx="164.2" cy="648.1" r="3.1"/><circle cx="165.6" cy="653.1" r="3.1"/><circle cx="167.0" cy="650.9" r="3.1"/><circle cx="168.1" cy="663.2" r="3.1"/><circle cx="169.7" cy="653.7" r="3.1"/><circle cx="170.8" cy="651.7" r="3.1"/><circle cx="172.1" cy="651.7" r="3.1"/><circle cx="173.2" cy="650.3" r="3.1"/><circle cx="174.7" cy="649.0" r="3.1"/><circle cx="176.1" cy="650.8" r="3.1"/><circle cx="177.0" cy="653.2" r="3.1"/><circle cx="178.8" cy="650.9" r="3.1"/><circle cx="180.1" cy="654.4" r="3.1"/><circle cx="181.3" cy="650.8" r="3.1"/><circle cx="182.6" cy="651.4" r="3.1"/><circle cx="184.2" cy="655.9" r="3.1"/><circle cx="185.3" cy="652.8" r="3.1"/><circle cx="186.3" cy="649.6" r="3.1"/><circle cx="187.7" cy="650.5" r="3.1"/><circle cx="189.0" cy="652.6" r="3.1"/><circle cx="190.3" cy="656.7" r="3.1"/><circle cx="191.2" cy="650.0" r="3.1"/><circle cx="193.0" cy="650.1" r="3.1"/><circle cx="194.1" cy="653.8" r="3.1"/><circle cx="195.5" cy="648.0" r="3.1"/><circle cx="196.8" cy="649.8" r="3.1"/><circle cx="198.2" cy="653.3" r="3.1"/><circle cx="199.4" cy="652.3" r="3.1"/><circle cx="200.6" cy="650.8" r="3.1"/><circle cx="202.1" cy="652.5" r="3.1"/><circle cx="203.5" cy="641.9" r="3.1"/><circle cx="204.6" cy="653.4" r="3.1"/><circle cx="206.1" cy="647.4" r="3.1"/><circle cx="207.2" cy="645.2" r="3.1"/><circle cx="208.4" cy="650.9" r="3.1"/><circle cx="210.0" cy="652.1" r="3.1"/><circle cx="211.0" cy="648.6" r="3.1"/><circle cx="212.6" cy="646.5" r="3.1"/><circle cx="213.6" cy="649.7" r="3.1"/><circle cx="215.1" cy="649.3" r="3.1"/><circle cx="216.1" cy="653.5" r="3.1"/><circle cx="217.5" cy="651.4" r="3.1"/><circle cx="219.1" cy="649.6" r="3.1"/><circle cx="220.2" cy="652.1" r="3.1"/><circle cx="221.5" cy="648.0" r="3.1"/><circle cx="222.7" cy="645.6" r="3.1"/><circle cx="224.2" cy="649.9" r="3.1"/><circle cx="225.2" cy="649.7" r="3.1"/><circle cx="226.5" cy="647.1" r="3.1"/><circle cx="228.0" cy="645.2" r="3.1"/><circle cx="229.2" cy="648.0" r="3.1"/><circle cx="230.5" cy="639.6" r="3.1"/><circle cx="231.9" cy="648.9" r="3.1"/><circle cx="233.2" cy="648.1" r="3.1"/><circle cx="234.5" cy="641.5" r="3.1"/><circle cx="236.0" cy="646.4" r="3.1"/><circle cx="237.3" cy="643.1" r="3.1"/><circle cx="238.6" cy="648.0" r="3.1"/><circle cx="239.7" cy="639.5" r="3.1"/><circle cx="240.9" cy="642.6" r="3.1"/><circle cx="242.1" cy="647.3" r="3.1"/><circle cx="243.5" cy="648.4" r="3.1"/><circle cx="244.6" cy="638.3" r="3.1"/><circle cx="246.1" cy="643.1" r="3.1"/><circle cx="247.6" cy="645.4" r="3.1"/><circle cx="249.0" cy="642.4" r="3.1"/><circle cx="250.2" cy="648.8" r="3.1"/><circle cx="251.3" cy="640.3" r="3.1"/><circle cx="252.8" cy="644.7" r="3.1"/><circle cx="253.9" cy="640.3" r="3.1"/><circle cx="255.4" cy="647.5" r="3.1"/><circle cx="256.6" cy="643.0" r="3.1"/><circle cx="258.0" cy="641.8" r="3.1"/><circle cx="259.6" cy="637.6" r="3.1"/><circle cx="260.6" cy="647.6" r="3.1"/><circle cx="262.1" cy="644.6" r="3.1"/><circle cx="263.1" cy="644.4" r="3.1"/><circle cx="264.4" cy="645.3" r="3.1"/><circle cx="265.9" cy="642.8" r="3.1"/><circle cx="267.3" cy="639.6" r="3.1"/><circle cx="268.2" cy="638.9" r="3.1"/><circle cx="269.6" cy="638.7" r="3.1"/><circle cx="270.7" cy="644.9" r="3.1"/><circle cx="272.2" cy="636.2" r="3.1"/><circle cx="273.6" cy="638.6" r="3.1"/><circle cx="274.8" cy="639.2" r="3.1"/><circle cx="276.0" cy="640.6" r="3.1"/><circle cx="277.2" cy="641.4" r="3.1"/><circle cx="278.8" cy="635.6" r="3.1"/><circle cx="280.1" cy="633.9" r="3.1"/><circle cx="281.4" cy="638.8" r="3.1"/><circle cx="282.6" cy="642.2" r="3.1"/><circle cx="283.7" cy="640.6" r="3.1"/><circle cx="285.5" cy="638.7" r="3.1"/><circle cx="286.5" cy="636.8" r="3.1"/><circle cx="287.8" cy="638.4" r="3.1"/><circle cx="289.2" cy="636.5" r="3.1"/><circle cx="290.1" cy="639.4" r="3.1"/><circle cx="291.7" cy="634.3" r="3.1"/><circle cx="293.0" cy="636.8" r="3.1"/><circle cx="294.4" cy="635.8" r="3.1"/><circle cx="295.8" cy="637.5" r="3.1"/><circle cx="297.0" cy="636.3" r="3.1"/><circle cx="297.9" cy="643.0" r="3.1"/><circle cx="299.4" cy="639.6" r="3.1"/><circle cx="300.8" cy="639.3" r="3.1"/><circle cx="302.1" cy="628.5" r="3.1"/><circle cx="303.2" cy="633.3" r="3.1"/><circle cx="304.5" cy="632.2" r="3.1"/><circle cx="306.1" cy="635.4" r="3.1"/><circle cx="307.4" cy="626.7" r="3.1"/><circle cx="308.6" cy="636.8" r="3.1"/><circle cx="309.6" cy="636.2" r="3.1"/><circle cx="311.5" cy="628.9" r="3.1"/><circle cx="312.1" cy="629.6" r="3.1"/><circle cx="313.7" cy="629.8" r="3.1"/><circle cx="315.4" cy="632.1" r="3.1"/><circle cx="316.4" cy="633.6" r="3.1"/><circle cx="317.7" cy="637.6" r="3.1"/><circle cx="318.8" cy="630.6" r="3.1"/><circle cx="320.5" cy="633.2" r="3.1"/><circle cx="321.4" cy="631.1" r="3.1"/><circle cx="322.9" cy="635.7" r="3.1"/><circle cx="324.2" cy="632.4" r="3.1"/><circle cx="325.3" cy="634.0" r="3.1"/><circle cx="326.9" cy="626.4" r="3.1"/><circle cx="327.9" cy="628.8" r="3.1"/><circle cx="329.3" cy="626.7" r="3.1"/><circle cx="330.7" cy="633.4" r="3.1"/><circle cx="331.9" cy="630.6" r="3.1"/><circle cx="333.4" cy="627.4" r="3.1"/><circle cx="334.7" cy="626.7" r="3.1"/><circle cx="335.9" cy="629.3" r="3.1"/><circle cx="337.1" cy="625.5" r="3.1"/><circle cx="338.4" cy="624.5" r="3.1"/><circle cx="339.7" cy="628.5" r="3.1"/><circle cx="341.2" cy="634.2" r="3.1"/><circle cx="342.4" cy="625.8" r="3.1"/><circle cx="343.8" cy="624.7" r="3.1"/><circle cx="345.0" cy="622.6" r="3.1"/><circle cx="346.2" cy="621.8" r="3.1"/><circle cx="347.7" cy="627.1" r="3.1"/><circle cx="348.7" cy="627.9" r="3.1"/><circle cx="350.2" cy="625.1" r="3.1"/><circle cx="351.7" cy="625.8" r="3.1"/><circle cx="352.6" cy="624.9" r="3.1"/><circle cx="354.1" cy="624.7" r="3.1"/><circle cx="355.2" cy="619.4" r="3.1"/><circle cx="356.6" cy="622.3" r="3.1"/><circle cx="357.8" cy="623.8" r="3.1"/><circle cx="359.2" cy="620.8" r="3.1"/><circle cx="360.5" cy="621.4" r="3.1"/><circle cx="361.9" cy="620.1" r="3.1"/><circle cx="363.4" cy="621.3" r="3.1"/><circle cx="364.5" cy="624.5" r="3.1"/><circle cx="365.9" cy="620.5" r="3.1"/><circle cx="367.1" cy="620.9" r="3.1"/><circle cx="368.4" cy="623.5" r="3.1"/><circle cx="369.6" cy="622.7" r="3.1"/><circle cx="370.7" cy="625.5" r="3.1"/><circle cx="372.3" cy="613.9" r="3.1"/><circle cx="373.8" cy="622.4" r="3.1"/><circle cx="375.0" cy="618.0" r="3.1"/><circle cx="376.1" cy="619.6" r="3.1"/><circle cx="377.7" cy="621.3" r="3.1"/><circle cx="378.7" cy="621.7" r="3.1"/><circle cx="380.0" cy="621.3" r="3.1"/><circle cx="381.2" cy="618.3" r="3.1"/><circle cx="382.6" cy="622.3" r="3.1"/><circle cx="384.0" cy="616.3" r="3.1"/><circle cx="385.6" cy="616.4" r="3.1"/><circle cx="386.6" cy="618.8" r="3.1"/><circle cx="387.7" cy="614.4" r="3.1"/><circle cx="389.1" cy="622.2" r="3.1"/><circle cx="390.5" cy="618.4" r="3.1"/><circle cx="391.5" cy="621.5" r="3.1"/><circle cx="393.1" cy="614.5" r="3.1"/><circle cx="394.5" cy="613.1" r="3.1"/><circle cx="395.7" cy="614.3" r="3.1"/><circle cx="397.1" cy="615.6" r="3.1"/><circle cx="398.1" cy="611.2" r="3.1"/><circle cx="399.3" cy="613.7" r="3.1"/><circle cx="401.1" cy="612.1" r="3.1"/><circle cx="402.4" cy="616.6" r="3.1"/><circle cx="403.3" cy="609.4" r="3.1"/><circle cx="404.8" cy="614.1" r="3.1"/><circle cx="406.1" cy="608.6" r="3.1"/><circle cx="407.5" cy="607.2" r="3.1"/><circle cx="408.7" cy="607.5" r="3.1"/><circle cx="409.9" cy="605.6" r="3.1"/><circle cx="411.3" cy="609.2" r="3.1"/><circle cx="412.6" cy="611.5" r="3.1"/><circle cx="413.9" cy="608.4" r="3.1"/><circle cx="414.9" cy="609.4" r="3.1"/><circle cx="416.1" cy="612.0" r="3.1"/><circle cx="417.7" cy="607.5" r="3.1"/><circle cx="418.9" cy="606.9" r="3.1"/><circle cx="420.4" cy="605.1" r="3.1"/><circle cx="421.8" cy="600.6" r="3.1"/><circle cx="423.0" cy="607.4" r="3.1"/><circle cx="424.2" cy="599.4" r="3.1"/><circle cx="425.6" cy="606.2" r="3.1"/><circle cx="427.1" cy="603.8" r="3.1"/><circle cx="428.1" cy="606.8" r="3.1"/><circle cx="429.6" cy="602.8" r="3.1"/><circle cx="430.9" cy="600.2" r="3.1"/><circle cx="432.1" cy="603.3" r="3.1"/><circle cx="433.6" cy="600.2" r="3.1"/><circle cx="434.6" cy="600.9" r="3.1"/><circle cx="436.1" cy="601.2" r="3.1"/><circle cx="437.2" cy="600.3" r="3.1"/><circle cx="438.5" cy="599.7" r="3.1"/><circle cx="439.7" cy="597.4" r="3.1"/><circle cx="441.3" cy="598.9" r="3.1"/><circle cx="442.4" cy="592.7" r="3.1"/><circle cx="443.8" cy="598.3" r="3.1"/><circle cx="444.9" cy="594.8" r="3.1"/><circle cx="446.6" cy="601.4" r="3.1"/><circle cx="448.0" cy="601.4" r="3.1"/><circle cx="449.0" cy="591.4" r="3.1"/><circle cx="450.5" cy="597.4" r="3.1"/><circle cx="451.7" cy="596.2" r="3.1"/><circle cx="453.2" cy="593.1" r="3.1"/><circle cx="454.2" cy="597.5" r="3.1"/><circle cx="455.3" cy="594.2" r="3.1"/><circle cx="457.0" cy="590.0" r="3.1"/><circle cx="458.1" cy="594.2" r="3.1"/><circle cx="459.2" cy="594.2" r="3.1"/><circle cx="460.6" cy="594.6" r="3.1"/><circle cx="461.8" cy="590.2" r="3.1"/><circle cx="463.3" cy="595.4" r="3.1"/><circle cx="464.4" cy="595.4" r="3.1"/><circle cx="466.1" cy="589.3" r="3.1"/><circle cx="467.3" cy="590.4" r="3.1"/><circle cx="468.3" cy="591.7" r="3.1"/><circle cx="469.6" cy="589.8" r="3.1"/><circle cx="471.0" cy="596.4" r="3.1"/><circle cx="472.1" cy="591.3" r="3.1"/><circle cx="473.7" cy="587.2" r="3.1"/><circle cx="475.0" cy="587.5" r="3.1"/><circle cx="476.2" cy="589.3" r="3.1"/><circle cx="477.5" cy="595.9" r="3.1"/><circle cx="479.0" cy="588.1" r="3.1"/><circle cx="480.4" cy="588.6" r="3.1"/><circle cx="481.7" cy="589.4" r="3.1"/><circle cx="482.8" cy="587.3" r="3.1"/><circle cx="484.2" cy="593.9" r="3.1"/><circle cx="485.3" cy="585.1" r="3.1"/><circle cx="486.8" cy="588.6" r="3.1"/><circle cx="487.9" cy="586.5" r="3.1"/><circle cx="489.4" cy="587.5" r="3.1"/><circle cx="490.4" cy="581.8" r="3.1"/><circle cx="491.8" cy="590.3" r="3.1"/><circle cx="493.2" cy="584.4" r="3.1"/><circle cx="494.6" cy="584.5" r="3.1"/><circle cx="495.6" cy="581.3" r="3.1"/><circle cx="497.0" cy="581.6" r="3.1"/><circle cx="498.4" cy="585.1" r="3.1"/><circle cx="499.7" cy="586.1" r="3.1"/><circle cx="500.9" cy="585.1" r="3.1"/><circle cx="502.3" cy="586.2" r="3.1"/><circle cx="503.6" cy="584.4" r="3.1"/><circle cx="505.1" cy="582.1" r="3.1"/><circle cx="506.3" cy="584.3" r="3.1"/><circle cx="507.3" cy="583.4" r="3.1"/><circle cx="508.5" cy="581.1" r="3.1"/><circle cx="510.1" cy="583.4" r="3.1"/><circle cx="511.6" cy="585.0" r="3.1"/><circle cx="512.7" cy="581.8" r="3.1"/><circle cx="514.1" cy="580.0" r="3.1"/><circle cx="515.2" cy="583.2" r="3.1"/><circle cx="516.4" cy="586.7" r="3.1"/><circle cx="518.0" cy="580.4" r="3.1"/><circle cx="519.2" cy="580.8" r="3.1"/><circle cx="520.6" cy="580.7" r="3.1"/><circle cx="521.6" cy="584.8" r="3.1"/><circle cx="523.1" cy="575.7" r="3.1"/><circle cx="524.3" cy="582.4" r="3.1"/><circle cx="525.8" cy="584.9" r="3.1"/><circle cx="526.9" cy="579.0" r="3.1"/><circle cx="528.2" cy="586.0" r="3.1"/><circle cx="529.5" cy="583.2" r="3.1"/><circle cx="531.1" cy="580.0" r="3.1"/><circle cx="532.2" cy="582.4" r="3.1"/><circle cx="533.4" cy="577.4" r="3.1"/><circle cx="534.6" cy="580.5" r="3.1"/><circle cx="535.9" cy="587.9" r="3.1"/><circle cx="537.6" cy="580.0" r="3.1"/><circle cx="538.4" cy="588.4" r="3.1"/><circle cx="539.9" cy="582.9" r="3.1"/><circle cx="541.4" cy="586.4" r="3.1"/><circle cx="542.8" cy="583.9" r="3.1"/><circle cx="543.9" cy="577.3" r="3.1"/><circle cx="545.3" cy="582.6" r="3.1"/><circle cx="546.6" cy="585.2" r="3.1"/><circle cx="547.9" cy="581.5" r="3.1"/><circle cx="549.1" cy="581.2" r="3.1"/><circle cx="550.6" cy="586.7" r="3.1"/><circle cx="551.7" cy="584.0" r="3.1"/><circle cx="553.2" cy="581.1" r="3.1"/><circle cx="554.1" cy="584.5" r="3.1"/><circle cx="555.7" cy="589.5" r="3.1"/><circle cx="556.7" cy="585.8" r="3.1"/><circle cx="558.0" cy="590.4" r="3.1"/><circle cx="559.6" cy="592.5" r="3.1"/><circle cx="560.7" cy="588.4" r="3.1"/><circle cx="562.2" cy="585.3" r="3.1"/><circle cx="563.2" cy="585.1" r="3.1"/><circle cx="564.9" cy="589.4" r="3.1"/><circle cx="566.0" cy="592.5" r="3.1"/><circle cx="567.1" cy="591.0" r="3.1"/><circle cx="568.6" cy="592.3" r="3.1"/><circle cx="570.0" cy="589.7" r="3.1"/><circle cx="571.1" cy="592.4" r="3.1"/><circle cx="572.6" cy="590.5" r="3.1"/><circle cx="574.1" cy="591.4" r="3.1"/><circle cx="575.2" cy="588.9" r="3.1"/><circle cx="576.4" cy="588.5" r="3.1"/><circle cx="577.6" cy="592.2" r="3.1"/><circle cx="579.1" cy="590.8" r="3.1"/><circle cx="580.1" cy="591.7" r="3.1"/><circle cx="581.2" cy="597.1" r="3.1"/><circle cx="582.8" cy="595.2" r="3.1"/><circle cx="584.0" cy="604.8" r="3.1"/><circle cx="585.8" cy="599.3" r="3.1"/><circle cx="586.8" cy="595.1" r="3.1"/><circle cx="588.0" cy="599.8" r="3.1"/><circle cx="589.2" cy="599.0" r="3.1"/><circle cx="590.8" cy="596.4" r="3.1"/><circle cx="591.9" cy="602.3" r="3.1"/><circle cx="593.2" cy="597.2" r="3.1"/><circle cx="594.6" cy="590.9" r="3.1"/><circle cx="595.9" cy="603.0" r="3.1"/><circle cx="597.2" cy="599.3" r="3.1"/><circle cx="598.5" cy="606.3" r="3.1"/><circle cx="600.0" cy="600.5" r="3.1"/><circle cx="601.4" cy="599.5" r="3.1"/><circle cx="602.2" cy="608.3" r="3.1"/><circle cx="604.1" cy="601.1" r="3.1"/><circle cx="605.0" cy="605.7" r="3.1"/><circle cx="606.5" cy="610.2" r="3.1"/><circle cx="607.5" cy="606.9" r="3.1"/><circle cx="609.0" cy="607.1" r="3.1"/><circle cx="610.2" cy="608.5" r="3.1"/><circle cx="611.5" cy="611.7" r="3.1"/><circle cx="612.9" cy="607.8" r="3.1"/><circle cx="614.2" cy="613.1" r="3.1"/><circle cx="615.3" cy="614.2" r="3.1"/><circle cx="616.7" cy="620.8" r="3.1"/><circle cx="618.1" cy="614.1" r="3.1"/><circle cx="619.4" cy="613.7" r="3.1"/><circle cx="620.6" cy="620.1" r="3.1"/><circle cx="621.9" cy="618.1" r="3.1"/><circle cx="623.2" cy="621.5" r="3.1"/><circle cx="624.3" cy="622.4" r="3.1"/><circle cx="625.6" cy="626.8" r="3.1"/><circle cx="627.3" cy="622.6" r="3.1"/><circle cx="628.4" cy="625.5" r="3.1"/><circle cx="629.7" cy="619.3" r="3.1"/><circle cx="630.9" cy="625.5" r="3.1"/><circle cx="632.5" cy="633.9" r="3.1"/><circle cx="633.9" cy="628.4" r="3.1"/><circle cx="634.9" cy="629.5" r="3.1"/><circle cx="636.3" cy="629.1" r="3.1"/><circle cx="637.4" cy="635.7" r="3.1"/><circle cx="639.1" cy="635.6" r="3.1"/><circle cx="640.3" cy="632.7" r="3.1"/><circle cx="641.3" cy="639.5" r="3.1"/><circle cx="642.9" cy="639.4" r="3.1"/><circle cx="644.1" cy="642.1" r="3.1"/><circle cx="645.4" cy="639.2" r="3.1"/><circle cx="646.7" cy="647.5" r="3.1"/><circle cx="647.8" cy="644.8" r="3.1"/><circle cx="649.1" cy="644.4" r="3.1"/><circle cx="650.6" cy="644.5" r="3.1"/><circle cx="651.8" cy="646.6" r="3.1"/><circle cx="653.0" cy="651.2" r="3.1"/><circle cx="654.7" cy="649.1" r="3.1"/><circle cx="655.7" cy="654.4" r="3.1"/><circle cx="656.9" cy="654.2" r="3.1"/><circle cx="658.2" cy="657.9" r="3.1"/><circle cx="659.7" cy="657.6" r="3.1"/><circle cx="661.1" cy="656.3" r="3.1"/><circle cx="662.2" cy="652.1" r="3.1"/><circle cx="663.6" cy="660.1" r="3.1"/><circle cx="664.6" cy="663.0" r="3.1"/><circle cx="666.1" cy="662.5" r="3.1"/><circle cx="667.3" cy="665.1" r="3.1"/><circle cx="668.7" cy="663.5" r="3.1"/><circle cx="670.1" cy="665.3" r="3.1"/><circle cx="671.0" cy="665.1" r="3.1"/><circle cx="673.1" cy="673.6" r="3.1"/><circle cx="673.8" cy="671.7" r="3.1"/><circle cx="675.3" cy="671.5" r="3.1"/><circle cx="676.6" cy="670.8" r="3.1"/><circle cx="677.9" cy="676.2" r="3.1"/><circle cx="679.1" cy="682.9" r="3.1"/><circle cx="680.0" cy="681.9" r="3.1"/><circle cx="681.5" cy="680.3" r="3.1"/><circle cx="683.1" cy="688.6" r="3.1"/><circle cx="684.2" cy="690.5" r="3.1"/><circle cx="685.4" cy="690.9" r="3.1"/><circle cx="686.6" cy="692.0" r="3.1"/><circle cx="688.4" cy="694.7" r="3.1"/><circle cx="689.6" cy="694.5" r="3.1"/><circle cx="690.7" cy="696.7" r="3.1"/><circle cx="692.1" cy="693.6" r="3.1"/><circle cx="693.4" cy="701.9" r="3.1"/><circle cx="694.5" cy="699.6" r="3.1"/><circle cx="696.0" cy="706.5" r="3.1"/><circle cx="697.3" cy="695.7" r="3.1"/><circle cx="698.7" cy="705.5" r="3.1"/><circle cx="700.1" cy="707.7" r="3.1"/><circle cx="701.2" cy="705.2" r="3.1"/><circle cx="702.4" cy="709.0" r="3.1"/><circle cx="703.9" cy="711.3" r="3.1"/><circle cx="705.0" cy="712.1" r="3.1"/><circle cx="706.2" cy="710.1" r="3.1"/><circle cx="707.9" cy="712.7" r="3.1"/><circle cx="708.9" cy="717.6" r="3.1"/><circle cx="710.3" cy="719.8" r="3.1"/><circle cx="711.7" cy="717.7" r="3.1"/><circle cx="712.7" cy="719.2" r="3.1"/><circle cx="714.3" cy="721.1" r="3.1"/><circle cx="715.6" cy="725.2" r="3.1"/><circle cx="716.8" cy="720.6" r="3.1"/><circle cx="718.2" cy="721.4" r="3.1"/><circle cx="719.3" cy="727.5" r="3.1"/><circle cx="720.4" cy="725.4" r="3.1"/><circle cx="722.0" cy="728.5" r="3.1"/><circle cx="723.2" cy="732.1" r="3.1"/><circle cx="724.7" cy="734.7" r="3.1"/><circle cx="725.9" cy="731.4" r="3.1"/><circle cx="727.1" cy="738.4" r="3.1"/><circle cx="728.5" cy="732.1" r="3.1"/><circle cx="730.0" cy="740.4" r="3.1"/><circle cx="731.3" cy="735.3" r="3.1"/><circle cx="732.5" cy="737.5" r="3.1"/><circle cx="733.8" cy="744.5" r="3.1"/><circle cx="735.0" cy="742.6" r="3.1"/><circle cx="736.3" cy="742.6" r="3.1"/><circle cx="737.7" cy="744.8" r="3.1"/><circle cx="738.9" cy="748.7" r="3.1"/><circle cx="740.2" cy="748.3" r="3.1"/><circle cx="741.3" cy="749.5" r="3.1"/><circle cx="742.6" cy="753.8" r="3.1"/><circle cx="743.8" cy="749.5" r="3.1"/><circle cx="745.3" cy="751.3" r="3.1"/><circle cx="746.9" cy="752.1" r="3.1"/><circle cx="748.2" cy="758.2" r="3.1"/><circle cx="749.2" cy="758.7" r="3.1"/><circle cx="750.4" cy="760.6" r="3.1"/><circle cx="752.0" cy="757.7" r="3.1"/><circle cx="753.3" cy="758.3" r="3.1"/><circle cx="754.3" cy="762.4" r="3.1"/><circle cx="756.0" cy="759.7" r="3.1"/><circle cx="757.1" cy="764.4" r="3.1"/><circle cx="758.6" cy="765.2" r="3.1"/><circle cx="759.8" cy="762.0" r="3.1"/><circle cx="761.1" cy="764.9" r="3.1"/><circle cx="762.4" cy="765.9" r="3.1"/><circle cx="763.5" cy="772.5" r="3.1"/><circle cx="764.9" cy="776.1" r="3.1"/><circle cx="766.1" cy="769.1" r="3.1"/><circle cx="767.6" cy="770.4" r="3.1"/><circle cx="768.7" cy="764.4" r="3.1"/><circle cx="769.9" cy="772.8" r="3.1"/><circle cx="771.5" cy="773.0" r="3.1"/><circle cx="772.9" cy="770.6" r="3.1"/><circle cx="774.2" cy="777.0" r="3.1"/><circle cx="775.5" cy="770.7" r="3.1"/><circle cx="776.4" cy="775.5" r="3.1"/><circle cx="777.8" cy="777.3" r="3.1"/><circle cx="779.1" cy="773.9" r="3.1"/><circle cx="780.5" cy="781.0" r="3.1"/><circle cx="781.5" cy="782.3" r="3.1"/><circle cx="783.1" cy="775.7" r="3.1"/><circle cx="784.4" cy="776.4" r="3.1"/><circle cx="785.6" cy="783.3" r="3.1"/><circle cx="787.0" cy="782.2" r="3.1"/><circle cx="788.5" cy="779.4" r="3.1"/><circle cx="789.6" cy="783.0" r="3.1"/><circle cx="791.1" cy="784.4" r="3.1"/><circle cx="792.4" cy="785.1" r="3.1"/><circle cx="793.6" cy="788.9" r="3.1"/><circle cx="794.9" cy="788.3" r="3.1"/><circle cx="796.0" cy="793.3" r="3.1"/><circle cx="797.6" cy="792.8" r="3.1"/><circle cx="798.6" cy="791.5" r="3.1"/><circle cx="799.9" cy="793.3" r="3.1"/><circle cx="801.4" cy="794.7" r="3.1"/><circle cx="802.5" cy="793.5" r="3.1"/><circle cx="804.0" cy="788.4" r="3.1"/><circle cx="805.4" cy="795.3" r="3.1"/><circle cx="806.5" cy="793.5" r="3.1"/><circle cx="807.8" cy="798.8" r="3.1"/><circle cx="809.2" cy="794.7" r="3.1"/><circle cx="810.5" cy="796.5" r="3.1"/><circle cx="811.5" cy="796.4" r="3.1"/><circle cx="812.8" cy="800.9" r="3.1"/><circle cx="814.5" cy="796.7" r="3.1"/><circle cx="815.7" cy="795.6" r="3.1"/><circle cx="816.6" cy="797.6" r="3.1"/><circle cx="818.0" cy="795.5" r="3.1"/><circle cx="819.5" cy="797.5" r="3.1"/><circle cx="820.7" cy="797.1" r="3.1"/><circle cx="822.2" cy="798.1" r="3.1"/><circle cx="823.4" cy="803.1" r="3.1"/><circle cx="824.8" cy="796.2" r="3.1"/><circle cx="825.8" cy="797.7" r="3.1"/><circle cx="827.4" cy="797.1" r="3.1"/><circle cx="828.9" cy="799.8" r="3.1"/><circle cx="829.8" cy="794.3" r="3.1"/><circle cx="831.4" cy="795.9" r="3.1"/><circle cx="832.7" cy="798.0" r="3.1"/><circle cx="833.9" cy="799.9" r="3.1"/><circle cx="835.1" cy="798.3" r="3.1"/><circle cx="836.2" cy="797.1" r="3.1"/><circle cx="837.6" cy="796.2" r="3.1"/><circle cx="839.1" cy="800.5" r="3.1"/><circle cx="840.5" cy="803.5" r="3.1"/><circle cx="841.8" cy="800.3" r="3.1"/><circle cx="843.0" cy="800.0" r="3.1"/><circle cx="844.3" cy="800.9" r="3.1"/><circle cx="845.4" cy="796.8" r="3.1"/><circle cx="846.6" cy="798.7" r="3.1"/><circle cx="848.1" cy="798.9" r="3.1"/><circle cx="849.5" cy="800.6" r="3.1"/><circle cx="850.7" cy="799.6" r="3.1"/><circle cx="851.8" cy="796.1" r="3.1"/><circle cx="853.2" cy="803.1" r="3.1"/><circle cx="854.4" cy="804.8" r="3.1"/><circle cx="855.9" cy="798.9" r="3.1"/><circle cx="857.0" cy="800.9" r="3.1"/><circle cx="858.5" cy="800.5" r="3.1"/><circle cx="859.9" cy="802.0" r="3.1"/><circle cx="861.1" cy="795.2" r="3.1"/><circle cx="862.6" cy="804.5" r="3.1"/><circle cx="863.5" cy="798.2" r="3.1"/><circle cx="864.7" cy="803.3" r="3.1"/><circle cx="866.4" cy="799.5" r="3.1"/><circle cx="867.8" cy="797.9" r="3.1"/><circle cx="869.1" cy="798.4" r="3.1"/><circle cx="870.2" cy="801.3" r="3.1"/><circle cx="871.6" cy="795.7" r="3.1"/><circle cx="872.8" cy="796.8" r="3.1"/><circle cx="873.9" cy="796.2" r="3.1"/><circle cx="875.3" cy="792.1" r="3.1"/><circle cx="876.8" cy="800.8" r="3.1"/><circle cx="877.9" cy="798.3" r="3.1"/><circle cx="879.6" cy="796.2" r="3.1"/><circle cx="880.4" cy="799.4" r="3.1"/><circle cx="881.8" cy="792.7" r="3.1"/><circle cx="883.4" cy="795.0" r="3.1"/><circle cx="884.4" cy="800.0" r="3.1"/><circle cx="885.6" cy="797.3" r="3.1"/><circle cx="886.9" cy="787.3" r="3.1"/><circle cx="888.3" cy="783.6" r="3.1"/><circle cx="889.9" cy="790.1" r="3.1"/><circle cx="891.1" cy="796.0" r="3.1"/><circle cx="892.4" cy="791.0" r="3.1"/><circle cx="893.5" cy="791.3" r="3.1"/><circle cx="895.0" cy="793.4" r="3.1"/><circle cx="896.2" cy="788.6" r="3.1"/><circle cx="897.4" cy="791.5" r="3.1"/><circle cx="898.7" cy="792.8" r="3.1"/><circle cx="900.1" cy="791.5" r="3.1"/><circle cx="901.6" cy="790.9" r="3.1"/><circle cx="902.7" cy="787.5" r="3.1"/><circle cx="904.1" cy="790.5" r="3.1"/><circle cx="905.6" cy="787.2" r="3.1"/><circle cx="906.5" cy="792.0" r="3.1"/><circle cx="907.7" cy="795.4" r="3.1"/><circle cx="909.4" cy="785.0" r="3.1"/><circle cx="910.6" cy="780.2" r="3.1"/><circle cx="911.8" cy="785.0" r="3.1"/><circle cx="913.1" cy="786.9" r="3.1"/><circle cx="914.4" cy="788.4" r="3.1"/><circle cx="915.8" cy="788.0" r="3.1"/><circle cx="917.0" cy="781.9" r="3.1"/><circle cx="918.4" cy="781.4" r="3.1"/><circle cx="919.4" cy="787.0" r="3.1"/><circle cx="920.8" cy="779.4" r="3.1"/><circle cx="922.2" cy="785.3" r="3.1"/><circle cx="923.4" cy="780.8" r="3.1"/><circle cx="924.9" cy="783.2" r="3.1"/><circle cx="926.1" cy="782.4" r="3.1"/><circle cx="927.3" cy="782.0" r="3.1"/><circle cx="928.7" cy="781.6" r="3.1"/><circle cx="929.9" cy="775.5" r="3.1"/></g>
<path d="M156.5,606.5 L157.3,606.0 L158.2,605.4 L159.0,604.9 L159.9,604.4 L160.7,603.8 L161.6,603.3 L162.4,602.8 L163.3,602.2 L164.1,601.7 L165.0,601.2 L165.8,600.6 L166.7,600.1 L167.5,599.6 L168.3,599.0 L169.2,598.5 L170.0,598.0 L170.9,597.4 L171.7,596.9 L172.6,596.3 L173.4,595.8 L174.2,595.3 L175.1,594.7 L175.9,594.2 L176.8,593.6 L177.6,593.1 L178.4,592.5 L179.3,592.0 L180.1,591.5 L181.0,590.9 L181.8,590.4 L182.6,589.8 L183.5,589.3 L184.3,588.8 L185.2,588.2 L186.0,587.7 L186.9,587.2 L187.7,586.7 L188.6,586.2 L189.4,585.6 L190.3,585.1 L191.2,584.6 L192.0,584.1 L192.9,583.6 L193.7,583.1 L194.6,582.6 L195.5,582.1 L196.3,581.6 L197.2,581.1 L198.1,580.6 L199.0,580.1 L199.8,579.6 L200.7,579.2 L201.6,578.7 L202.5,578.3 L203.4,577.8 L204.3,577.4 L205.2,576.9 L206.1,576.5 L207.0,576.1 L207.9,575.7 L208.8,575.3 L209.7,574.9 L210.6,574.4 L211.6,574.1 L212.5,573.7 L213.4,573.3 L214.3,572.9 L215.3,572.6 L216.2,572.2 L217.2,571.9 L218.1,571.6 L219.1,571.3 L220.0,571.1 L221.0,570.8 L222.0,570.6 L223.0,570.4 L223.9,570.3 L224.9,570.1 L225.9,570.0 L226.9,569.8 L227.9,569.8 L228.9,569.7 L229.9,569.6 L230.9,569.6 L231.9,569.6 L232.9,569.6 L233.9,569.6 L234.9,569.6 L235.9,569.6 L236.9,569.7 L237.8,569.8 L238.8,570.0 L239.8,570.1 L240.8,570.3 L241.7,570.6 L242.7,570.9 L243.6,571.2 L244.6,571.5 L245.5,571.9 L246.4,572.2 L247.3,572.6 L248.2,573.1 L249.1,573.5 L250.0,574.0 L250.9,574.5 L251.7,575.0 L252.6,575.5 L253.4,576.0 L254.2,576.6 L255.1,577.2 L255.9,577.7 L256.7,578.3 L257.5,578.9 L258.3,579.5 L259.1,580.1 L259.9,580.8 L260.6,581.4 L261.4,582.0 L262.2,582.7 L262.9,583.3 L263.7,584.0 L264.4,584.6 L265.2,585.3 L265.9,586.0 L266.6,586.7 L267.3,587.4 L268.0,588.2 L268.6,588.9 L269.3,589.7 L269.9,590.4 L270.5,591.2 L271.1,592.0 L271.6,592.9 L272.2,593.7 L272.8,594.5 L273.3,595.4 L273.8,596.2 L274.3,597.1 L274.9,597.9 L275.4,598.8 L275.9,599.6 L276.4,600.5 L276.8,601.4 L277.3,602.3 L277.8,603.1 L278.3,604.0 L278.8,604.9 L279.3,605.8 L279.7,606.6 L280.2,607.5 L280.7,608.4 L281.1,609.3 L281.6,610.2 L282.1,611.1 L282.5,612.0 L283.0,612.9 L283.4,613.7 L283.8,614.6 L284.3,615.5 L284.7,616.4 L285.2,617.3 L285.6,618.3 L286.0,619.2 L286.4,620.1 L286.9,621.0 L287.3,621.9 L287.7,622.8 L288.1,623.7 L288.5,624.6 L289.0,625.5 L289.4,626.4 L289.8,627.3 L290.2,628.2 L290.6,629.1 L291.0,630.1 L291.4,631.0 L291.8,631.9 L292.2,632.8 L292.7,633.7 L293.1,634.6 L293.5,635.5 L293.9,636.5 L294.3,637.4 L294.7,638.3 L295.1,639.2 L295.5,640.1 L295.9,641.0 L296.3,641.9 L296.7,642.9 L297.1,643.8 L297.5,644.7 L297.9,645.6 L298.3,646.5 L298.7,647.4 L299.1,648.4 L299.5,649.3 L299.9,650.2 L300.3,651.1 L300.7,652.0 L301.1,652.9 L301.5,653.9 L301.9,654.8 L302.3,655.7 L302.7,656.6 L303.1,657.5 L303.4,658.5 L303.8,659.4 L304.2,660.3 L304.5,661.3 L304.9,662.2 L305.2,663.1 L305.6,664.1 L305.9,665.0 L306.3,665.9 L306.6,666.9 L306.9,667.8 L307.2,668.8 L307.6,669.7 L307.9,670.7 L308.2,671.6 L308.5,672.6 L308.8,673.5 L309.2,674.5 L309.5,675.4 L309.8,676.4 L310.1,677.3 L310.4,678.3 L310.8,679.2 L311.1,680.1 L311.4,681.1 L311.8,682.0 L312.1,683.0 L312.5,683.9 L312.8,684.8 L313.2,685.8 L313.5,686.7 L313.9,687.7 L314.2,688.6 L314.6,689.5 L314.9,690.5 L315.3,691.4 L315.7,692.3 L316.0,693.3 L316.4,694.2 L316.7,695.1 L317.1,696.1 L317.5,697.0 L317.8,697.9 L318.2,698.9 L318.5,699.8 L318.9,700.7 L319.2,701.7 L319.6,702.6 L320.0,703.5 L320.3,704.5 L320.7,705.4 L321.0,706.3 L321.4,707.3 L321.7,708.2 L322.1,709.1 L322.5,710.1 L322.8,711.0 L323.2,711.9 L323.5,712.9 L323.9,713.8 L324.2,714.7 L324.6,715.7 L324.9,716.6 L325.3,717.5 L325.6,718.5 L326.0,719.4 L326.3,720.4 L326.7,721.3 L327.0,722.2 L327.3,723.2 L327.7,724.1 L328.0,725.1 L328.4,726.0 L328.7,726.9 L329.0,727.9 L329.4,728.8 L329.7,729.8 L330.0,730.7 L330.4,731.6 L330.7,732.6 L331.0,733.5 L331.4,734.5 L331.7,735.4 L332.0,736.4 L332.3,737.3 L332.7,738.3 L333.0,739.2 L333.3,740.2 L333.6,741.1 L333.9,742.1 L334.2,743.0 L334.5,744.0 L334.9,744.9 L335.2,745.9 L335.5,746.8 L335.8,747.8 L336.1,748.7 L336.5,749.6 L336.8,750.6 L337.1,751.5 L337.5,752.5 L337.9,753.4 L338.2,754.3 L338.6,755.3 L339.0,756.2 L339.4,757.1 L339.8,758.0 L340.2,758.9 L340.6,759.8 L341.0,760.7 L341.5,761.6 L341.9,762.5 L342.3,763.4 L342.8,764.3 L343.2,765.2 L343.7,766.1 L344.1,767.0 L344.6,767.9 L345.0,768.8 L345.5,769.7 L345.9,770.6 L346.3,771.5 L346.8,772.4 L347.2,773.3 L347.6,774.2 L348.0,775.1 L348.4,776.0 L348.8,776.9 L349.3,777.9 L349.7,778.8 L350.1,779.7 L350.5,780.6 L350.9,781.5 L351.3,782.4 L351.7,783.3 L352.1,784.2 L352.5,785.1 L353.0,786.1 L353.4,787.0 L353.8,787.9 L354.3,788.8 L354.7,789.6 L355.2,790.5 L355.7,791.4 L356.1,792.3 L356.6,793.2 L357.1,794.0 L357.6,794.9 L358.1,795.8 L358.6,796.6 L359.2,797.5 L359.7,798.3 L360.2,799.2 L360.8,800.0 L361.3,800.8 L361.9,801.7 L362.4,802.5 L363.0,803.3 L363.6,804.1 L364.2,804.9 L364.7,805.8 L365.3,806.6 L366.0,807.3 L366.6,808.1 L367.2,808.9 L367.8,809.7 L368.5,810.5 L369.1,811.2 L369.8,812.0 L370.4,812.7 L371.1,813.4 L371.8,814.2 L372.5,814.9 L373.2,815.6 L373.9,816.3 L374.6,817.0 L375.3,817.7 L376.1,818.4 L376.8,819.1 L377.5,819.7 L378.3,820.4 L379.1,821.0 L379.8,821.7 L380.6,822.3 L381.4,822.8 L382.3,823.4 L383.1,823.9 L383.9,824.5 L384.8,825.0 L385.7,825.4 L386.6,825.9 L387.5,826.3 L388.4,826.7 L389.3,827.1 L390.2,827.5 L391.2,827.8 L392.1,828.1 L393.1,828.4 L394.0,828.7 L395.0,828.9 L395.9,829.1 L396.9,829.2 L397.9,829.3 L398.9,829.4 L399.9,829.4 L400.9,829.3 L401.8,829.2 L402.8,829.1 L403.8,828.9 L404.7,828.7 L405.6,828.4 L406.5,828.0 L407.4,827.6 L408.3,827.1 L409.1,826.6 L409.9,826.1 L410.8,825.5 L411.6,824.9 L412.4,824.3 L413.2,823.7 L414.0,823.1 L414.8,822.6 L415.6,822.0 L416.4,821.4 L417.2,820.8 L418.1,820.2 L418.9,819.7 L419.7,819.1 L420.5,818.5 L421.3,818.0 L422.2,817.4 L423.0,816.8 L423.8,816.2 L424.6,815.6 L425.4,815.0 L426.2,814.4 L427.0,813.8 L427.8,813.2 L428.6,812.6 L429.3,812.0 L430.1,811.3 L430.9,810.7 L431.6,810.1 L432.4,809.4 L433.2,808.7 L433.9,808.1 L434.7,807.4 L435.4,806.7 L436.1,806.1 L436.9,805.4 L437.6,804.7 L438.3,804.0 L439.1,803.4 L439.8,802.7 L440.5,802.0 L441.3,801.3 L442.0,800.6 L442.7,800.0 L443.5,799.3 L444.2,798.6 L445.0,798.0 L445.7,797.3 L446.5,796.7 L447.3,796.0 L448.0,795.4 L448.8,794.8 L449.6,794.1 L450.4,793.5 L451.2,792.9 L451.9,792.3 L452.7,791.7 L453.5,791.0 L454.3,790.4 L455.1,789.8 L455.9,789.2 L456.6,788.5 L457.4,787.9 L458.2,787.2 L458.9,786.6 L459.7,785.9 L460.4,785.3 L461.1,784.6 L461.9,783.9 L462.6,783.2 L463.3,782.5 L464.0,781.8 L464.7,781.1 L465.4,780.3 L466.0,779.6 L466.7,778.9 L467.4,778.1 L468.1,777.4 L468.8,776.7 L469.4,775.9 L470.1,775.2 L470.8,774.5 L471.5,773.7 L472.2,773.0 L472.9,772.3 L473.6,771.6 L474.3,770.9 L475.0,770.2 L475.7,769.5 L476.4,768.8 L477.2,768.1 L477.9,767.4 L478.7,766.8 L479.4,766.1 L480.1,765.4 L480.9,764.8 L481.7,764.1 L482.4,763.5 L483.2,762.8 L484.0,762.2 L484.7,761.6 L485.5,761.0 L486.3,760.4 L487.1,759.8 L487.9,759.2 L488.7,758.6 L489.6,758.0 L490.4,757.5 L491.2,756.9 L492.1,756.4 L492.9,755.8 L493.8,755.3 L494.6,754.8 L495.5,754.3 L496.3,753.8 L497.2,753.3 L498.1,752.8 L498.9,752.3 L499.8,751.8 L500.7,751.3 L501.5,750.8 L502.4,750.3 L503.3,749.8 L504.1,749.3 L505.0,748.7 L505.8,748.2 L506.7,747.7 L507.5,747.2 L508.4,746.6 L509.2,746.1 L510.0,745.5 L510.9,745.0 L511.7,744.4 L512.6,743.9 L513.4,743.3 L514.2,742.8 L515.1,742.2 L515.9,741.7 L516.7,741.1 L517.6,740.6 L518.4,740.0 L519.2,739.5 L520.1,739.0 L520.9,738.4 L521.8,737.9 L522.6,737.4 L523.5,736.8 L524.3,736.3 L525.2,735.8 L526.0,735.3 L526.9,734.8 L527.7,734.2 L528.6,733.7 L529.5,733.2 L530.3,732.7 L531.2,732.2 L532.1,731.7 L532.9,731.2 L533.8,730.7 L534.7,730.2 L535.5,729.7 L536.4,729.3 L537.3,728.8 L538.2,728.3 L539.1,727.8 L539.9,727.4 L540.8,726.9 L541.7,726.5 L542.6,726.0 L543.5,725.6 L544.4,725.1 L545.3,724.7 L546.2,724.2 L547.1,723.8 L548.0,723.4 L548.9,722.9 L549.8,722.5 L550.7,722.1 L551.6,721.7 L552.5,721.3 L553.5,720.9 L554.4,720.5 L555.3,720.1 L556.2,719.7 L557.1,719.3 L558.1,718.9 L559.0,718.6 L559.9,718.2 L560.9,717.8 L561.8,717.5 L562.7,717.1 L563.7,716.8 L564.6,716.4 L565.5,716.1 L566.5,715.8 L567.4,715.4 L568.4,715.1 L569.3,714.8 L570.3,714.4 L571.2,714.1 L572.2,713.8 L573.1,713.5 L574.1,713.2 L575.0,712.9 L576.0,712.7 L576.9,712.4 L577.9,712.1 L578.9,711.8 L579.8,711.6 L580.8,711.3 L581.8,711.1 L582.7,710.9 L583.7,710.6 L584.7,710.4 L585.7,710.2 L586.6,710.0 L587.6,709.8 L588.6,709.6 L589.6,709.4 L590.6,709.2 L591.5,709.0 L592.5,708.8 L593.5,708.6 L594.5,708.4 L595.5,708.2 L596.5,708.0 L597.4,707.9 L598.4,707.7 L599.4,707.5 L600.4,707.3 L601.4,707.1 L602.4,706.9 L603.3,706.8 L604.3,706.6 L605.3,706.4 L606.3,706.2 L607.3,706.0 L608.3,705.8 L609.2,705.6 L610.2,705.4 L611.2,705.2 L612.2,705.1 L613.2,704.9 L614.1,704.7 L615.1,704.5 L616.1,704.2 L617.1,704.0 L618.1,703.8 L619.0,703.6 L620.0,703.4 L621.0,703.2 L622.0,703.0 L622.9,702.8 L623.9,702.6 L624.9,702.4 L625.9,702.2 L626.9,702.0 L627.8,701.8 L628.8,701.6 L629.8,701.4 L630.8,701.2 L631.8,701.0 L632.7,700.8 L633.7,700.7 L634.7,700.5 L635.7,700.3 L636.7,700.1 L637.7,699.9 L638.6,699.7 L639.6,699.6 L640.6,699.4 L641.6,699.2 L642.6,699.1 L643.6,698.9 L644.6,698.7 L645.5,698.5 L646.5,698.4 L647.5,698.2 L648.5,698.0 L649.5,697.8 L650.5,697.7 L651.5,697.5 L652.4,697.3 L653.4,697.2 L654.4,697.0 L655.4,696.9 L656.4,696.7 L657.4,696.6 L658.4,696.4 L659.4,696.3 L660.3,696.1 L661.3,696.0 L662.3,695.9 L663.3,695.7 L664.3,695.6 L665.3,695.5 L666.3,695.4 L667.3,695.3 L668.3,695.2 L669.3,695.1 L670.3,695.0 L671.3,694.9 L672.3,694.8 L673.3,694.8 L674.3,694.7 L675.3,694.6 L676.3,694.5 L677.3,694.5 L678.3,694.4 L679.3,694.3 L680.3,694.3 L681.2,694.2 L682.2,694.2 L683.2,694.1 L684.2,694.0 L685.2,694.0 L686.2,693.9 L687.2,693.9 L688.2,693.8 L689.2,693.7 L690.2,693.7 L691.2,693.6 L692.2,693.6 L693.2,693.5 L694.2,693.5 L695.2,693.4 L696.2,693.4 L697.2,693.3 L698.2,693.3 L699.2,693.3 L700.2,693.2 L701.2,693.2 L702.2,693.1 L703.2,693.1 L704.2,693.0 L705.2,693.0 L706.2,693.0 L707.2,692.9 L708.2,692.9 L709.2,692.8 L710.2,692.8 L711.2,692.7 L712.2,692.7 L713.2,692.7 L714.2,692.6 L715.2,692.6 L716.2,692.6 L717.2,692.5 L718.2,692.5 L719.2,692.4 L720.2,692.4 L721.2,692.4 L722.2,692.3 L723.2,692.3 L724.2,692.2 L725.2,692.2 L726.2,692.2 L727.2,692.1 L728.2,692.1 L729.2,692.0 L730.2,692.0 L731.2,691.9 L732.2,691.9 L733.2,691.9 L734.2,691.8 L735.2,691.8 L736.2,691.7 L737.2,691.7 L738.2,691.7 L739.2,691.6 L740.2,691.6 L741.2,691.5 L742.2,691.5 L743.2,691.4 L744.2,691.4 L745.2,691.4 L746.2,691.3 L747.2,691.3 L748.2,691.2 L749.2,691.2 L750.2,691.2 L751.2,691.1 L752.2,691.1 L753.2,691.0 L754.2,691.0 L755.2,691.0 L756.2,690.9 L757.2,690.9 L758.2,690.8 L759.2,690.8 L760.2,690.8 L761.2,690.7 L762.2,690.7 L763.2,690.6 L764.2,690.6 L765.2,690.6 L766.2,690.5 L767.2,690.5 L768.2,690.5 L769.2,690.4 L770.2,690.4 L771.2,690.4 L772.2,690.3 L773.2,690.3 L774.2,690.3 L775.2,690.2 L776.2,690.2 L777.2,690.1 L778.2,690.1 L779.2,690.1 L780.2,690.0 L781.2,690.0 L782.2,690.0 L783.2,690.0 L784.2,689.9 L785.2,689.9 L786.2,689.9 L787.2,689.8 L788.2,689.8 L789.2,689.8 L790.2,689.7 L791.2,689.7 L792.2,689.7 L793.2,689.7 L794.2,689.6 L795.2,689.6 L796.2,689.6 L797.2,689.6 L798.2,689.5 L799.2,689.5 L800.2,689.5 L801.2,689.5 L802.2,689.5 L803.2,689.4 L804.1,689.4 L805.1,689.4 L806.1,689.4 L807.1,689.3 L808.1,689.3 L809.1,689.3 L810.1,689.3 L811.1,689.3 L812.1,689.2 L813.1,689.2 L814.1,689.2 L815.1,689.2 L816.1,689.1 L817.1,689.1 L818.1,689.1 L819.1,689.1 L820.1,689.1 L821.1,689.0 L822.1,689.0 L823.1,689.0 L824.1,689.0 L825.1,688.9 L826.1,688.9 L827.1,688.9 L828.1,688.9 L829.1,688.9 L830.1,688.8 L831.1,688.8 L832.1,688.8 L833.1,688.8 L834.1,688.8 L835.1,688.7 L836.1,688.7 L837.1,688.7 L838.1,688.7 L839.1,688.7 L840.1,688.6 L841.1,688.6 L842.1,688.6 L843.1,688.6 L844.1,688.6 L845.1,688.5 L846.1,688.5 L847.1,688.5 L848.1,688.5 L849.1,688.5 L850.1,688.4 L851.1,688.4 L852.1,688.4 L853.1,688.4 L854.1,688.4 L855.1,688.3 L856.1,688.3 L857.1,688.3 L858.1,688.3 L859.1,688.3 L860.1,688.3 L861.1,688.2 L862.1,688.2 L863.1,688.2 L864.1,688.2 L865.1,688.2 L866.1,688.2 L867.1,688.1 L868.1,688.1 L869.1,688.1 L870.1,688.1 L871.1,688.1 L872.1,688.1 L873.1,688.0 L874.1,688.0 L875.1,688.0 L876.1,688.0 L877.1,688.0 L878.1,688.0 L879.1,688.0 L880.1,687.9 L881.1,687.9 L882.1,687.9 L883.1,687.9 L884.1,687.9 L885.1,687.9 L886.1,687.9 L887.1,687.8 L888.1,687.8 L889.1,687.8 L890.1,687.8 L891.1,687.8 L892.1,687.8 L893.1,687.8 L894.1,687.8 L895.1,687.7 L896.1,687.7 L897.1,687.7 L898.1,687.7 L899.1,687.7 L900.1,687.7 L901.1,687.7 L902.1,687.7 L903.1,687.7 L904.1,687.7 L905.1,687.6 L906.1,687.6 L907.1,687.6 L908.1,687.6 L909.1,687.6 L910.1,687.6 L911.1,687.6 L912.1,687.6 L913.1,687.6 L914.1,687.6 L915.1,687.6 L916.1,687.6 L917.1,687.6 L918.1,687.6 L919.1,687.5 L920.1,687.5 L921.1,687.5 L922.1,687.5 L923.1,687.5 L924.1,687.5 L925.1,687.5 L926.1,687.5 L927.1,687.5 L928.1,687.5 L929.1,687.5 L930.1,687.5" fill="none" stroke="#0000ff" stroke-width="4.4" stroke-linejoin="round" stroke-linecap="round" stroke-dasharray="13.5 22" />
<g fill="#fff" stroke="#000" stroke-width="0.85"><circle cx="156.9" cy="986.5" r="3.1"/><circle cx="158.2" cy="987.9" r="3.1"/><circle cx="159.5" cy="993.3" r="3.1"/><circle cx="161.1" cy="990.2" r="3.1"/><circle cx="162.5" cy="983.3" r="3.1"/><circle cx="163.9" cy="988.1" r="3.1"/><circle cx="165.5" cy="986.1" r="3.1"/><circle cx="167.0" cy="988.4" r="3.1"/><circle cx="168.4" cy="983.0" r="3.1"/><circle cx="170.2" cy="988.4" r="3.1"/><circle cx="171.4" cy="988.3" r="3.1"/><circle cx="172.9" cy="992.2" r="3.1"/><circle cx="174.6" cy="988.4" r="3.1"/><circle cx="175.9" cy="988.8" r="3.1"/><circle cx="177.3" cy="982.7" r="3.1"/><circle cx="178.9" cy="993.8" r="3.1"/><circle cx="180.6" cy="981.2" r="3.1"/><circle cx="182.1" cy="990.1" r="3.1"/><circle cx="183.5" cy="985.7" r="3.1"/><circle cx="184.9" cy="983.9" r="3.1"/><circle cx="186.4" cy="984.5" r="3.1"/><circle cx="188.1" cy="984.3" r="3.1"/><circle cx="189.3" cy="987.3" r="3.1"/><circle cx="191.0" cy="985.7" r="3.1"/><circle cx="192.3" cy="990.3" r="3.1"/><circle cx="193.9" cy="980.2" r="3.1"/><circle cx="195.5" cy="985.5" r="3.1"/><circle cx="197.2" cy="982.7" r="3.1"/><circle cx="198.1" cy="987.5" r="3.1"/><circle cx="200.2" cy="978.7" r="3.1"/><circle cx="201.4" cy="983.9" r="3.1"/><circle cx="203.0" cy="985.4" r="3.1"/><circle cx="204.6" cy="980.1" r="3.1"/><circle cx="205.9" cy="987.4" r="3.1"/><circle cx="207.5" cy="984.8" r="3.1"/><circle cx="209.1" cy="987.1" r="3.1"/><circle cx="210.5" cy="986.8" r="3.1"/><circle cx="211.9" cy="980.9" r="3.1"/><circle cx="213.5" cy="981.3" r="3.1"/><circle cx="215.0" cy="982.9" r="3.1"/><circle cx="216.3" cy="985.6" r="3.1"/><circle cx="218.2" cy="985.8" r="3.1"/><circle cx="219.5" cy="980.9" r="3.1"/><circle cx="220.6" cy="981.1" r="3.1"/><circle cx="222.4" cy="980.4" r="3.1"/><circle cx="224.3" cy="980.8" r="3.1"/><circle cx="225.7" cy="981.7" r="3.1"/><circle cx="227.0" cy="981.9" r="3.1"/><circle cx="228.3" cy="988.3" r="3.1"/><circle cx="230.0" cy="980.5" r="3.1"/><circle cx="231.7" cy="981.0" r="3.1"/><circle cx="233.1" cy="983.1" r="3.1"/><circle cx="234.5" cy="978.7" r="3.1"/><circle cx="235.9" cy="980.3" r="3.1"/><circle cx="237.6" cy="981.3" r="3.1"/><circle cx="239.0" cy="983.4" r="3.1"/><circle cx="240.6" cy="977.0" r="3.1"/><circle cx="242.1" cy="984.9" r="3.1"/><circle cx="243.8" cy="979.6" r="3.1"/><circle cx="245.0" cy="981.0" r="3.1"/><circle cx="246.5" cy="982.9" r="3.1"/><circle cx="247.7" cy="982.2" r="3.1"/><circle cx="249.7" cy="983.2" r="3.1"/><circle cx="251.1" cy="980.4" r="3.1"/><circle cx="252.5" cy="979.7" r="3.1"/><circle cx="253.7" cy="980.5" r="3.1"/><circle cx="255.4" cy="976.5" r="3.1"/><circle cx="257.0" cy="982.9" r="3.1"/><circle cx="258.8" cy="976.8" r="3.1"/><circle cx="260.1" cy="975.2" r="3.1"/><circle cx="261.6" cy="985.0" r="3.1"/><circle cx="263.1" cy="978.3" r="3.1"/><circle cx="264.7" cy="975.0" r="3.1"/><circle cx="265.8" cy="984.0" r="3.1"/><circle cx="267.4" cy="977.3" r="3.1"/><circle cx="268.8" cy="981.3" r="3.1"/><circle cx="270.5" cy="975.5" r="3.1"/><circle cx="272.0" cy="977.1" r="3.1"/><circle cx="273.5" cy="972.6" r="3.1"/><circle cx="274.9" cy="971.8" r="3.1"/><circle cx="276.5" cy="974.5" r="3.1"/><circle cx="277.9" cy="977.0" r="3.1"/><circle cx="279.8" cy="979.5" r="3.1"/><circle cx="280.9" cy="984.3" r="3.1"/><circle cx="282.9" cy="973.8" r="3.1"/><circle cx="284.3" cy="979.7" r="3.1"/><circle cx="285.3" cy="974.8" r="3.1"/><circle cx="287.1" cy="976.0" r="3.1"/><circle cx="288.6" cy="971.8" r="3.1"/><circle cx="289.8" cy="971.7" r="3.1"/><circle cx="291.6" cy="973.7" r="3.1"/><circle cx="293.0" cy="972.2" r="3.1"/><circle cx="294.6" cy="975.7" r="3.1"/><circle cx="295.9" cy="973.4" r="3.1"/><circle cx="297.5" cy="979.1" r="3.1"/><circle cx="299.1" cy="975.6" r="3.1"/><circle cx="300.5" cy="975.4" r="3.1"/><circle cx="301.9" cy="978.1" r="3.1"/><circle cx="303.5" cy="976.0" r="3.1"/><circle cx="304.9" cy="974.1" r="3.1"/><circle cx="306.6" cy="973.7" r="3.1"/><circle cx="307.6" cy="973.3" r="3.1"/><circle cx="309.7" cy="976.6" r="3.1"/><circle cx="311.0" cy="975.4" r="3.1"/><circle cx="312.6" cy="973.9" r="3.1"/><circle cx="314.1" cy="974.9" r="3.1"/><circle cx="315.3" cy="970.5" r="3.1"/><circle cx="317.3" cy="973.3" r="3.1"/><circle cx="318.3" cy="967.2" r="3.1"/><circle cx="320.1" cy="975.2" r="3.1"/><circle cx="321.6" cy="971.1" r="3.1"/><circle cx="323.2" cy="971.0" r="3.1"/><circle cx="324.5" cy="972.0" r="3.1"/><circle cx="325.8" cy="969.8" r="3.1"/><circle cx="327.6" cy="968.8" r="3.1"/><circle cx="328.6" cy="972.8" r="3.1"/><circle cx="330.5" cy="969.3" r="3.1"/><circle cx="331.9" cy="965.9" r="3.1"/><circle cx="333.7" cy="969.6" r="3.1"/><circle cx="335.0" cy="962.9" r="3.1"/><circle cx="336.4" cy="972.7" r="3.1"/><circle cx="337.9" cy="966.9" r="3.1"/><circle cx="339.4" cy="967.2" r="3.1"/><circle cx="340.9" cy="973.6" r="3.1"/><circle cx="342.6" cy="973.0" r="3.1"/><circle cx="343.8" cy="966.5" r="3.1"/><circle cx="345.5" cy="967.8" r="3.1"/><circle cx="346.8" cy="968.9" r="3.1"/><circle cx="348.5" cy="970.3" r="3.1"/><circle cx="350.0" cy="964.6" r="3.1"/><circle cx="351.3" cy="965.1" r="3.1"/><circle cx="352.9" cy="968.1" r="3.1"/><circle cx="354.5" cy="964.9" r="3.1"/><circle cx="356.1" cy="966.1" r="3.1"/><circle cx="357.6" cy="965.3" r="3.1"/><circle cx="359.0" cy="959.8" r="3.1"/><circle cx="360.4" cy="960.3" r="3.1"/><circle cx="361.8" cy="954.7" r="3.1"/><circle cx="363.6" cy="961.5" r="3.1"/><circle cx="365.2" cy="966.0" r="3.1"/><circle cx="366.6" cy="958.4" r="3.1"/><circle cx="368.2" cy="965.1" r="3.1"/><circle cx="369.4" cy="964.1" r="3.1"/><circle cx="370.9" cy="960.6" r="3.1"/><circle cx="372.7" cy="960.5" r="3.1"/><circle cx="373.8" cy="960.4" r="3.1"/><circle cx="375.6" cy="957.3" r="3.1"/><circle cx="377.1" cy="958.8" r="3.1"/><circle cx="378.5" cy="959.2" r="3.1"/><circle cx="380.3" cy="960.8" r="3.1"/><circle cx="381.4" cy="961.1" r="3.1"/><circle cx="382.9" cy="956.2" r="3.1"/><circle cx="384.2" cy="960.6" r="3.1"/><circle cx="385.8" cy="955.5" r="3.1"/><circle cx="387.4" cy="957.0" r="3.1"/><circle cx="388.9" cy="958.3" r="3.1"/><circle cx="390.5" cy="956.8" r="3.1"/><circle cx="392.0" cy="956.2" r="3.1"/><circle cx="393.4" cy="957.1" r="3.1"/><circle cx="394.7" cy="954.4" r="3.1"/><circle cx="396.5" cy="953.8" r="3.1"/><circle cx="398.1" cy="954.8" r="3.1"/><circle cx="399.3" cy="958.0" r="3.1"/><circle cx="400.9" cy="954.6" r="3.1"/><circle cx="402.8" cy="960.3" r="3.1"/><circle cx="404.2" cy="954.9" r="3.1"/><circle cx="405.7" cy="945.1" r="3.1"/><circle cx="407.1" cy="952.4" r="3.1"/><circle cx="408.5" cy="958.4" r="3.1"/><circle cx="409.9" cy="953.1" r="3.1"/><circle cx="411.6" cy="951.5" r="3.1"/><circle cx="413.0" cy="949.9" r="3.1"/><circle cx="414.4" cy="956.1" r="3.1"/><circle cx="416.0" cy="954.9" r="3.1"/><circle cx="417.5" cy="953.6" r="3.1"/><circle cx="419.1" cy="952.5" r="3.1"/><circle cx="420.4" cy="955.2" r="3.1"/><circle cx="422.4" cy="953.0" r="3.1"/><circle cx="423.3" cy="946.5" r="3.1"/><circle cx="424.9" cy="952.2" r="3.1"/><circle cx="426.6" cy="950.1" r="3.1"/><circle cx="427.9" cy="948.9" r="3.1"/><circle cx="429.4" cy="951.2" r="3.1"/><circle cx="431.0" cy="948.7" r="3.1"/><circle cx="432.1" cy="939.4" r="3.1"/><circle cx="433.9" cy="952.6" r="3.1"/><circle cx="435.4" cy="950.7" r="3.1"/><circle cx="437.0" cy="946.8" r="3.1"/><circle cx="438.6" cy="945.7" r="3.1"/><circle cx="440.1" cy="947.1" r="3.1"/><circle cx="441.7" cy="942.2" r="3.1"/><circle cx="443.2" cy="946.5" r="3.1"/><circle cx="444.7" cy="944.5" r="3.1"/><circle cx="446.0" cy="943.7" r="3.1"/><circle cx="447.7" cy="941.5" r="3.1"/><circle cx="448.8" cy="941.7" r="3.1"/><circle cx="450.5" cy="946.5" r="3.1"/><circle cx="452.2" cy="946.6" r="3.1"/><circle cx="453.6" cy="943.5" r="3.1"/><circle cx="454.8" cy="941.1" r="3.1"/><circle cx="456.4" cy="937.9" r="3.1"/><circle cx="458.1" cy="942.0" r="3.1"/><circle cx="459.6" cy="944.1" r="3.1"/><circle cx="461.2" cy="933.9" r="3.1"/><circle cx="462.2" cy="941.7" r="3.1"/><circle cx="463.8" cy="931.2" r="3.1"/><circle cx="465.5" cy="936.3" r="3.1"/><circle cx="466.9" cy="938.0" r="3.1"/><circle cx="468.5" cy="932.3" r="3.1"/><circle cx="470.0" cy="931.4" r="3.1"/><circle cx="471.6" cy="936.1" r="3.1"/><circle cx="473.0" cy="937.8" r="3.1"/><circle cx="474.6" cy="933.4" r="3.1"/><circle cx="476.1" cy="938.5" r="3.1"/><circle cx="477.5" cy="931.8" r="3.1"/><circle cx="478.8" cy="939.0" r="3.1"/><circle cx="480.7" cy="933.8" r="3.1"/><circle cx="482.0" cy="933.8" r="3.1"/><circle cx="483.6" cy="934.6" r="3.1"/><circle cx="485.0" cy="933.4" r="3.1"/><circle cx="486.3" cy="937.7" r="3.1"/><circle cx="488.1" cy="938.5" r="3.1"/><circle cx="489.4" cy="933.2" r="3.1"/><circle cx="490.8" cy="930.8" r="3.1"/><circle cx="492.7" cy="927.5" r="3.1"/><circle cx="494.0" cy="928.5" r="3.1"/><circle cx="495.5" cy="930.5" r="3.1"/><circle cx="497.1" cy="929.9" r="3.1"/><circle cx="498.7" cy="929.8" r="3.1"/><circle cx="499.7" cy="929.7" r="3.1"/><circle cx="501.4" cy="930.9" r="3.1"/><circle cx="503.1" cy="925.1" r="3.1"/><circle cx="504.4" cy="925.8" r="3.1"/><circle cx="505.5" cy="932.0" r="3.1"/><circle cx="507.5" cy="931.0" r="3.1"/><circle cx="509.0" cy="926.6" r="3.1"/><circle cx="510.6" cy="931.9" r="3.1"/><circle cx="512.0" cy="925.8" r="3.1"/><circle cx="513.4" cy="926.9" r="3.1"/><circle cx="515.0" cy="922.0" r="3.1"/><circle cx="516.5" cy="929.9" r="3.1"/><circle cx="517.9" cy="927.2" r="3.1"/><circle cx="519.5" cy="930.3" r="3.1"/><circle cx="521.1" cy="929.1" r="3.1"/><circle cx="522.3" cy="927.1" r="3.1"/><circle cx="524.2" cy="927.2" r="3.1"/><circle cx="525.6" cy="930.2" r="3.1"/><circle cx="527.1" cy="926.0" r="3.1"/><circle cx="528.1" cy="926.0" r="3.1"/><circle cx="530.0" cy="926.5" r="3.1"/><circle cx="531.5" cy="928.6" r="3.1"/><circle cx="532.9" cy="928.9" r="3.1"/><circle cx="534.6" cy="931.8" r="3.1"/><circle cx="535.8" cy="925.7" r="3.1"/><circle cx="537.7" cy="929.7" r="3.1"/><circle cx="539.1" cy="923.9" r="3.1"/><circle cx="540.4" cy="927.6" r="3.1"/><circle cx="542.2" cy="926.1" r="3.1"/><circle cx="543.6" cy="930.9" r="3.1"/><circle cx="545.1" cy="927.5" r="3.1"/><circle cx="546.3" cy="924.3" r="3.1"/><circle cx="548.1" cy="927.4" r="3.1"/><circle cx="549.7" cy="926.7" r="3.1"/><circle cx="551.2" cy="924.7" r="3.1"/><circle cx="552.3" cy="924.8" r="3.1"/><circle cx="554.2" cy="923.0" r="3.1"/><circle cx="555.7" cy="934.2" r="3.1"/><circle cx="557.1" cy="926.5" r="3.1"/><circle cx="558.4" cy="929.1" r="3.1"/><circle cx="559.8" cy="922.9" r="3.1"/><circle cx="561.4" cy="923.4" r="3.1"/><circle cx="562.9" cy="926.4" r="3.1"/><circle cx="564.5" cy="926.6" r="3.1"/><circle cx="566.1" cy="929.8" r="3.1"/><circle cx="567.4" cy="924.6" r="3.1"/><circle cx="568.8" cy="929.5" r="3.1"/><circle cx="570.4" cy="932.8" r="3.1"/><circle cx="571.8" cy="925.8" r="3.1"/><circle cx="573.7" cy="931.5" r="3.1"/><circle cx="574.8" cy="926.2" r="3.1"/><circle cx="576.6" cy="930.5" r="3.1"/><circle cx="578.1" cy="930.8" r="3.1"/><circle cx="579.3" cy="935.3" r="3.1"/><circle cx="581.1" cy="928.3" r="3.1"/><circle cx="582.5" cy="931.2" r="3.1"/><circle cx="583.9" cy="934.2" r="3.1"/><circle cx="585.4" cy="927.9" r="3.1"/><circle cx="587.0" cy="931.8" r="3.1"/><circle cx="588.7" cy="929.6" r="3.1"/><circle cx="589.7" cy="930.6" r="3.1"/><circle cx="591.6" cy="935.2" r="3.1"/><circle cx="593.0" cy="935.7" r="3.1"/><circle cx="594.4" cy="941.8" r="3.1"/><circle cx="596.0" cy="938.6" r="3.1"/><circle cx="597.5" cy="938.9" r="3.1"/><circle cx="599.0" cy="935.0" r="3.1"/><circle cx="600.6" cy="935.1" r="3.1"/><circle cx="601.9" cy="936.9" r="3.1"/><circle cx="603.8" cy="930.2" r="3.1"/><circle cx="605.1" cy="942.5" r="3.1"/><circle cx="606.4" cy="936.0" r="3.1"/><circle cx="607.7" cy="935.3" r="3.1"/><circle cx="609.5" cy="937.6" r="3.1"/><circle cx="610.9" cy="942.1" r="3.1"/><circle cx="612.6" cy="943.7" r="3.1"/><circle cx="614.1" cy="939.3" r="3.1"/><circle cx="615.8" cy="942.3" r="3.1"/><circle cx="617.0" cy="941.3" r="3.1"/><circle cx="618.6" cy="939.0" r="3.1"/><circle cx="619.9" cy="943.0" r="3.1"/><circle cx="621.4" cy="943.1" r="3.1"/><circle cx="623.2" cy="938.9" r="3.1"/><circle cx="624.5" cy="947.4" r="3.1"/><circle cx="626.0" cy="939.9" r="3.1"/><circle cx="627.4" cy="945.9" r="3.1"/><circle cx="629.0" cy="942.6" r="3.1"/><circle cx="630.6" cy="943.8" r="3.1"/><circle cx="632.0" cy="944.7" r="3.1"/><circle cx="633.3" cy="949.4" r="3.1"/><circle cx="635.1" cy="944.1" r="3.1"/><circle cx="636.4" cy="947.8" r="3.1"/><circle cx="637.9" cy="953.6" r="3.1"/><circle cx="639.5" cy="947.4" r="3.1"/><circle cx="641.0" cy="950.0" r="3.1"/><circle cx="642.1" cy="952.7" r="3.1"/><circle cx="644.3" cy="949.7" r="3.1"/><circle cx="645.6" cy="953.5" r="3.1"/><circle cx="647.3" cy="950.9" r="3.1"/><circle cx="648.9" cy="955.7" r="3.1"/><circle cx="649.9" cy="954.7" r="3.1"/><circle cx="651.4" cy="952.6" r="3.1"/><circle cx="653.0" cy="960.5" r="3.1"/><circle cx="654.6" cy="957.0" r="3.1"/><circle cx="655.9" cy="957.5" r="3.1"/><circle cx="657.5" cy="956.6" r="3.1"/><circle cx="659.2" cy="959.1" r="3.1"/><circle cx="660.4" cy="961.4" r="3.1"/><circle cx="662.0" cy="963.5" r="3.1"/><circle cx="663.7" cy="967.7" r="3.1"/><circle cx="665.0" cy="962.0" r="3.1"/><circle cx="666.6" cy="966.5" r="3.1"/><circle cx="668.0" cy="972.8" r="3.1"/><circle cx="669.3" cy="971.5" r="3.1"/><circle cx="670.9" cy="974.0" r="3.1"/><circle cx="672.5" cy="979.3" r="3.1"/><circle cx="673.9" cy="977.3" r="3.1"/><circle cx="675.5" cy="979.3" r="3.1"/><circle cx="677.1" cy="979.4" r="3.1"/><circle cx="678.5" cy="986.4" r="3.1"/><circle cx="680.0" cy="985.8" r="3.1"/><circle cx="681.4" cy="982.1" r="3.1"/><circle cx="683.0" cy="987.4" r="3.1"/><circle cx="684.4" cy="983.9" r="3.1"/><circle cx="685.9" cy="992.1" r="3.1"/><circle cx="687.7" cy="992.3" r="3.1"/><circle cx="688.7" cy="991.3" r="3.1"/><circle cx="690.5" cy="991.9" r="3.1"/><circle cx="691.7" cy="989.1" r="3.1"/><circle cx="693.4" cy="998.1" r="3.1"/><circle cx="695.1" cy="996.6" r="3.1"/><circle cx="696.4" cy="997.2" r="3.1"/><circle cx="698.2" cy="1001.5" r="3.1"/><circle cx="699.3" cy="998.5" r="3.1"/><circle cx="700.9" cy="999.8" r="3.1"/><circle cx="702.4" cy="1000.7" r="3.1"/><circle cx="704.0" cy="999.9" r="3.1"/><circle cx="705.4" cy="1012.5" r="3.1"/><circle cx="706.9" cy="1006.0" r="3.1"/><circle cx="708.5" cy="1007.0" r="3.1"/><circle cx="710.1" cy="1012.4" r="3.1"/><circle cx="711.5" cy="1001.9" r="3.1"/><circle cx="713.0" cy="1013.1" r="3.1"/><circle cx="714.4" cy="1015.1" r="3.1"/><circle cx="715.9" cy="1014.0" r="3.1"/><circle cx="717.3" cy="1020.2" r="3.1"/><circle cx="718.8" cy="1014.6" r="3.1"/><circle cx="720.5" cy="1022.6" r="3.1"/><circle cx="721.7" cy="1026.9" r="3.1"/><circle cx="723.6" cy="1019.2" r="3.1"/><circle cx="724.9" cy="1023.1" r="3.1"/><circle cx="726.3" cy="1028.5" r="3.1"/><circle cx="727.9" cy="1030.4" r="3.1"/><circle cx="729.6" cy="1030.0" r="3.1"/><circle cx="731.0" cy="1034.5" r="3.1"/><circle cx="732.5" cy="1035.5" r="3.1"/><circle cx="734.2" cy="1032.2" r="3.1"/><circle cx="735.8" cy="1037.4" r="3.1"/><circle cx="736.8" cy="1035.3" r="3.1"/><circle cx="738.6" cy="1034.4" r="3.1"/><circle cx="739.9" cy="1034.8" r="3.1"/><circle cx="741.3" cy="1046.7" r="3.1"/><circle cx="742.9" cy="1044.7" r="3.1"/><circle cx="744.6" cy="1052.5" r="3.1"/><circle cx="745.9" cy="1043.8" r="3.1"/><circle cx="747.4" cy="1048.6" r="3.1"/><circle cx="749.2" cy="1052.2" r="3.1"/><circle cx="750.6" cy="1052.2" r="3.1"/><circle cx="752.0" cy="1055.6" r="3.1"/><circle cx="753.8" cy="1055.9" r="3.1"/><circle cx="755.1" cy="1055.0" r="3.1"/><circle cx="756.4" cy="1051.1" r="3.1"/><circle cx="757.8" cy="1056.6" r="3.1"/><circle cx="759.4" cy="1065.8" r="3.1"/><circle cx="761.0" cy="1064.1" r="3.1"/><circle cx="762.6" cy="1067.2" r="3.1"/><circle cx="764.1" cy="1062.5" r="3.1"/><circle cx="765.5" cy="1064.8" r="3.1"/><circle cx="766.8" cy="1064.0" r="3.1"/><circle cx="768.6" cy="1069.0" r="3.1"/><circle cx="770.0" cy="1069.2" r="3.1"/><circle cx="771.3" cy="1071.6" r="3.1"/><circle cx="772.8" cy="1076.7" r="3.1"/><circle cx="774.5" cy="1070.1" r="3.1"/><circle cx="776.1" cy="1076.0" r="3.1"/><circle cx="777.6" cy="1070.8" r="3.1"/><circle cx="778.8" cy="1079.5" r="3.1"/><circle cx="780.8" cy="1076.0" r="3.1"/><circle cx="781.7" cy="1078.3" r="3.1"/><circle cx="783.5" cy="1080.2" r="3.1"/><circle cx="785.2" cy="1085.9" r="3.1"/><circle cx="786.7" cy="1082.1" r="3.1"/><circle cx="787.9" cy="1081.9" r="3.1"/><circle cx="789.6" cy="1081.1" r="3.1"/><circle cx="791.2" cy="1086.7" r="3.1"/><circle cx="792.6" cy="1084.6" r="3.1"/><circle cx="793.8" cy="1086.8" r="3.1"/><circle cx="795.7" cy="1089.5" r="3.1"/><circle cx="796.7" cy="1092.7" r="3.1"/><circle cx="798.5" cy="1089.7" r="3.1"/><circle cx="799.8" cy="1095.0" r="3.1"/><circle cx="801.4" cy="1099.3" r="3.1"/><circle cx="802.9" cy="1090.5" r="3.1"/><circle cx="804.6" cy="1100.1" r="3.1"/><circle cx="805.8" cy="1103.4" r="3.1"/><circle cx="807.5" cy="1096.1" r="3.1"/><circle cx="809.2" cy="1100.6" r="3.1"/><circle cx="810.5" cy="1095.6" r="3.1"/><circle cx="812.1" cy="1101.6" r="3.1"/><circle cx="813.6" cy="1100.4" r="3.1"/><circle cx="814.9" cy="1103.0" r="3.1"/><circle cx="816.4" cy="1100.1" r="3.1"/><circle cx="818.0" cy="1101.1" r="3.1"/><circle cx="819.6" cy="1102.9" r="3.1"/><circle cx="821.3" cy="1102.7" r="3.1"/><circle cx="822.7" cy="1103.6" r="3.1"/><circle cx="823.9" cy="1105.4" r="3.1"/><circle cx="825.4" cy="1103.3" r="3.1"/><circle cx="826.8" cy="1106.7" r="3.1"/><circle cx="828.1" cy="1109.2" r="3.1"/><circle cx="830.2" cy="1101.3" r="3.1"/><circle cx="831.6" cy="1109.4" r="3.1"/><circle cx="832.7" cy="1107.1" r="3.1"/><circle cx="834.5" cy="1106.5" r="3.1"/><circle cx="836.3" cy="1106.3" r="3.1"/><circle cx="837.6" cy="1108.3" r="3.1"/><circle cx="839.1" cy="1109.1" r="3.1"/><circle cx="840.5" cy="1112.8" r="3.1"/><circle cx="841.9" cy="1108.4" r="3.1"/><circle cx="843.3" cy="1115.8" r="3.1"/><circle cx="844.9" cy="1110.5" r="3.1"/><circle cx="846.5" cy="1115.3" r="3.1"/><circle cx="848.0" cy="1116.8" r="3.1"/><circle cx="849.6" cy="1110.1" r="3.1"/><circle cx="851.3" cy="1117.2" r="3.1"/><circle cx="852.6" cy="1120.8" r="3.1"/><circle cx="854.1" cy="1113.1" r="3.1"/><circle cx="855.4" cy="1116.4" r="3.1"/><circle cx="856.8" cy="1114.4" r="3.1"/><circle cx="858.8" cy="1115.2" r="3.1"/><circle cx="860.1" cy="1114.5" r="3.1"/><circle cx="861.7" cy="1113.6" r="3.1"/><circle cx="862.9" cy="1117.3" r="3.1"/><circle cx="864.2" cy="1117.8" r="3.1"/><circle cx="866.2" cy="1115.1" r="3.1"/><circle cx="867.2" cy="1119.5" r="3.1"/><circle cx="869.0" cy="1118.1" r="3.1"/><circle cx="870.4" cy="1116.8" r="3.1"/><circle cx="872.0" cy="1112.4" r="3.1"/><circle cx="873.6" cy="1120.1" r="3.1"/><circle cx="875.1" cy="1118.2" r="3.1"/><circle cx="876.2" cy="1107.6" r="3.1"/><circle cx="878.1" cy="1110.5" r="3.1"/><circle cx="879.2" cy="1112.1" r="3.1"/><circle cx="881.1" cy="1116.1" r="3.1"/><circle cx="882.4" cy="1116.7" r="3.1"/><circle cx="883.8" cy="1111.8" r="3.1"/><circle cx="885.4" cy="1113.1" r="3.1"/><circle cx="886.8" cy="1114.1" r="3.1"/><circle cx="888.5" cy="1107.8" r="3.1"/><circle cx="890.1" cy="1113.1" r="3.1"/><circle cx="891.6" cy="1110.1" r="3.1"/><circle cx="893.0" cy="1111.4" r="3.1"/><circle cx="894.7" cy="1110.5" r="3.1"/><circle cx="896.1" cy="1106.9" r="3.1"/><circle cx="897.8" cy="1107.3" r="3.1"/><circle cx="899.1" cy="1110.2" r="3.1"/><circle cx="900.4" cy="1110.4" r="3.1"/><circle cx="902.0" cy="1109.1" r="3.1"/><circle cx="903.4" cy="1112.9" r="3.1"/><circle cx="905.0" cy="1108.5" r="3.1"/><circle cx="906.5" cy="1105.8" r="3.1"/><circle cx="908.1" cy="1108.3" r="3.1"/><circle cx="909.6" cy="1108.6" r="3.1"/><circle cx="911.0" cy="1108.6" r="3.1"/><circle cx="912.6" cy="1112.3" r="3.1"/><circle cx="913.9" cy="1110.1" r="3.1"/><circle cx="915.4" cy="1111.5" r="3.1"/><circle cx="916.6" cy="1110.1" r="3.1"/><circle cx="918.4" cy="1107.5" r="3.1"/><circle cx="919.9" cy="1110.9" r="3.1"/><circle cx="921.9" cy="1106.8" r="3.1"/><circle cx="922.8" cy="1108.1" r="3.1"/><circle cx="924.5" cy="1104.1" r="3.1"/><circle cx="925.9" cy="1107.1" r="3.1"/><circle cx="927.3" cy="1105.6" r="3.1"/><circle cx="929.0" cy="1107.5" r="3.1"/><circle cx="930.5" cy="1111.6" r="3.1"/></g>
<path d="M156.4,967.2 L157.3,966.8 L158.2,966.4 L159.2,966.0 L160.1,965.7 L161.0,965.3 L161.9,964.9 L162.9,964.5 L163.8,964.1 L164.7,963.7 L165.6,963.4 L166.6,963.0 L167.5,962.6 L168.4,962.3 L169.4,961.9 L170.3,961.5 L171.2,961.2 L172.1,960.8 L173.1,960.4 L174.0,960.1 L174.9,959.7 L175.9,959.3 L176.8,958.9 L177.7,958.6 L178.6,958.2 L179.6,957.8 L180.5,957.4 L181.4,957.0 L182.3,956.6 L183.2,956.2 L184.1,955.8 L185.0,955.3 L185.9,954.9 L186.8,954.5 L187.7,954.0 L188.6,953.6 L189.5,953.1 L190.4,952.7 L191.3,952.2 L192.2,951.8 L193.1,951.3 L194.0,950.9 L194.9,950.4 L195.8,950.0 L196.6,949.5 L197.5,949.0 L198.4,948.6 L199.3,948.1 L200.2,947.7 L201.1,947.2 L202.0,946.8 L202.9,946.3 L203.8,945.9 L204.7,945.4 L205.6,945.0 L206.5,944.5 L207.3,944.1 L208.2,943.6 L209.1,943.2 L210.0,942.7 L210.9,942.3 L211.8,941.9 L212.7,941.4 L213.6,941.0 L214.6,940.6 L215.5,940.2 L216.4,939.8 L217.3,939.4 L218.2,939.0 L219.1,938.6 L220.0,938.2 L221.0,937.8 L221.9,937.4 L222.8,937.0 L223.7,936.6 L224.6,936.1 L225.5,935.7 L226.4,935.3 L227.3,934.8 L228.2,934.4 L229.1,933.9 L229.9,933.4 L230.8,932.9 L231.7,932.4 L232.6,931.9 L233.4,931.4 L234.3,930.9 L235.2,930.5 L236.0,930.0 L236.9,929.5 L237.8,929.0 L238.6,928.5 L239.5,928.0 L240.4,927.6 L241.3,927.1 L242.2,926.6 L243.1,926.2 L244.0,925.7 L244.9,925.3 L245.8,924.9 L246.7,924.4 L247.6,924.0 L248.5,923.6 L249.4,923.2 L250.3,922.8 L251.2,922.4 L252.2,922.0 L253.1,921.7 L254.0,921.3 L255.0,921.0 L255.9,920.6 L256.8,920.3 L257.8,919.9 L258.7,919.6 L259.6,919.2 L260.6,918.9 L261.5,918.5 L262.4,918.1 L263.4,917.8 L264.3,917.4 L265.2,917.1 L266.2,916.7 L267.1,916.3 L268.0,916.0 L269.0,915.6 L269.9,915.3 L270.8,915.0 L271.8,914.7 L272.8,914.5 L273.7,914.3 L274.7,914.2 L275.7,914.1 L276.7,914.0 L277.6,914.0 L278.6,914.1 L279.6,914.1 L280.6,914.3 L281.6,914.4 L282.5,914.6 L283.5,914.7 L284.5,914.9 L285.5,915.1 L286.5,915.4 L287.4,915.6 L288.4,915.8 L289.4,916.0 L290.4,916.2 L291.3,916.4 L292.3,916.7 L293.3,916.9 L294.2,917.2 L295.2,917.5 L296.1,917.8 L297.0,918.1 L298.0,918.5 L298.8,918.9 L299.7,919.4 L300.6,919.8 L301.4,920.4 L302.3,920.9 L303.1,921.5 L303.8,922.1 L304.6,922.7 L305.4,923.4 L306.1,924.0 L306.8,924.7 L307.6,925.4 L308.3,926.1 L309.0,926.8 L309.7,927.5 L310.4,928.2 L311.1,928.9 L311.8,929.6 L312.5,930.3 L313.2,931.1 L313.9,931.8 L314.6,932.5 L315.3,933.2 L316.0,933.9 L316.7,934.6 L317.4,935.3 L318.1,936.1 L318.7,936.8 L319.4,937.6 L320.1,938.3 L320.7,939.1 L321.4,939.8 L322.0,940.6 L322.6,941.4 L323.3,942.2 L323.9,943.0 L324.5,943.8 L325.0,944.6 L325.6,945.4 L326.2,946.2 L326.7,947.1 L327.2,947.9 L327.8,948.7 L328.3,949.6 L328.8,950.5 L329.3,951.3 L329.8,952.2 L330.3,953.1 L330.7,953.9 L331.2,954.8 L331.7,955.7 L332.1,956.6 L332.6,957.5 L333.0,958.4 L333.5,959.3 L333.9,960.2 L334.3,961.1 L334.8,962.0 L335.2,962.9 L335.6,963.8 L336.0,964.7 L336.4,965.6 L336.8,966.6 L337.2,967.5 L337.6,968.4 L338.0,969.3 L338.4,970.2 L338.8,971.2 L339.2,972.1 L339.6,973.0 L340.0,973.9 L340.3,974.8 L340.7,975.8 L341.1,976.7 L341.5,977.6 L341.9,978.5 L342.2,979.5 L342.6,980.4 L343.0,981.3 L343.4,982.2 L343.8,983.2 L344.2,984.1 L344.6,985.0 L345.0,985.9 L345.4,986.8 L345.8,987.7 L346.2,988.6 L346.6,989.5 L347.1,990.4 L347.5,991.3 L347.9,992.2 L348.4,993.1 L348.8,994.0 L349.3,994.9 L349.8,995.8 L350.2,996.7 L350.6,997.6 L351.1,998.5 L351.5,999.4 L351.9,1000.3 L352.4,1001.2 L352.8,1002.1 L353.1,1003.0 L353.5,1004.0 L353.9,1004.9 L354.2,1005.8 L354.6,1006.8 L354.9,1007.7 L355.3,1008.6 L355.6,1009.6 L355.9,1010.5 L356.3,1011.5 L356.6,1012.4 L357.0,1013.3 L357.3,1014.3 L357.7,1015.2 L358.1,1016.1 L358.4,1017.1 L358.8,1018.0 L359.2,1018.9 L359.7,1019.8 L360.1,1020.7 L360.5,1021.6 L361.0,1022.5 L361.4,1023.4 L361.9,1024.3 L362.3,1025.2 L362.7,1026.1 L363.1,1027.0 L363.5,1027.9 L363.9,1028.8 L364.3,1029.7 L364.7,1030.7 L365.0,1031.6 L365.4,1032.5 L365.7,1033.5 L366.0,1034.4 L366.3,1035.4 L366.7,1036.3 L367.0,1037.3 L367.3,1038.2 L367.6,1039.2 L368.0,1040.1 L368.3,1041.0 L368.7,1042.0 L369.1,1042.9 L369.5,1043.8 L369.9,1044.7 L370.3,1045.6 L370.7,1046.5 L371.1,1047.4 L371.5,1048.3 L372.0,1049.2 L372.4,1050.1 L372.8,1051.1 L373.2,1052.0 L373.6,1052.9 L374.0,1053.8 L374.4,1054.7 L374.8,1055.6 L375.2,1056.6 L375.5,1057.5 L375.9,1058.4 L376.3,1059.4 L376.6,1060.3 L377.0,1061.2 L377.3,1062.2 L377.7,1063.1 L378.0,1064.1 L378.3,1065.0 L378.7,1065.9 L379.0,1066.9 L379.3,1067.8 L379.7,1068.8 L380.0,1069.7 L380.3,1070.7 L380.6,1071.6 L381.0,1072.5 L381.3,1073.5 L381.6,1074.4 L382.0,1075.4 L382.3,1076.3 L382.6,1077.3 L383.0,1078.2 L383.3,1079.1 L383.7,1080.1 L384.0,1081.0 L384.4,1081.9 L384.8,1082.9 L385.2,1083.8 L385.6,1084.7 L386.0,1085.6 L386.4,1086.5 L386.8,1087.4 L387.2,1088.3 L387.7,1089.2 L388.1,1090.1 L388.6,1091.0 L389.0,1091.9 L389.5,1092.8 L389.9,1093.7 L390.4,1094.6 L390.9,1095.5 L391.3,1096.3 L391.8,1097.2 L392.3,1098.1 L392.7,1099.0 L393.2,1099.9 L393.7,1100.7 L394.2,1101.6 L394.7,1102.5 L395.1,1103.4 L395.6,1104.2 L396.1,1105.1 L396.6,1106.0 L397.1,1106.9 L397.6,1107.7 L398.1,1108.6 L398.6,1109.5 L399.1,1110.3 L399.6,1111.2 L400.1,1112.0 L400.6,1112.9 L401.2,1113.7 L401.7,1114.6 L402.2,1115.5 L402.7,1116.3 L403.3,1117.1 L403.8,1118.0 L404.4,1118.8 L404.9,1119.7 L405.4,1120.5 L406.0,1121.3 L406.6,1122.2 L407.1,1123.0 L407.7,1123.8 L408.2,1124.6 L408.8,1125.5 L409.4,1126.3 L410.0,1127.1 L410.6,1127.9 L411.2,1128.7 L411.8,1129.5 L412.4,1130.3 L413.0,1131.1 L413.6,1131.8 L414.3,1132.6 L414.9,1133.4 L415.6,1134.1 L416.2,1134.9 L416.9,1135.6 L417.6,1136.3 L418.3,1137.0 L419.0,1137.7 L419.7,1138.4 L420.5,1139.1 L421.2,1139.7 L422.0,1140.3 L422.8,1140.9 L423.6,1141.5 L424.5,1142.0 L425.3,1142.6 L426.2,1143.0 L427.0,1143.5 L427.9,1143.9 L428.8,1144.3 L429.8,1144.7 L430.7,1145.0 L431.6,1145.3 L432.6,1145.6 L433.5,1145.8 L434.5,1146.0 L435.5,1146.1 L436.5,1146.2 L437.4,1146.2 L438.4,1146.2 L439.4,1146.1 L440.4,1146.0 L441.4,1145.9 L442.4,1145.7 L443.3,1145.5 L444.3,1145.3 L445.3,1145.1 L446.2,1144.8 L447.2,1144.5 L448.1,1144.2 L449.0,1143.9 L450.0,1143.5 L450.9,1143.1 L451.8,1142.6 L452.6,1142.2 L453.5,1141.7 L454.4,1141.2 L455.2,1140.7 L456.1,1140.2 L456.9,1139.6 L457.8,1139.1 L458.6,1138.5 L459.4,1138.0 L460.2,1137.4 L461.0,1136.8 L461.8,1136.2 L462.6,1135.6 L463.4,1135.0 L464.2,1134.4 L465.0,1133.8 L465.8,1133.1 L466.6,1132.5 L467.3,1131.9 L468.1,1131.2 L468.8,1130.6 L469.6,1129.9 L470.3,1129.2 L471.1,1128.6 L471.8,1127.9 L472.5,1127.2 L473.3,1126.5 L474.0,1125.9 L474.7,1125.2 L475.5,1124.5 L476.2,1123.8 L476.9,1123.1 L477.6,1122.4 L478.4,1121.7 L479.1,1121.1 L479.9,1120.4 L480.6,1119.7 L481.3,1119.1 L482.1,1118.4 L482.8,1117.7 L483.6,1117.1 L484.4,1116.4 L485.1,1115.8 L485.9,1115.1 L486.6,1114.5 L487.4,1113.8 L488.2,1113.2 L488.9,1112.5 L489.7,1111.9 L490.4,1111.2 L491.2,1110.6 L492.0,1109.9 L492.7,1109.3 L493.5,1108.6 L494.2,1108.0 L495.0,1107.3 L495.7,1106.6 L496.5,1106.0 L497.2,1105.3 L498.0,1104.6 L498.7,1104.0 L499.4,1103.3 L500.2,1102.6 L500.9,1102.0 L501.7,1101.3 L502.4,1100.6 L503.1,1099.9 L503.9,1099.3 L504.6,1098.6 L505.4,1097.9 L506.1,1097.3 L506.8,1096.6 L507.6,1095.9 L508.3,1095.2 L509.1,1094.6 L509.8,1093.9 L510.5,1093.2 L511.3,1092.5 L512.0,1091.9 L512.8,1091.2 L513.5,1090.5 L514.2,1089.9 L515.0,1089.2 L515.7,1088.5 L516.5,1087.8 L517.2,1087.2 L518.0,1086.5 L518.7,1085.8 L519.5,1085.2 L520.2,1084.5 L521.0,1083.9 L521.7,1083.2 L522.5,1082.6 L523.2,1081.9 L524.0,1081.3 L524.8,1080.6 L525.5,1080.0 L526.3,1079.3 L527.1,1078.7 L527.9,1078.1 L528.6,1077.4 L529.4,1076.8 L530.2,1076.2 L531.0,1075.6 L531.8,1075.0 L532.5,1074.3 L533.3,1073.7 L534.1,1073.1 L534.9,1072.5 L535.7,1071.9 L536.5,1071.3 L537.3,1070.7 L538.1,1070.1 L538.9,1069.5 L539.7,1068.9 L540.5,1068.3 L541.3,1067.7 L542.1,1067.1 L542.9,1066.5 L543.8,1066.0 L544.6,1065.4 L545.4,1064.8 L546.2,1064.2 L547.0,1063.7 L547.9,1063.1 L548.7,1062.6 L549.5,1062.0 L550.4,1061.4 L551.2,1060.9 L552.0,1060.3 L552.9,1059.8 L553.7,1059.2 L554.5,1058.7 L555.4,1058.2 L556.2,1057.6 L557.1,1057.1 L557.9,1056.6 L558.8,1056.0 L559.6,1055.5 L560.5,1055.0 L561.3,1054.5 L562.2,1054.0 L563.1,1053.5 L563.9,1053.0 L564.8,1052.5 L565.7,1052.0 L566.6,1051.6 L567.5,1051.1 L568.4,1050.7 L569.3,1050.2 L570.2,1049.8 L571.1,1049.4 L572.0,1048.9 L572.9,1048.5 L573.8,1048.1 L574.7,1047.7 L575.6,1047.3 L576.5,1046.9 L577.4,1046.5 L578.4,1046.1 L579.3,1045.7 L580.2,1045.3 L581.1,1044.9 L582.0,1044.5 L582.9,1044.1 L583.8,1043.7 L584.7,1043.2 L585.7,1042.8 L586.6,1042.4 L587.5,1042.0 L588.4,1041.6 L589.3,1041.1 L590.2,1040.7 L591.1,1040.3 L592.0,1039.9 L592.9,1039.5 L593.8,1039.1 L594.8,1038.7 L595.7,1038.3 L596.6,1037.9 L597.5,1037.5 L598.5,1037.2 L599.4,1036.8 L600.3,1036.5 L601.3,1036.1 L602.2,1035.7 L603.1,1035.4 L604.1,1035.1 L605.0,1034.7 L606.0,1034.4 L606.9,1034.1 L607.9,1033.8 L608.8,1033.5 L609.8,1033.2 L610.7,1032.9 L611.7,1032.6 L612.6,1032.3 L613.6,1032.0 L614.6,1031.8 L615.5,1031.5 L616.5,1031.2 L617.5,1031.0 L618.4,1030.7 L619.4,1030.5 L620.4,1030.2 L621.3,1030.0 L622.3,1029.8 L623.3,1029.5 L624.3,1029.3 L625.2,1029.1 L626.2,1028.8 L627.2,1028.6 L628.2,1028.4 L629.1,1028.2 L630.1,1028.0 L631.1,1027.8 L632.1,1027.6 L633.0,1027.4 L634.0,1027.2 L635.0,1027.0 L636.0,1026.8 L637.0,1026.6 L637.9,1026.4 L638.9,1026.2 L639.9,1026.0 L640.9,1025.9 L641.9,1025.7 L642.9,1025.5 L643.9,1025.3 L644.8,1025.2 L645.8,1025.0 L646.8,1024.8 L647.8,1024.7 L648.8,1024.5 L649.8,1024.3 L650.8,1024.2 L651.7,1024.0 L652.7,1023.9 L653.7,1023.7 L654.7,1023.6 L655.7,1023.4 L656.7,1023.3 L657.7,1023.1 L658.7,1023.0 L659.7,1022.9 L660.6,1022.7 L661.6,1022.6 L662.6,1022.5 L663.6,1022.3 L664.6,1022.2 L665.6,1022.1 L666.6,1021.9 L667.6,1021.8 L668.6,1021.7 L669.6,1021.6 L670.6,1021.4 L671.6,1021.3 L672.6,1021.2 L673.5,1021.1 L674.5,1021.0 L675.5,1020.9 L676.5,1020.8 L677.5,1020.6 L678.5,1020.5 L679.5,1020.4 L680.5,1020.3 L681.5,1020.2 L682.5,1020.1 L683.5,1020.0 L684.5,1019.9 L685.5,1019.8 L686.5,1019.7 L687.5,1019.6 L688.5,1019.5 L689.5,1019.4 L690.5,1019.3 L691.4,1019.2 L692.4,1019.2 L693.4,1019.1 L694.4,1019.0 L695.4,1018.9 L696.4,1018.8 L697.4,1018.7 L698.4,1018.6 L699.4,1018.6 L700.4,1018.5 L701.4,1018.4 L702.4,1018.3 L703.4,1018.3 L704.4,1018.2 L705.4,1018.1 L706.4,1018.0 L707.4,1018.0 L708.4,1017.9 L709.4,1017.8 L710.4,1017.8 L711.4,1017.7 L712.4,1017.6 L713.4,1017.6 L714.4,1017.5 L715.4,1017.5 L716.4,1017.4 L717.4,1017.3 L718.4,1017.3 L719.4,1017.2 L720.4,1017.1 L721.4,1017.1 L722.4,1017.0 L723.4,1016.9 L724.4,1016.9 L725.4,1016.8 L726.4,1016.7 L727.4,1016.7 L728.4,1016.6 L729.4,1016.5 L730.3,1016.5 L731.3,1016.4 L732.3,1016.3 L733.3,1016.2 L734.3,1016.1 L735.3,1016.1 L736.3,1016.0 L737.3,1015.9 L738.3,1015.8 L739.3,1015.7 L740.3,1015.6 L741.3,1015.5 L742.3,1015.4 L743.3,1015.4 L744.3,1015.3 L745.3,1015.2 L746.3,1015.1 L747.3,1015.0 L748.3,1015.0 L749.3,1014.9 L750.3,1014.8 L751.3,1014.8 L752.3,1014.7 L753.3,1014.7 L754.3,1014.6 L755.3,1014.6 L756.3,1014.5 L757.3,1014.5 L758.3,1014.4 L759.3,1014.4 L760.3,1014.4 L761.3,1014.3 L762.3,1014.3 L763.3,1014.3 L764.3,1014.2 L765.3,1014.2 L766.3,1014.2 L767.3,1014.1 L768.3,1014.1 L769.3,1014.1 L770.3,1014.1 L771.3,1014.0 L772.3,1014.0 L773.3,1014.0 L774.3,1014.0 L775.3,1013.9 L776.3,1013.9 L777.3,1013.9 L778.3,1013.9 L779.3,1013.8 L780.3,1013.8 L781.3,1013.8 L782.3,1013.8 L783.3,1013.7 L784.3,1013.7 L785.3,1013.7 L786.3,1013.7 L787.3,1013.6 L788.3,1013.6 L789.3,1013.6 L790.3,1013.6 L791.3,1013.6 L792.3,1013.5 L793.3,1013.5 L794.3,1013.5 L795.3,1013.5 L796.3,1013.4 L797.3,1013.4 L798.3,1013.4 L799.3,1013.4 L800.3,1013.4 L801.3,1013.3 L802.3,1013.3 L803.3,1013.3 L804.3,1013.3 L805.3,1013.2 L806.3,1013.2 L807.3,1013.2 L808.3,1013.2 L809.3,1013.2 L810.3,1013.1 L811.3,1013.1 L812.3,1013.1 L813.3,1013.1 L814.3,1013.1 L815.3,1013.0 L816.3,1013.0 L817.3,1013.0 L818.3,1013.0 L819.3,1013.0 L820.3,1013.0 L821.3,1012.9 L822.3,1012.9 L823.3,1012.9 L824.3,1012.9 L825.3,1012.9 L826.3,1012.8 L827.2,1012.8 L828.2,1012.8 L829.2,1012.8 L830.2,1012.8 L831.2,1012.8 L832.2,1012.7 L833.2,1012.7 L834.2,1012.7 L835.2,1012.7 L836.2,1012.7 L837.2,1012.7 L838.2,1012.6 L839.2,1012.6 L840.2,1012.6 L841.2,1012.6 L842.2,1012.6 L843.2,1012.6 L844.2,1012.5 L845.2,1012.5 L846.2,1012.5 L847.2,1012.5 L848.2,1012.5 L849.2,1012.5 L850.2,1012.5 L851.2,1012.4 L852.2,1012.4 L853.2,1012.4 L854.2,1012.4 L855.2,1012.4 L856.2,1012.4 L857.2,1012.3 L858.2,1012.3 L859.2,1012.3 L860.2,1012.3 L861.2,1012.3 L862.2,1012.3 L863.2,1012.3 L864.2,1012.3 L865.2,1012.2 L866.2,1012.2 L867.2,1012.2 L868.2,1012.2 L869.2,1012.2 L870.2,1012.2 L871.2,1012.2 L872.2,1012.1 L873.2,1012.1 L874.2,1012.1 L875.2,1012.1 L876.2,1012.1 L877.2,1012.1 L878.2,1012.1 L879.2,1012.0 L880.2,1012.0 L881.2,1012.0 L882.2,1012.0 L883.2,1012.0 L884.2,1012.0 L885.2,1012.0 L886.2,1012.0 L887.2,1011.9 L888.2,1011.9 L889.2,1011.9 L890.2,1011.9 L891.2,1011.9 L892.2,1011.9 L893.2,1011.9 L894.2,1011.9 L895.2,1011.8 L896.2,1011.8 L897.2,1011.8 L898.2,1011.8 L899.2,1011.8 L900.2,1011.8 L901.2,1011.8 L902.2,1011.8 L903.2,1011.8 L904.2,1011.7 L905.2,1011.7 L906.2,1011.7 L907.2,1011.7 L908.2,1011.7 L909.2,1011.7 L910.2,1011.7 L911.2,1011.7 L912.2,1011.7 L913.2,1011.7 L914.2,1011.6 L915.2,1011.6 L916.2,1011.6 L917.2,1011.6 L918.2,1011.6 L919.2,1011.6 L920.2,1011.6 L921.2,1011.6 L922.2,1011.6 L923.2,1011.6 L924.2,1011.6 L925.2,1011.5 L926.2,1011.5 L927.2,1011.5 L928.2,1011.5 L929.2,1011.5 L930.2,1011.5" fill="none" stroke="#000" stroke-width="6.8" stroke-linejoin="round" stroke-linecap="round" />
<g fill="#0000ff"><circle cx="156.3" cy="978.6" r="3.1"/><circle cx="157.8" cy="976.7" r="3.1"/><circle cx="159.3" cy="979.6" r="3.1"/><circle cx="160.4" cy="981.3" r="3.1"/><circle cx="162.0" cy="983.1" r="3.1"/><circle cx="162.9" cy="979.7" r="3.1"/><circle cx="164.3" cy="977.5" r="3.1"/><circle cx="165.5" cy="976.5" r="3.1"/><circle cx="166.8" cy="980.8" r="3.1"/><circle cx="168.0" cy="983.2" r="3.1"/><circle cx="169.4" cy="978.8" r="3.1"/><circle cx="170.8" cy="974.1" r="3.1"/><circle cx="172.0" cy="974.7" r="3.1"/><circle cx="173.5" cy="982.1" r="3.1"/><circle cx="174.9" cy="977.7" r="3.1"/><circle cx="175.8" cy="971.8" r="3.1"/><circle cx="177.4" cy="976.6" r="3.1"/><circle cx="178.6" cy="973.2" r="3.1"/><circle cx="179.9" cy="974.6" r="3.1"/><circle cx="181.6" cy="975.0" r="3.1"/><circle cx="182.7" cy="974.2" r="3.1"/><circle cx="183.8" cy="977.9" r="3.1"/><circle cx="185.1" cy="976.0" r="3.1"/><circle cx="186.1" cy="974.3" r="3.1"/><circle cx="187.8" cy="977.3" r="3.1"/><circle cx="188.9" cy="978.5" r="3.1"/><circle cx="190.3" cy="971.0" r="3.1"/><circle cx="191.6" cy="975.1" r="3.1"/><circle cx="193.0" cy="972.9" r="3.1"/><circle cx="194.5" cy="975.2" r="3.1"/><circle cx="195.6" cy="971.8" r="3.1"/><circle cx="197.0" cy="975.7" r="3.1"/><circle cx="198.1" cy="975.5" r="3.1"/><circle cx="199.5" cy="974.6" r="3.1"/><circle cx="200.8" cy="972.4" r="3.1"/><circle cx="201.8" cy="974.3" r="3.1"/><circle cx="203.6" cy="972.1" r="3.1"/><circle cx="204.5" cy="971.3" r="3.1"/><circle cx="205.7" cy="975.9" r="3.1"/><circle cx="207.4" cy="971.8" r="3.1"/><circle cx="208.8" cy="978.6" r="3.1"/><circle cx="209.7" cy="977.1" r="3.1"/><circle cx="211.0" cy="968.9" r="3.1"/><circle cx="212.9" cy="975.6" r="3.1"/><circle cx="213.7" cy="971.3" r="3.1"/><circle cx="214.7" cy="974.6" r="3.1"/><circle cx="216.2" cy="974.5" r="3.1"/><circle cx="217.9" cy="968.2" r="3.1"/><circle cx="219.0" cy="973.3" r="3.1"/><circle cx="220.3" cy="973.0" r="3.1"/><circle cx="221.7" cy="976.5" r="3.1"/><circle cx="222.9" cy="969.8" r="3.1"/><circle cx="224.1" cy="975.4" r="3.1"/><circle cx="225.2" cy="969.7" r="3.1"/><circle cx="226.8" cy="971.7" r="3.1"/><circle cx="227.8" cy="970.0" r="3.1"/><circle cx="229.3" cy="976.6" r="3.1"/><circle cx="230.9" cy="973.8" r="3.1"/><circle cx="232.0" cy="979.1" r="3.1"/><circle cx="233.2" cy="973.5" r="3.1"/><circle cx="234.5" cy="973.9" r="3.1"/><circle cx="235.9" cy="973.7" r="3.1"/><circle cx="237.2" cy="969.1" r="3.1"/><circle cx="238.2" cy="970.5" r="3.1"/><circle cx="239.7" cy="974.6" r="3.1"/><circle cx="241.3" cy="969.2" r="3.1"/><circle cx="242.4" cy="970.7" r="3.1"/><circle cx="243.5" cy="969.9" r="3.1"/><circle cx="244.8" cy="971.6" r="3.1"/><circle cx="245.9" cy="968.4" r="3.1"/><circle cx="247.4" cy="968.9" r="3.1"/><circle cx="249.0" cy="969.9" r="3.1"/><circle cx="250.1" cy="969.2" r="3.1"/><circle cx="251.3" cy="966.1" r="3.1"/><circle cx="252.6" cy="971.2" r="3.1"/><circle cx="254.0" cy="964.4" r="3.1"/><circle cx="255.3" cy="964.5" r="3.1"/><circle cx="256.5" cy="964.0" r="3.1"/><circle cx="257.8" cy="970.6" r="3.1"/><circle cx="259.3" cy="966.4" r="3.1"/><circle cx="260.7" cy="964.4" r="3.1"/><circle cx="261.7" cy="963.7" r="3.1"/><circle cx="263.0" cy="968.2" r="3.1"/><circle cx="264.6" cy="963.6" r="3.1"/><circle cx="265.5" cy="962.7" r="3.1"/><circle cx="266.9" cy="968.2" r="3.1"/><circle cx="268.2" cy="962.6" r="3.1"/><circle cx="269.6" cy="965.1" r="3.1"/><circle cx="270.9" cy="965.9" r="3.1"/><circle cx="272.1" cy="964.4" r="3.1"/><circle cx="273.5" cy="965.5" r="3.1"/><circle cx="274.6" cy="969.5" r="3.1"/><circle cx="275.8" cy="963.8" r="3.1"/><circle cx="277.1" cy="961.5" r="3.1"/><circle cx="278.8" cy="959.6" r="3.1"/><circle cx="279.7" cy="964.4" r="3.1"/><circle cx="281.4" cy="963.8" r="3.1"/><circle cx="282.7" cy="965.6" r="3.1"/><circle cx="284.0" cy="963.3" r="3.1"/><circle cx="285.2" cy="963.1" r="3.1"/><circle cx="286.4" cy="962.3" r="3.1"/><circle cx="287.8" cy="962.7" r="3.1"/><circle cx="289.0" cy="964.7" r="3.1"/><circle cx="290.2" cy="962.9" r="3.1"/><circle cx="291.9" cy="964.2" r="3.1"/><circle cx="292.9" cy="969.5" r="3.1"/><circle cx="294.6" cy="965.1" r="3.1"/><circle cx="295.7" cy="958.8" r="3.1"/><circle cx="296.8" cy="968.6" r="3.1"/><circle cx="298.3" cy="964.3" r="3.1"/><circle cx="299.7" cy="960.2" r="3.1"/><circle cx="300.6" cy="965.6" r="3.1"/><circle cx="302.0" cy="962.7" r="3.1"/><circle cx="303.2" cy="960.6" r="3.1"/><circle cx="304.7" cy="960.4" r="3.1"/><circle cx="306.1" cy="959.1" r="3.1"/><circle cx="307.3" cy="962.0" r="3.1"/><circle cx="308.5" cy="964.8" r="3.1"/><circle cx="309.8" cy="960.4" r="3.1"/><circle cx="311.4" cy="962.4" r="3.1"/><circle cx="312.7" cy="966.5" r="3.1"/><circle cx="313.8" cy="956.9" r="3.1"/><circle cx="314.9" cy="961.1" r="3.1"/><circle cx="316.5" cy="959.1" r="3.1"/><circle cx="317.7" cy="956.6" r="3.1"/><circle cx="319.0" cy="956.4" r="3.1"/><circle cx="320.6" cy="959.1" r="3.1"/><circle cx="321.7" cy="960.2" r="3.1"/><circle cx="322.8" cy="957.0" r="3.1"/><circle cx="324.1" cy="958.5" r="3.1"/><circle cx="325.7" cy="960.2" r="3.1"/><circle cx="326.8" cy="958.6" r="3.1"/><circle cx="328.2" cy="960.0" r="3.1"/><circle cx="329.4" cy="958.5" r="3.1"/><circle cx="330.6" cy="958.3" r="3.1"/><circle cx="332.0" cy="962.0" r="3.1"/><circle cx="333.5" cy="958.1" r="3.1"/><circle cx="334.7" cy="956.3" r="3.1"/><circle cx="335.7" cy="957.8" r="3.1"/><circle cx="337.2" cy="952.6" r="3.1"/><circle cx="338.4" cy="954.0" r="3.1"/><circle cx="339.8" cy="957.0" r="3.1"/><circle cx="341.3" cy="956.2" r="3.1"/><circle cx="342.7" cy="958.7" r="3.1"/><circle cx="343.7" cy="953.7" r="3.1"/><circle cx="344.9" cy="949.0" r="3.1"/><circle cx="346.3" cy="958.9" r="3.1"/><circle cx="347.6" cy="956.0" r="3.1"/><circle cx="348.9" cy="949.2" r="3.1"/><circle cx="350.2" cy="956.1" r="3.1"/><circle cx="351.5" cy="951.8" r="3.1"/><circle cx="352.6" cy="945.9" r="3.1"/><circle cx="354.2" cy="949.7" r="3.1"/><circle cx="355.4" cy="949.1" r="3.1"/><circle cx="356.6" cy="955.1" r="3.1"/><circle cx="358.1" cy="947.6" r="3.1"/><circle cx="359.2" cy="948.9" r="3.1"/><circle cx="360.9" cy="948.5" r="3.1"/><circle cx="362.0" cy="947.9" r="3.1"/><circle cx="363.2" cy="946.0" r="3.1"/><circle cx="364.4" cy="949.0" r="3.1"/><circle cx="365.8" cy="951.3" r="3.1"/><circle cx="367.2" cy="949.6" r="3.1"/><circle cx="368.3" cy="944.6" r="3.1"/><circle cx="369.8" cy="943.6" r="3.1"/><circle cx="370.7" cy="947.1" r="3.1"/><circle cx="372.3" cy="944.3" r="3.1"/><circle cx="373.7" cy="944.2" r="3.1"/><circle cx="375.0" cy="940.7" r="3.1"/><circle cx="376.2" cy="951.3" r="3.1"/><circle cx="377.7" cy="947.9" r="3.1"/><circle cx="378.7" cy="941.9" r="3.1"/><circle cx="380.0" cy="947.2" r="3.1"/><circle cx="381.4" cy="948.2" r="3.1"/><circle cx="382.9" cy="936.7" r="3.1"/><circle cx="384.1" cy="941.9" r="3.1"/><circle cx="385.3" cy="942.0" r="3.1"/><circle cx="386.7" cy="944.8" r="3.1"/><circle cx="388.0" cy="942.2" r="3.1"/><circle cx="389.0" cy="941.5" r="3.1"/><circle cx="390.1" cy="941.7" r="3.1"/><circle cx="391.7" cy="947.1" r="3.1"/><circle cx="392.9" cy="947.7" r="3.1"/><circle cx="394.3" cy="939.3" r="3.1"/><circle cx="395.5" cy="937.8" r="3.1"/><circle cx="396.9" cy="948.3" r="3.1"/><circle cx="398.4" cy="937.0" r="3.1"/><circle cx="399.6" cy="937.9" r="3.1"/><circle cx="400.9" cy="939.4" r="3.1"/><circle cx="402.5" cy="940.4" r="3.1"/><circle cx="403.4" cy="941.7" r="3.1"/><circle cx="404.8" cy="939.5" r="3.1"/><circle cx="406.3" cy="935.4" r="3.1"/><circle cx="407.2" cy="939.2" r="3.1"/><circle cx="408.5" cy="938.1" r="3.1"/><circle cx="410.2" cy="942.6" r="3.1"/><circle cx="411.4" cy="936.6" r="3.1"/><circle cx="412.7" cy="932.3" r="3.1"/><circle cx="414.0" cy="932.9" r="3.1"/><circle cx="415.4" cy="940.1" r="3.1"/><circle cx="416.4" cy="933.8" r="3.1"/><circle cx="417.8" cy="928.7" r="3.1"/><circle cx="418.9" cy="933.0" r="3.1"/><circle cx="420.4" cy="934.4" r="3.1"/><circle cx="421.8" cy="937.7" r="3.1"/><circle cx="422.9" cy="930.7" r="3.1"/><circle cx="424.4" cy="935.5" r="3.1"/><circle cx="426.1" cy="935.6" r="3.1"/><circle cx="426.7" cy="930.8" r="3.1"/><circle cx="428.3" cy="932.0" r="3.1"/><circle cx="429.7" cy="937.6" r="3.1"/><circle cx="431.0" cy="937.2" r="3.1"/><circle cx="432.0" cy="934.3" r="3.1"/><circle cx="433.6" cy="932.4" r="3.1"/><circle cx="434.8" cy="934.6" r="3.1"/><circle cx="436.0" cy="930.4" r="3.1"/><circle cx="437.3" cy="930.2" r="3.1"/><circle cx="438.7" cy="927.6" r="3.1"/><circle cx="440.1" cy="929.9" r="3.1"/><circle cx="441.4" cy="929.3" r="3.1"/><circle cx="442.9" cy="937.5" r="3.1"/><circle cx="443.8" cy="928.3" r="3.1"/><circle cx="445.2" cy="932.3" r="3.1"/><circle cx="446.4" cy="932.1" r="3.1"/><circle cx="447.8" cy="927.1" r="3.1"/><circle cx="449.0" cy="930.8" r="3.1"/><circle cx="450.2" cy="920.3" r="3.1"/><circle cx="451.4" cy="926.6" r="3.1"/><circle cx="452.8" cy="928.3" r="3.1"/><circle cx="454.3" cy="918.0" r="3.1"/><circle cx="455.7" cy="921.1" r="3.1"/><circle cx="456.9" cy="927.1" r="3.1"/><circle cx="457.9" cy="922.6" r="3.1"/><circle cx="459.3" cy="919.5" r="3.1"/><circle cx="460.7" cy="921.2" r="3.1"/><circle cx="462.0" cy="920.1" r="3.1"/><circle cx="463.3" cy="923.5" r="3.1"/><circle cx="464.7" cy="922.2" r="3.1"/><circle cx="465.9" cy="919.5" r="3.1"/><circle cx="467.1" cy="917.9" r="3.1"/><circle cx="468.2" cy="919.2" r="3.1"/><circle cx="469.8" cy="922.9" r="3.1"/><circle cx="470.9" cy="919.5" r="3.1"/><circle cx="472.4" cy="920.0" r="3.1"/><circle cx="473.8" cy="917.2" r="3.1"/><circle cx="474.8" cy="913.3" r="3.1"/><circle cx="476.3" cy="914.6" r="3.1"/><circle cx="477.6" cy="918.3" r="3.1"/><circle cx="479.2" cy="916.3" r="3.1"/><circle cx="480.3" cy="912.9" r="3.1"/><circle cx="481.2" cy="910.4" r="3.1"/><circle cx="482.9" cy="915.3" r="3.1"/><circle cx="484.2" cy="913.6" r="3.1"/><circle cx="485.4" cy="913.3" r="3.1"/><circle cx="486.6" cy="913.1" r="3.1"/><circle cx="488.1" cy="914.7" r="3.1"/><circle cx="489.4" cy="914.5" r="3.1"/><circle cx="490.7" cy="916.3" r="3.1"/><circle cx="491.7" cy="916.0" r="3.1"/><circle cx="493.2" cy="917.0" r="3.1"/><circle cx="494.3" cy="915.3" r="3.1"/><circle cx="495.6" cy="911.6" r="3.1"/><circle cx="497.0" cy="912.3" r="3.1"/><circle cx="498.2" cy="913.8" r="3.1"/><circle cx="499.6" cy="911.2" r="3.1"/><circle cx="501.4" cy="913.6" r="3.1"/><circle cx="502.4" cy="915.2" r="3.1"/><circle cx="503.5" cy="909.2" r="3.1"/><circle cx="504.6" cy="906.2" r="3.1"/><circle cx="506.1" cy="914.9" r="3.1"/><circle cx="507.3" cy="911.2" r="3.1"/><circle cx="508.5" cy="913.2" r="3.1"/><circle cx="510.2" cy="907.0" r="3.1"/><circle cx="511.3" cy="916.1" r="3.1"/><circle cx="512.7" cy="913.0" r="3.1"/><circle cx="514.4" cy="910.3" r="3.1"/><circle cx="515.3" cy="909.6" r="3.1"/><circle cx="516.6" cy="910.9" r="3.1"/><circle cx="517.9" cy="910.1" r="3.1"/><circle cx="519.1" cy="909.7" r="3.1"/><circle cx="520.4" cy="907.2" r="3.1"/><circle cx="521.7" cy="914.3" r="3.1"/><circle cx="523.3" cy="910.5" r="3.1"/><circle cx="524.3" cy="910.9" r="3.1"/><circle cx="525.5" cy="911.0" r="3.1"/><circle cx="526.8" cy="903.7" r="3.1"/><circle cx="528.1" cy="912.4" r="3.1"/><circle cx="529.6" cy="910.0" r="3.1"/><circle cx="531.0" cy="910.2" r="3.1"/><circle cx="532.3" cy="911.4" r="3.1"/><circle cx="533.7" cy="908.4" r="3.1"/><circle cx="534.8" cy="914.0" r="3.1"/><circle cx="536.2" cy="909.6" r="3.1"/><circle cx="537.4" cy="909.1" r="3.1"/><circle cx="538.8" cy="909.4" r="3.1"/><circle cx="539.7" cy="912.6" r="3.1"/><circle cx="541.5" cy="914.6" r="3.1"/><circle cx="542.4" cy="910.7" r="3.1"/><circle cx="543.7" cy="908.1" r="3.1"/><circle cx="545.3" cy="916.0" r="3.1"/><circle cx="546.4" cy="909.8" r="3.1"/><circle cx="548.1" cy="916.8" r="3.1"/><circle cx="549.1" cy="913.2" r="3.1"/><circle cx="550.2" cy="911.5" r="3.1"/><circle cx="551.7" cy="911.8" r="3.1"/><circle cx="552.9" cy="915.3" r="3.1"/><circle cx="554.5" cy="916.8" r="3.1"/><circle cx="555.8" cy="913.7" r="3.1"/><circle cx="557.0" cy="917.3" r="3.1"/><circle cx="558.1" cy="921.0" r="3.1"/><circle cx="559.5" cy="914.3" r="3.1"/><circle cx="561.0" cy="911.7" r="3.1"/><circle cx="562.0" cy="912.2" r="3.1"/><circle cx="563.3" cy="911.4" r="3.1"/><circle cx="564.8" cy="913.9" r="3.1"/><circle cx="566.1" cy="913.9" r="3.1"/><circle cx="567.3" cy="912.4" r="3.1"/><circle cx="568.6" cy="918.3" r="3.1"/><circle cx="569.6" cy="909.1" r="3.1"/><circle cx="571.4" cy="913.3" r="3.1"/><circle cx="572.5" cy="923.7" r="3.1"/><circle cx="573.6" cy="921.1" r="3.1"/><circle cx="574.9" cy="920.0" r="3.1"/><circle cx="576.3" cy="920.2" r="3.1"/><circle cx="578.0" cy="924.6" r="3.1"/><circle cx="579.1" cy="921.4" r="3.1"/><circle cx="580.1" cy="920.6" r="3.1"/><circle cx="581.9" cy="917.3" r="3.1"/><circle cx="583.1" cy="921.4" r="3.1"/><circle cx="584.0" cy="920.1" r="3.1"/><circle cx="585.1" cy="920.9" r="3.1"/><circle cx="586.9" cy="921.6" r="3.1"/><circle cx="588.0" cy="924.3" r="3.1"/><circle cx="589.4" cy="924.2" r="3.1"/><circle cx="590.6" cy="928.6" r="3.1"/><circle cx="592.2" cy="922.7" r="3.1"/><circle cx="593.5" cy="927.0" r="3.1"/><circle cx="594.7" cy="933.9" r="3.1"/><circle cx="595.9" cy="929.2" r="3.1"/><circle cx="597.2" cy="933.5" r="3.1"/><circle cx="598.6" cy="934.2" r="3.1"/><circle cx="599.6" cy="935.6" r="3.1"/><circle cx="601.3" cy="934.8" r="3.1"/><circle cx="602.4" cy="929.3" r="3.1"/><circle cx="603.7" cy="933.6" r="3.1"/><circle cx="605.0" cy="934.2" r="3.1"/><circle cx="606.4" cy="931.7" r="3.1"/><circle cx="607.8" cy="935.9" r="3.1"/><circle cx="609.2" cy="934.5" r="3.1"/><circle cx="610.1" cy="934.1" r="3.1"/><circle cx="611.4" cy="940.7" r="3.1"/><circle cx="612.8" cy="940.8" r="3.1"/><circle cx="614.0" cy="939.8" r="3.1"/><circle cx="615.5" cy="940.0" r="3.1"/><circle cx="616.6" cy="942.1" r="3.1"/><circle cx="618.0" cy="943.5" r="3.1"/><circle cx="619.4" cy="944.3" r="3.1"/><circle cx="620.8" cy="946.3" r="3.1"/><circle cx="621.9" cy="946.1" r="3.1"/><circle cx="623.4" cy="949.5" r="3.1"/><circle cx="624.7" cy="950.8" r="3.1"/><circle cx="625.5" cy="951.2" r="3.1"/><circle cx="627.2" cy="949.1" r="3.1"/><circle cx="628.4" cy="950.1" r="3.1"/><circle cx="629.7" cy="954.1" r="3.1"/><circle cx="630.9" cy="953.0" r="3.1"/><circle cx="632.3" cy="954.3" r="3.1"/><circle cx="633.7" cy="947.8" r="3.1"/><circle cx="634.9" cy="948.0" r="3.1"/><circle cx="636.4" cy="957.9" r="3.1"/><circle cx="637.7" cy="958.8" r="3.1"/><circle cx="638.7" cy="962.8" r="3.1"/><circle cx="640.0" cy="961.8" r="3.1"/><circle cx="641.5" cy="961.2" r="3.1"/><circle cx="642.6" cy="961.6" r="3.1"/><circle cx="644.0" cy="958.4" r="3.1"/><circle cx="645.4" cy="966.6" r="3.1"/><circle cx="646.8" cy="963.4" r="3.1"/><circle cx="648.0" cy="968.2" r="3.1"/><circle cx="649.4" cy="968.9" r="3.1"/><circle cx="650.4" cy="970.8" r="3.1"/><circle cx="651.9" cy="974.5" r="3.1"/><circle cx="653.0" cy="972.2" r="3.1"/><circle cx="654.4" cy="974.3" r="3.1"/><circle cx="655.7" cy="974.8" r="3.1"/><circle cx="656.9" cy="978.0" r="3.1"/><circle cx="657.9" cy="985.8" r="3.1"/><circle cx="659.7" cy="981.4" r="3.1"/><circle cx="661.0" cy="987.5" r="3.1"/><circle cx="662.2" cy="987.9" r="3.1"/><circle cx="663.4" cy="989.1" r="3.1"/><circle cx="664.8" cy="990.7" r="3.1"/><circle cx="666.2" cy="986.6" r="3.1"/><circle cx="667.4" cy="992.1" r="3.1"/><circle cx="668.9" cy="997.1" r="3.1"/><circle cx="670.0" cy="991.5" r="3.1"/><circle cx="671.2" cy="994.8" r="3.1"/><circle cx="672.7" cy="994.3" r="3.1"/><circle cx="673.8" cy="998.7" r="3.1"/><circle cx="675.2" cy="995.9" r="3.1"/><circle cx="676.2" cy="1005.4" r="3.1"/><circle cx="677.8" cy="1001.0" r="3.1"/><circle cx="679.2" cy="999.0" r="3.1"/><circle cx="680.3" cy="1010.5" r="3.1"/><circle cx="681.7" cy="1009.6" r="3.1"/><circle cx="683.1" cy="1009.8" r="3.1"/><circle cx="684.3" cy="1011.5" r="3.1"/><circle cx="685.9" cy="1010.4" r="3.1"/><circle cx="686.9" cy="1012.4" r="3.1"/><circle cx="688.2" cy="1016.8" r="3.1"/><circle cx="689.5" cy="1019.0" r="3.1"/><circle cx="690.5" cy="1020.6" r="3.1"/><circle cx="691.9" cy="1020.1" r="3.1"/><circle cx="693.5" cy="1019.6" r="3.1"/><circle cx="694.7" cy="1022.0" r="3.1"/><circle cx="696.2" cy="1027.5" r="3.1"/><circle cx="697.3" cy="1030.2" r="3.1"/><circle cx="698.6" cy="1026.4" r="3.1"/><circle cx="700.1" cy="1027.6" r="3.1"/><circle cx="701.2" cy="1034.4" r="3.1"/><circle cx="702.7" cy="1034.4" r="3.1"/><circle cx="703.6" cy="1035.9" r="3.1"/><circle cx="705.2" cy="1031.3" r="3.1"/><circle cx="706.5" cy="1035.6" r="3.1"/><circle cx="707.8" cy="1036.6" r="3.1"/><circle cx="709.2" cy="1040.2" r="3.1"/><circle cx="710.5" cy="1035.8" r="3.1"/><circle cx="711.6" cy="1046.0" r="3.1"/><circle cx="712.8" cy="1044.4" r="3.1"/><circle cx="714.4" cy="1046.0" r="3.1"/><circle cx="715.5" cy="1042.4" r="3.1"/><circle cx="717.0" cy="1047.1" r="3.1"/><circle cx="718.3" cy="1052.4" r="3.1"/><circle cx="719.4" cy="1045.0" r="3.1"/><circle cx="720.6" cy="1051.9" r="3.1"/><circle cx="722.0" cy="1054.5" r="3.1"/><circle cx="723.4" cy="1051.7" r="3.1"/><circle cx="724.6" cy="1057.7" r="3.1"/><circle cx="726.1" cy="1055.8" r="3.1"/><circle cx="727.2" cy="1062.1" r="3.1"/><circle cx="728.5" cy="1061.6" r="3.1"/><circle cx="729.7" cy="1062.4" r="3.1"/><circle cx="731.1" cy="1069.4" r="3.1"/><circle cx="732.6" cy="1067.5" r="3.1"/><circle cx="733.7" cy="1070.6" r="3.1"/><circle cx="735.0" cy="1064.6" r="3.1"/><circle cx="736.2" cy="1067.7" r="3.1"/><circle cx="737.7" cy="1073.5" r="3.1"/><circle cx="738.7" cy="1075.0" r="3.1"/><circle cx="740.1" cy="1073.3" r="3.1"/><circle cx="741.6" cy="1077.0" r="3.1"/><circle cx="743.0" cy="1072.6" r="3.1"/><circle cx="744.1" cy="1077.5" r="3.1"/><circle cx="745.6" cy="1074.4" r="3.1"/><circle cx="746.4" cy="1079.9" r="3.1"/><circle cx="748.1" cy="1078.4" r="3.1"/><circle cx="749.4" cy="1078.9" r="3.1"/><circle cx="750.4" cy="1082.0" r="3.1"/><circle cx="751.6" cy="1088.2" r="3.1"/><circle cx="753.1" cy="1080.8" r="3.1"/><circle cx="754.5" cy="1083.0" r="3.1"/><circle cx="755.9" cy="1089.0" r="3.1"/><circle cx="757.1" cy="1085.6" r="3.1"/><circle cx="758.5" cy="1093.2" r="3.1"/><circle cx="759.8" cy="1089.6" r="3.1"/><circle cx="760.8" cy="1090.3" r="3.1"/><circle cx="762.3" cy="1092.1" r="3.1"/><circle cx="763.5" cy="1097.3" r="3.1"/><circle cx="765.1" cy="1095.1" r="3.1"/><circle cx="766.1" cy="1095.7" r="3.1"/><circle cx="767.7" cy="1096.0" r="3.1"/><circle cx="768.8" cy="1091.6" r="3.1"/><circle cx="770.5" cy="1094.6" r="3.1"/><circle cx="771.4" cy="1102.8" r="3.1"/><circle cx="772.7" cy="1101.9" r="3.1"/><circle cx="774.0" cy="1102.0" r="3.1"/><circle cx="775.3" cy="1103.5" r="3.1"/><circle cx="777.0" cy="1101.0" r="3.1"/><circle cx="777.8" cy="1104.8" r="3.1"/><circle cx="779.1" cy="1102.1" r="3.1"/><circle cx="780.5" cy="1107.0" r="3.1"/><circle cx="781.9" cy="1104.7" r="3.1"/><circle cx="783.0" cy="1107.2" r="3.1"/><circle cx="784.5" cy="1110.1" r="3.1"/><circle cx="785.8" cy="1108.7" r="3.1"/><circle cx="787.0" cy="1112.5" r="3.1"/><circle cx="788.3" cy="1112.7" r="3.1"/><circle cx="789.5" cy="1113.3" r="3.1"/><circle cx="790.9" cy="1117.0" r="3.1"/><circle cx="792.1" cy="1109.4" r="3.1"/><circle cx="793.7" cy="1109.8" r="3.1"/><circle cx="795.1" cy="1117.2" r="3.1"/><circle cx="796.1" cy="1118.9" r="3.1"/><circle cx="797.4" cy="1122.8" r="3.1"/><circle cx="798.4" cy="1119.8" r="3.1"/><circle cx="799.9" cy="1120.7" r="3.1"/><circle cx="801.4" cy="1116.3" r="3.1"/><circle cx="802.6" cy="1122.0" r="3.1"/><circle cx="803.9" cy="1122.5" r="3.1"/><circle cx="805.3" cy="1118.1" r="3.1"/><circle cx="806.5" cy="1119.3" r="3.1"/><circle cx="807.7" cy="1122.4" r="3.1"/><circle cx="809.3" cy="1124.3" r="3.1"/><circle cx="810.1" cy="1115.3" r="3.1"/><circle cx="811.5" cy="1124.9" r="3.1"/><circle cx="812.9" cy="1125.9" r="3.1"/><circle cx="814.2" cy="1125.1" r="3.1"/><circle cx="815.5" cy="1126.8" r="3.1"/><circle cx="816.9" cy="1127.6" r="3.1"/><circle cx="818.1" cy="1123.4" r="3.1"/><circle cx="819.5" cy="1127.9" r="3.1"/><circle cx="820.9" cy="1126.1" r="3.1"/><circle cx="822.1" cy="1124.1" r="3.1"/><circle cx="823.4" cy="1127.7" r="3.1"/><circle cx="824.6" cy="1131.7" r="3.1"/><circle cx="825.8" cy="1122.9" r="3.1"/><circle cx="827.3" cy="1122.5" r="3.1"/><circle cx="828.7" cy="1122.6" r="3.1"/><circle cx="830.0" cy="1133.6" r="3.1"/><circle cx="831.4" cy="1127.0" r="3.1"/><circle cx="832.7" cy="1127.8" r="3.1"/><circle cx="834.0" cy="1125.7" r="3.1"/><circle cx="835.0" cy="1125.4" r="3.1"/><circle cx="836.6" cy="1122.3" r="3.1"/><circle cx="837.8" cy="1129.1" r="3.1"/><circle cx="839.3" cy="1129.5" r="3.1"/><circle cx="840.4" cy="1123.0" r="3.1"/><circle cx="841.7" cy="1125.9" r="3.1"/><circle cx="842.9" cy="1126.9" r="3.1"/><circle cx="844.2" cy="1129.2" r="3.1"/><circle cx="845.3" cy="1130.0" r="3.1"/><circle cx="846.8" cy="1132.7" r="3.1"/><circle cx="848.1" cy="1133.4" r="3.1"/><circle cx="849.5" cy="1132.5" r="3.1"/><circle cx="850.6" cy="1133.2" r="3.1"/><circle cx="852.0" cy="1125.6" r="3.1"/><circle cx="853.6" cy="1127.4" r="3.1"/><circle cx="854.5" cy="1132.3" r="3.1"/><circle cx="856.0" cy="1129.6" r="3.1"/><circle cx="857.1" cy="1128.6" r="3.1"/><circle cx="858.5" cy="1122.4" r="3.1"/><circle cx="859.9" cy="1122.6" r="3.1"/><circle cx="861.2" cy="1130.2" r="3.1"/><circle cx="862.3" cy="1128.8" r="3.1"/><circle cx="863.5" cy="1126.6" r="3.1"/><circle cx="865.2" cy="1126.0" r="3.1"/><circle cx="866.3" cy="1121.7" r="3.1"/><circle cx="867.7" cy="1127.6" r="3.1"/><circle cx="869.0" cy="1129.2" r="3.1"/><circle cx="870.3" cy="1130.6" r="3.1"/><circle cx="871.5" cy="1125.4" r="3.1"/><circle cx="872.8" cy="1124.2" r="3.1"/><circle cx="873.9" cy="1121.1" r="3.1"/><circle cx="875.4" cy="1127.6" r="3.1"/><circle cx="876.6" cy="1128.7" r="3.1"/><circle cx="878.0" cy="1121.4" r="3.1"/><circle cx="879.6" cy="1123.8" r="3.1"/><circle cx="880.7" cy="1122.9" r="3.1"/><circle cx="881.9" cy="1120.6" r="3.1"/><circle cx="883.0" cy="1114.6" r="3.1"/><circle cx="884.6" cy="1120.7" r="3.1"/><circle cx="886.0" cy="1123.4" r="3.1"/><circle cx="887.0" cy="1117.0" r="3.1"/><circle cx="888.5" cy="1118.6" r="3.1"/><circle cx="889.6" cy="1111.0" r="3.1"/><circle cx="891.0" cy="1124.4" r="3.1"/><circle cx="892.2" cy="1121.8" r="3.1"/><circle cx="893.4" cy="1120.1" r="3.1"/><circle cx="894.8" cy="1118.8" r="3.1"/><circle cx="896.0" cy="1117.4" r="3.1"/><circle cx="897.7" cy="1118.7" r="3.1"/><circle cx="899.0" cy="1117.6" r="3.1"/><circle cx="900.1" cy="1117.4" r="3.1"/><circle cx="901.4" cy="1117.7" r="3.1"/><circle cx="902.7" cy="1117.8" r="3.1"/><circle cx="904.0" cy="1121.6" r="3.1"/><circle cx="905.3" cy="1112.2" r="3.1"/><circle cx="906.6" cy="1117.0" r="3.1"/><circle cx="907.9" cy="1113.9" r="3.1"/><circle cx="909.0" cy="1111.9" r="3.1"/><circle cx="910.4" cy="1107.8" r="3.1"/><circle cx="911.7" cy="1116.3" r="3.1"/><circle cx="913.1" cy="1111.1" r="3.1"/><circle cx="914.3" cy="1111.3" r="3.1"/><circle cx="916.0" cy="1114.6" r="3.1"/><circle cx="917.0" cy="1109.4" r="3.1"/><circle cx="918.2" cy="1112.3" r="3.1"/><circle cx="919.7" cy="1111.6" r="3.1"/><circle cx="921.1" cy="1113.7" r="3.1"/><circle cx="922.5" cy="1113.9" r="3.1"/><circle cx="923.6" cy="1107.8" r="3.1"/><circle cx="924.7" cy="1112.7" r="3.1"/><circle cx="926.1" cy="1109.1" r="3.1"/><circle cx="927.6" cy="1109.3" r="3.1"/><circle cx="928.7" cy="1107.8" r="3.1"/><circle cx="930.1" cy="1110.3" r="3.1"/></g>
<path d="M156.4,962.4 L157.3,962.0 L158.2,961.6 L159.2,961.2 L160.1,960.9 L161.0,960.5 L161.9,960.1 L162.8,959.7 L163.8,959.3 L164.7,958.9 L165.6,958.5 L166.5,958.1 L167.4,957.7 L168.3,957.3 L169.3,956.9 L170.2,956.5 L171.1,956.0 L172.0,955.6 L172.9,955.2 L173.8,954.8 L174.7,954.4 L175.6,954.0 L176.6,953.6 L177.5,953.2 L178.4,952.7 L179.3,952.3 L180.2,951.9 L181.1,951.4 L182.0,951.0 L182.8,950.5 L183.7,950.1 L184.6,949.6 L185.5,949.1 L186.4,948.6 L187.2,948.1 L188.1,947.6 L188.9,947.1 L189.8,946.5 L190.6,946.0 L191.4,945.4 L192.2,944.8 L193.0,944.3 L193.9,943.7 L194.7,943.1 L195.5,942.5 L196.3,942.0 L197.2,941.4 L198.0,940.9 L198.9,940.4 L199.7,939.9 L200.6,939.4 L201.5,938.9 L202.4,938.4 L203.2,938.0 L204.1,937.5 L205.0,937.0 L205.9,936.6 L206.8,936.1 L207.7,935.6 L208.5,935.1 L209.4,934.7 L210.3,934.2 L211.2,933.7 L212.0,933.2 L212.9,932.7 L213.7,932.2 L214.6,931.7 L215.5,931.1 L216.3,930.6 L217.2,930.1 L218.0,929.6 L218.9,929.0 L219.7,928.5 L220.6,928.0 L221.4,927.4 L222.3,926.9 L223.1,926.4 L224.0,925.9 L224.8,925.4 L225.7,924.9 L226.6,924.4 L227.4,923.9 L228.3,923.4 L229.2,922.9 L230.1,922.4 L230.9,922.0 L231.8,921.5 L232.7,921.0 L233.6,920.5 L234.5,920.1 L235.3,919.6 L236.2,919.1 L237.1,918.7 L238.0,918.2 L238.9,917.7 L239.8,917.3 L240.7,916.8 L241.6,916.4 L242.5,916.0 L243.4,915.6 L244.3,915.2 L245.2,914.9 L246.2,914.6 L247.1,914.4 L248.1,914.2 L249.1,914.0 L250.1,913.9 L251.1,913.8 L252.0,913.7 L253.0,913.7 L254.0,913.6 L255.0,913.6 L256.0,913.6 L257.0,913.6 L258.0,913.6 L259.0,913.6 L260.0,913.7 L261.0,913.7 L262.0,913.8 L263.0,913.9 L264.0,914.0 L265.0,914.2 L265.9,914.4 L266.9,914.7 L267.8,915.0 L268.8,915.3 L269.7,915.6 L270.6,916.0 L271.5,916.4 L272.5,916.8 L273.4,917.2 L274.3,917.6 L275.2,918.0 L276.1,918.5 L277.0,918.9 L277.8,919.4 L278.7,919.9 L279.6,920.4 L280.4,920.9 L281.2,921.5 L282.1,922.0 L282.9,922.6 L283.7,923.2 L284.5,923.8 L285.3,924.4 L286.0,925.1 L286.8,925.7 L287.5,926.4 L288.3,927.0 L289.0,927.7 L289.7,928.4 L290.4,929.1 L291.1,929.8 L291.8,930.6 L292.5,931.3 L293.2,932.0 L293.9,932.8 L294.5,933.5 L295.2,934.3 L295.8,935.0 L296.5,935.8 L297.1,936.6 L297.7,937.4 L298.3,938.1 L298.9,938.9 L299.5,939.7 L300.1,940.6 L300.7,941.4 L301.3,942.2 L301.8,943.0 L302.4,943.8 L302.9,944.7 L303.5,945.5 L304.0,946.4 L304.6,947.2 L305.1,948.1 L305.6,948.9 L306.1,949.8 L306.6,950.6 L307.1,951.5 L307.6,952.4 L308.1,953.2 L308.5,954.1 L309.0,955.0 L309.5,955.9 L310.0,956.8 L310.4,957.7 L310.9,958.6 L311.3,959.4 L311.8,960.3 L312.2,961.2 L312.6,962.1 L313.1,963.0 L313.5,963.9 L313.9,964.8 L314.4,965.7 L314.8,966.7 L315.2,967.6 L315.6,968.5 L316.0,969.4 L316.4,970.3 L316.8,971.2 L317.2,972.1 L317.7,973.0 L318.1,974.0 L318.4,974.9 L318.8,975.8 L319.2,976.7 L319.6,977.6 L320.0,978.6 L320.4,979.5 L320.8,980.4 L321.2,981.3 L321.5,982.3 L321.9,983.2 L322.3,984.1 L322.6,985.0 L323.0,986.0 L323.3,986.9 L323.7,987.9 L324.0,988.8 L324.4,989.7 L324.7,990.7 L325.1,991.6 L325.4,992.5 L325.8,993.5 L326.1,994.4 L326.5,995.4 L326.8,996.3 L327.2,997.2 L327.5,998.2 L327.9,999.1 L328.3,1000.0 L328.7,1000.9 L329.1,1001.9 L329.5,1002.8 L329.9,1003.7 L330.3,1004.6 L330.7,1005.5 L331.1,1006.4 L331.5,1007.4 L331.9,1008.3 L332.2,1009.2 L332.6,1010.1 L333.0,1011.0 L333.4,1012.0 L333.8,1012.9 L334.1,1013.8 L334.5,1014.8 L334.8,1015.7 L335.2,1016.6 L335.5,1017.6 L335.8,1018.5 L336.2,1019.5 L336.5,1020.4 L336.8,1021.4 L337.1,1022.3 L337.5,1023.2 L337.8,1024.2 L338.1,1025.1 L338.4,1026.1 L338.8,1027.0 L339.1,1028.0 L339.4,1028.9 L339.8,1029.9 L340.1,1030.8 L340.5,1031.7 L340.8,1032.7 L341.2,1033.6 L341.6,1034.5 L341.9,1035.5 L342.3,1036.4 L342.7,1037.3 L343.0,1038.2 L343.4,1039.2 L343.8,1040.1 L344.2,1041.0 L344.5,1042.0 L344.9,1042.9 L345.3,1043.8 L345.7,1044.7 L346.1,1045.6 L346.5,1046.6 L346.9,1047.5 L347.3,1048.4 L347.7,1049.3 L348.1,1050.2 L348.5,1051.1 L348.9,1052.0 L349.4,1052.9 L349.8,1053.8 L350.2,1054.8 L350.6,1055.7 L351.0,1056.6 L351.4,1057.5 L351.8,1058.4 L352.2,1059.3 L352.6,1060.3 L352.9,1061.2 L353.3,1062.1 L353.6,1063.1 L354.0,1064.0 L354.3,1064.9 L354.6,1065.9 L355.0,1066.8 L355.3,1067.8 L355.6,1068.7 L355.9,1069.7 L356.2,1070.6 L356.5,1071.6 L356.9,1072.5 L357.2,1073.5 L357.5,1074.4 L357.9,1075.3 L358.2,1076.3 L358.6,1077.2 L359.0,1078.1 L359.4,1079.0 L359.8,1079.9 L360.2,1080.8 L360.7,1081.7 L361.2,1082.6 L361.6,1083.5 L362.1,1084.4 L362.6,1085.2 L363.1,1086.1 L363.6,1087.0 L364.1,1087.8 L364.6,1088.7 L365.1,1089.6 L365.6,1090.5 L366.1,1091.3 L366.5,1092.2 L367.0,1093.1 L367.5,1094.0 L367.9,1094.9 L368.4,1095.7 L368.9,1096.6 L369.3,1097.5 L369.8,1098.4 L370.3,1099.3 L370.8,1100.2 L371.2,1101.0 L371.7,1101.9 L372.2,1102.8 L372.8,1103.6 L373.3,1104.5 L373.8,1105.3 L374.3,1106.2 L374.9,1107.0 L375.4,1107.8 L376.0,1108.7 L376.5,1109.5 L377.1,1110.3 L377.7,1111.2 L378.2,1112.0 L378.8,1112.8 L379.3,1113.6 L379.9,1114.5 L380.4,1115.3 L381.0,1116.1 L381.6,1117.0 L382.1,1117.8 L382.7,1118.6 L383.2,1119.5 L383.8,1120.3 L384.4,1121.1 L384.9,1121.9 L385.5,1122.7 L386.1,1123.5 L386.8,1124.3 L387.4,1125.1 L388.0,1125.9 L388.7,1126.6 L389.3,1127.4 L390.0,1128.1 L390.7,1128.8 L391.4,1129.6 L392.1,1130.3 L392.8,1131.0 L393.5,1131.7 L394.2,1132.3 L395.0,1133.0 L395.7,1133.7 L396.5,1134.3 L397.3,1134.9 L398.1,1135.5 L398.9,1136.1 L399.7,1136.7 L400.5,1137.3 L401.3,1137.8 L402.2,1138.3 L403.1,1138.7 L403.9,1139.1 L404.9,1139.4 L405.8,1139.7 L406.7,1139.9 L407.7,1140.0 L408.7,1140.1 L409.7,1140.1 L410.7,1140.1 L411.7,1140.1 L412.6,1140.1 L413.6,1140.0 L414.6,1139.8 L415.6,1139.7 L416.6,1139.5 L417.6,1139.3 L418.5,1139.1 L419.5,1138.9 L420.5,1138.6 L421.4,1138.4 L422.4,1138.1 L423.3,1137.7 L424.2,1137.4 L425.2,1137.0 L426.1,1136.6 L426.9,1136.1 L427.8,1135.7 L428.7,1135.2 L429.5,1134.7 L430.4,1134.1 L431.2,1133.6 L432.1,1133.1 L432.9,1132.5 L433.8,1132.0 L434.6,1131.5 L435.5,1130.9 L436.3,1130.4 L437.1,1129.8 L438.0,1129.3 L438.8,1128.7 L439.6,1128.2 L440.5,1127.6 L441.3,1127.1 L442.1,1126.5 L443.0,1126.0 L443.8,1125.4 L444.6,1124.9 L445.5,1124.3 L446.3,1123.8 L447.2,1123.3 L448.0,1122.7 L448.9,1122.2 L449.7,1121.6 L450.5,1121.1 L451.4,1120.5 L452.2,1120.0 L453.0,1119.4 L453.9,1118.9 L454.7,1118.3 L455.5,1117.7 L456.3,1117.2 L457.2,1116.6 L458.0,1116.0 L458.8,1115.4 L459.6,1114.8 L460.4,1114.3 L461.2,1113.6 L462.0,1113.0 L462.7,1112.4 L463.5,1111.8 L464.3,1111.1 L465.0,1110.4 L465.7,1109.8 L466.4,1109.1 L467.1,1108.4 L467.8,1107.6 L468.5,1106.9 L469.2,1106.1 L469.8,1105.4 L470.5,1104.6 L471.1,1103.9 L471.8,1103.1 L472.5,1102.4 L473.2,1101.7 L473.8,1101.0 L474.6,1100.3 L475.3,1099.6 L476.0,1098.9 L476.8,1098.2 L477.5,1097.6 L478.3,1096.9 L479.0,1096.3 L479.8,1095.7 L480.6,1095.0 L481.4,1094.4 L482.2,1093.8 L482.9,1093.1 L483.7,1092.5 L484.5,1091.9 L485.2,1091.2 L486.0,1090.6 L486.7,1089.9 L487.5,1089.2 L488.2,1088.5 L488.9,1087.9 L489.7,1087.2 L490.4,1086.5 L491.1,1085.8 L491.9,1085.1 L492.6,1084.5 L493.3,1083.8 L494.1,1083.1 L494.8,1082.5 L495.6,1081.8 L496.3,1081.1 L497.1,1080.5 L497.8,1079.8 L498.6,1079.2 L499.4,1078.5 L500.1,1077.9 L500.9,1077.2 L501.7,1076.6 L502.4,1076.0 L503.2,1075.3 L504.0,1074.7 L504.8,1074.1 L505.5,1073.5 L506.3,1072.8 L507.1,1072.2 L507.9,1071.6 L508.7,1071.0 L509.5,1070.4 L510.3,1069.8 L511.1,1069.2 L511.9,1068.6 L512.7,1068.0 L513.5,1067.4 L514.3,1066.8 L515.1,1066.2 L515.9,1065.6 L516.7,1065.1 L517.6,1064.5 L518.4,1063.9 L519.2,1063.3 L520.0,1062.8 L520.8,1062.2 L521.7,1061.6 L522.5,1061.1 L523.3,1060.5 L524.1,1059.9 L525.0,1059.4 L525.8,1058.8 L526.7,1058.3 L527.5,1057.8 L528.3,1057.2 L529.2,1056.7 L530.0,1056.2 L530.9,1055.7 L531.8,1055.2 L532.6,1054.7 L533.5,1054.2 L534.4,1053.8 L535.3,1053.3 L536.2,1052.9 L537.1,1052.5 L538.0,1052.1 L538.9,1051.7 L539.9,1051.3 L540.8,1051.0 L541.7,1050.6 L542.7,1050.3 L543.6,1050.0 L544.6,1049.7 L545.5,1049.3 L546.5,1049.0 L547.4,1048.7 L548.3,1048.3 L549.3,1047.9 L550.2,1047.5 L551.1,1047.1 L552.0,1046.7 L552.9,1046.2 L553.7,1045.7 L554.6,1045.3 L555.5,1044.8 L556.3,1044.2 L557.2,1043.7 L558.0,1043.2 L558.9,1042.7 L559.7,1042.1 L560.6,1041.6 L561.4,1041.1 L562.3,1040.6 L563.2,1040.1 L564.0,1039.6 L564.9,1039.1 L565.8,1038.7 L566.7,1038.2 L567.6,1037.8 L568.5,1037.5 L569.5,1037.1 L570.4,1036.8 L571.3,1036.5 L572.3,1036.2 L573.3,1035.9 L574.2,1035.7 L575.2,1035.4 L576.2,1035.2 L577.1,1035.0 L578.1,1034.8 L579.1,1034.5 L580.1,1034.3 L581.0,1034.1 L582.0,1033.9 L583.0,1033.7 L584.0,1033.4 L584.9,1033.2 L585.9,1033.0 L586.9,1032.8 L587.9,1032.5 L588.8,1032.3 L589.8,1032.1 L590.8,1031.8 L591.8,1031.6 L592.7,1031.4 L593.7,1031.2 L594.7,1030.9 L595.7,1030.7 L596.6,1030.5 L597.6,1030.3 L598.6,1030.1 L599.6,1029.8 L600.5,1029.6 L601.5,1029.4 L602.5,1029.2 L603.5,1029.0 L604.5,1028.8 L605.4,1028.6 L606.4,1028.5 L607.4,1028.3 L608.4,1028.1 L609.4,1027.9 L610.4,1027.7 L611.3,1027.5 L612.3,1027.3 L613.3,1027.1 L614.3,1026.9 L615.3,1026.7 L616.2,1026.5 L617.2,1026.3 L618.2,1026.1 L619.2,1025.8 L620.1,1025.6 L621.1,1025.4 L622.1,1025.2 L623.1,1024.9 L624.0,1024.7 L625.0,1024.5 L626.0,1024.3 L627.0,1024.0 L627.9,1023.8 L628.9,1023.6 L629.9,1023.4 L630.9,1023.2 L631.8,1023.0 L632.8,1022.8 L633.8,1022.6 L634.8,1022.4 L635.8,1022.2 L636.7,1022.1 L637.7,1021.9 L638.7,1021.7 L639.7,1021.6 L640.7,1021.4 L641.7,1021.3 L642.7,1021.2 L643.7,1021.0 L644.7,1020.9 L645.7,1020.8 L646.6,1020.7 L647.6,1020.6 L648.6,1020.4 L649.6,1020.3 L650.6,1020.2 L651.6,1020.1 L652.6,1020.0 L653.6,1019.9 L654.6,1019.8 L655.6,1019.7 L656.6,1019.6 L657.6,1019.5 L658.6,1019.4 L659.6,1019.3 L660.6,1019.2 L661.6,1019.2 L662.6,1019.1 L663.6,1019.0 L664.6,1018.9 L665.6,1018.8 L666.6,1018.8 L667.6,1018.7 L668.6,1018.6 L669.5,1018.5 L670.5,1018.5 L671.5,1018.4 L672.5,1018.3 L673.5,1018.3 L674.5,1018.2 L675.5,1018.1 L676.5,1018.1 L677.5,1018.0 L678.5,1017.9 L679.5,1017.9 L680.5,1017.8 L681.5,1017.8 L682.5,1017.7 L683.5,1017.6 L684.5,1017.6 L685.5,1017.5 L686.5,1017.5 L687.5,1017.4 L688.5,1017.4 L689.5,1017.3 L690.5,1017.2 L691.5,1017.2 L692.5,1017.1 L693.5,1017.1 L694.5,1017.0 L695.5,1017.0 L696.5,1016.9 L697.5,1016.9 L698.5,1016.8 L699.5,1016.8 L700.5,1016.7 L701.5,1016.7 L702.5,1016.6 L703.5,1016.6 L704.5,1016.5 L705.5,1016.5 L706.5,1016.5 L707.5,1016.4 L708.5,1016.4 L709.5,1016.3 L710.5,1016.3 L711.5,1016.2 L712.5,1016.2 L713.5,1016.1 L714.5,1016.1 L715.5,1016.1 L716.5,1016.0 L717.5,1016.0 L718.5,1015.9 L719.5,1015.9 L720.5,1015.9 L721.5,1015.8 L722.5,1015.8 L723.5,1015.7 L724.5,1015.7 L725.5,1015.7 L726.5,1015.6 L727.5,1015.6 L728.5,1015.6 L729.5,1015.5 L730.5,1015.5 L731.5,1015.4 L732.5,1015.4 L733.5,1015.4 L734.5,1015.3 L735.5,1015.3 L736.5,1015.3 L737.5,1015.2 L738.5,1015.2 L739.5,1015.2 L740.5,1015.1 L741.5,1015.1 L742.5,1015.1 L743.5,1015.0 L744.5,1015.0 L745.5,1015.0 L746.5,1014.9 L747.5,1014.9 L748.5,1014.9 L749.5,1014.8 L750.5,1014.8 L751.5,1014.8 L752.5,1014.7 L753.5,1014.7 L754.5,1014.7 L755.5,1014.6 L756.5,1014.6 L757.5,1014.6 L758.5,1014.6 L759.5,1014.5 L760.5,1014.5 L761.5,1014.5 L762.5,1014.4 L763.5,1014.4 L764.5,1014.4 L765.5,1014.3 L766.4,1014.3 L767.4,1014.3 L768.4,1014.3 L769.4,1014.2 L770.4,1014.2 L771.4,1014.2 L772.4,1014.2 L773.4,1014.1 L774.4,1014.1 L775.4,1014.1 L776.4,1014.0 L777.4,1014.0 L778.4,1014.0 L779.4,1014.0 L780.4,1013.9 L781.4,1013.9 L782.4,1013.9 L783.4,1013.9 L784.4,1013.8 L785.4,1013.8 L786.4,1013.8 L787.4,1013.8 L788.4,1013.8 L789.4,1013.7 L790.4,1013.7 L791.4,1013.7 L792.4,1013.7 L793.4,1013.6 L794.4,1013.6 L795.4,1013.6 L796.4,1013.6 L797.4,1013.6 L798.4,1013.5 L799.4,1013.5 L800.4,1013.5 L801.4,1013.5 L802.4,1013.5 L803.4,1013.4 L804.4,1013.4 L805.4,1013.4 L806.4,1013.4 L807.4,1013.3 L808.4,1013.3 L809.4,1013.3 L810.4,1013.3 L811.4,1013.3 L812.4,1013.2 L813.4,1013.2 L814.4,1013.2 L815.4,1013.2 L816.4,1013.2 L817.4,1013.1 L818.4,1013.1 L819.4,1013.1 L820.4,1013.1 L821.4,1013.1 L822.4,1013.0 L823.4,1013.0 L824.4,1013.0 L825.4,1013.0 L826.4,1013.0 L827.4,1013.0 L828.4,1012.9 L829.4,1012.9 L830.4,1012.9 L831.4,1012.9 L832.4,1012.9 L833.4,1012.8 L834.4,1012.8 L835.4,1012.8 L836.4,1012.8 L837.4,1012.8 L838.4,1012.7 L839.4,1012.7 L840.4,1012.7 L841.4,1012.7 L842.4,1012.7 L843.4,1012.7 L844.4,1012.6 L845.4,1012.6 L846.4,1012.6 L847.4,1012.6 L848.4,1012.6 L849.4,1012.5 L850.4,1012.5 L851.4,1012.5 L852.4,1012.5 L853.4,1012.5 L854.4,1012.5 L855.4,1012.4 L856.4,1012.4 L857.4,1012.4 L858.4,1012.4 L859.4,1012.4 L860.4,1012.4 L861.4,1012.3 L862.4,1012.3 L863.4,1012.3 L864.4,1012.3 L865.4,1012.3 L866.4,1012.3 L867.4,1012.2 L868.4,1012.2 L869.4,1012.2 L870.4,1012.2 L871.4,1012.2 L872.4,1012.2 L873.4,1012.1 L874.4,1012.1 L875.4,1012.1 L876.4,1012.1 L877.4,1012.1 L878.4,1012.1 L879.4,1012.1 L880.4,1012.0 L881.4,1012.0 L882.4,1012.0 L883.4,1012.0 L884.4,1012.0 L885.4,1012.0 L886.4,1012.0 L887.4,1011.9 L888.4,1011.9 L889.4,1011.9 L890.4,1011.9 L891.4,1011.9 L892.4,1011.9 L893.4,1011.9 L894.4,1011.9 L895.4,1011.8 L896.4,1011.8 L897.4,1011.8 L898.4,1011.8 L899.4,1011.8 L900.4,1011.8 L901.4,1011.8 L902.4,1011.8 L903.4,1011.7 L904.4,1011.7 L905.4,1011.7 L906.4,1011.7 L907.4,1011.7 L908.4,1011.7 L909.4,1011.7 L910.4,1011.7 L911.4,1011.7 L912.4,1011.7 L913.4,1011.6 L914.4,1011.6 L915.4,1011.6 L916.4,1011.6 L917.4,1011.6 L918.4,1011.6 L919.4,1011.6 L920.4,1011.6 L921.4,1011.6 L922.4,1011.6 L923.4,1011.6 L924.4,1011.5 L925.4,1011.5 L926.4,1011.5 L927.4,1011.5 L928.4,1011.5 L929.4,1011.5 L930.4,1011.5" fill="none" stroke="#0000ff" stroke-width="4.4" stroke-linejoin="round" stroke-linecap="round" stroke-dasharray="13.5 22" />
<g stroke="#000" stroke-width="3" stroke-linecap="round"><path d="M163.8,530.99 L156.3,530.99 L156.3,842.01 L931.20,842.01 L931.20,834.51" fill="none" stroke-linejoin="round"/><line x1="156.3" y1="562.09" x2="170.3" y2="562.09"/><line x1="156.3" y1="624.29" x2="170.3" y2="624.29"/><line x1="156.3" y1="686.50" x2="170.3" y2="686.50"/><line x1="156.3" y1="748.71" x2="170.3" y2="748.71"/><line x1="156.3" y1="810.91" x2="170.3" y2="810.91"/><line x1="156.3" y1="593.19" x2="163.8" y2="593.19"/><line x1="156.3" y1="655.40" x2="163.8" y2="655.40"/><line x1="156.3" y1="717.60" x2="163.8" y2="717.60"/><line x1="156.3" y1="779.81" x2="163.8" y2="779.81"/><line x1="226.60" y1="842.01" x2="226.60" y2="828.01"/><line x1="508.44" y1="842.01" x2="508.44" y2="828.01"/><line x1="790.28" y1="842.01" x2="790.28" y2="828.01"/><line x1="367.52" y1="842.01" x2="367.52" y2="834.51"/><line x1="649.36" y1="842.01" x2="649.36" y2="834.51"/></g>
<text transform="translate(139.5,569.59) scale(0.975,1.0)" font-family="'Liberation Sans', sans-serif" font-size="31" text-anchor="end" fill="#000" >300</text>
<text transform="translate(139.5,631.795) scale(0.975,1.0)" font-family="'Liberation Sans', sans-serif" font-size="31" text-anchor="end" fill="#000" >150</text>
<text transform="translate(139.5,694.0) scale(0.975,1.0)" font-family="'Liberation Sans', sans-serif" font-size="31" text-anchor="end" fill="#000" >0</text>
<text transform="translate(139.5,756.205) scale(0.975,1.0)" font-family="'Liberation Sans', sans-serif" font-size="31" text-anchor="end" fill="#000" >-150</text>
<text transform="translate(139.5,818.41) scale(0.975,1.0)" font-family="'Liberation Sans', sans-serif" font-size="31" text-anchor="end" fill="#000" >-300</text>
<g stroke="#000" stroke-width="3" stroke-linecap="round"><path d="M163.8,856.66 L156.3,856.66 L156.3,1167.48 L931.20,1167.48 L931.20,1159.98" fill="none" stroke-linejoin="round"/><line x1="156.3" y1="887.74" x2="170.3" y2="887.74"/><line x1="156.3" y1="949.91" x2="170.3" y2="949.91"/><line x1="156.3" y1="1012.07" x2="170.3" y2="1012.07"/><line x1="156.3" y1="1074.23" x2="170.3" y2="1074.23"/><line x1="156.3" y1="1136.40" x2="170.3" y2="1136.40"/><line x1="156.3" y1="918.83" x2="163.8" y2="918.83"/><line x1="156.3" y1="980.99" x2="163.8" y2="980.99"/><line x1="156.3" y1="1043.15" x2="163.8" y2="1043.15"/><line x1="156.3" y1="1105.31" x2="163.8" y2="1105.31"/><line x1="226.60" y1="1167.48" x2="226.60" y2="1153.48"/><line x1="508.44" y1="1167.48" x2="508.44" y2="1153.48"/><line x1="790.28" y1="1167.48" x2="790.28" y2="1153.48"/><line x1="367.52" y1="1167.48" x2="367.52" y2="1159.98"/><line x1="649.36" y1="1167.48" x2="649.36" y2="1159.98"/></g>
<text transform="translate(139.5,895.244) scale(0.975,1.0)" font-family="'Liberation Sans', sans-serif" font-size="31" text-anchor="end" fill="#000" >300</text>
<text transform="translate(139.5,957.407) scale(0.975,1.0)" font-family="'Liberation Sans', sans-serif" font-size="31" text-anchor="end" fill="#000" >150</text>
<text transform="translate(139.5,1019.57) scale(0.975,1.0)" font-family="'Liberation Sans', sans-serif" font-size="31" text-anchor="end" fill="#000" >0</text>
<text transform="translate(139.5,1081.733) scale(0.975,1.0)" font-family="'Liberation Sans', sans-serif" font-size="31" text-anchor="end" fill="#000" >-150</text>
<text transform="translate(139.5,1143.896) scale(0.975,1.0)" font-family="'Liberation Sans', sans-serif" font-size="31" text-anchor="end" fill="#000" >-300</text>
<text transform="translate(226.6,1209.4) scale(0.95,1.0)" font-family="'Liberation Sans', sans-serif" font-size="35" text-anchor="middle" fill="#000" >60</text>
<text transform="translate(508.4,1209.4) scale(0.95,1.0)" font-family="'Liberation Sans', sans-serif" font-size="35" text-anchor="middle" fill="#000" >80</text>
<text transform="translate(790.3,1209.4) scale(0.95,1.0)" font-family="'Liberation Sans', sans-serif" font-size="35" text-anchor="middle" fill="#000" >100</text>
<text x="839.8" y="640.0" font-family="'Liberation Serif', serif" font-size="40">φ<tspan font-size="44" dy="3.8">=</tspan><tspan font-size="44" dy="-3.8">0°</tspan></text>
<text x="817.6" y="968.9" font-family="'Liberation Serif', serif" font-size="40">φ<tspan font-size="44" dy="3.8">=</tspan><tspan font-size="44" dy="-3.8">75°</tspan></text>
<text transform="translate(73.8,205.5) rotate(-90) scale(0.975,1)" font-family="'Liberation Sans', sans-serif" font-size="34" text-anchor="middle">FMR signal (arb. units)</text>
<text transform="translate(64.6,848) rotate(-90) scale(0.975,1)" font-family="'Liberation Sans', sans-serif" font-size="34" text-anchor="middle">FMR signal (arb. units)</text>
<text transform="translate(459.6,430.7) scale(1.026,1)" font-family="'Liberation Sans', sans-serif" font-size="33">H ( kA.m<tspan dy="-18" font-size="19">-1</tspan><tspan dy="18"> )</tspan></text>
<text transform="translate(459.6,1251.6) scale(1.026,1)" font-family="'Liberation Sans', sans-serif" font-size="33">H ( kA.m<tspan dy="-18" font-size="19">-1</tspan><tspan dy="18"> )</tspan></text>
<text transform="translate(5.1,32.3) scale(1.05,1.0)" font-family="'Liberation Sans', sans-serif" font-size="39.5" text-anchor="start" fill="#000" >(a)</text>
<text transform="translate(7.6,552.3) scale(1.01,1.0)" font-family="'Liberation Sans', sans-serif" font-size="40" text-anchor="start" fill="#000" >(b)</text>
<line x1="1" y1="475.3" x2="998" y2="475.3" stroke="#000" stroke-width="3"/>
<rect x="209.5" y="409.3" width="171.5" height="123.5" fill="#fff" stroke="#000" stroke-width="1.6"/>
<text x="224.3" y="444.6" font-family="'Liberation Sans', sans-serif" font-size="30" text-anchor="start" fill="#000" >Dark State</text>
<circle cx="239.3" cy="471.6" r="8.4" fill="#fff" stroke="#000" stroke-width="1.5"/>
<text transform="translate(262.2,480.7) scale(1.01,1.0)" font-family="'Liberation Sans', sans-serif" font-size="30" text-anchor="start" fill="#000" >5nm</text>
<line x1="224.5" y1="507.8" x2="255.5" y2="507.8" stroke="#000" stroke-width="5.5" stroke-linecap="round"/>
<text transform="translate(263.5,516.8) scale(0.985,1.0)" font-family="'Liberation Sans', sans-serif" font-size="30" text-anchor="start" fill="#000" >10nm</text>
<rect x="717.5" y="408.7" width="207.5" height="122" fill="#fff" stroke="#000" stroke-width="1.6"/>
<text x="732.9" y="443" font-family="'Liberation Sans', sans-serif" font-size="30" text-anchor="start" fill="#0000ff" >Under CMPE</text>
<circle cx="748.4" cy="470.2" r="9.4" fill="#0000ff"/>
<text transform="translate(769.6,479.8) scale(1.02,1.0)" font-family="'Liberation Sans', sans-serif" font-size="30" text-anchor="start" fill="#0000ff" >5nm</text>
<line x1="733.5" y1="506.9" x2="749.5" y2="506.9" stroke="#0000ff" stroke-width="4.2" stroke-linecap="round"/>
<text transform="translate(770.5,516.8) scale(1.01,1.0)" font-family="'Liberation Sans', sans-serif" font-size="30" text-anchor="start" fill="#0000ff" >10nm</text>
</svg></body></html>
